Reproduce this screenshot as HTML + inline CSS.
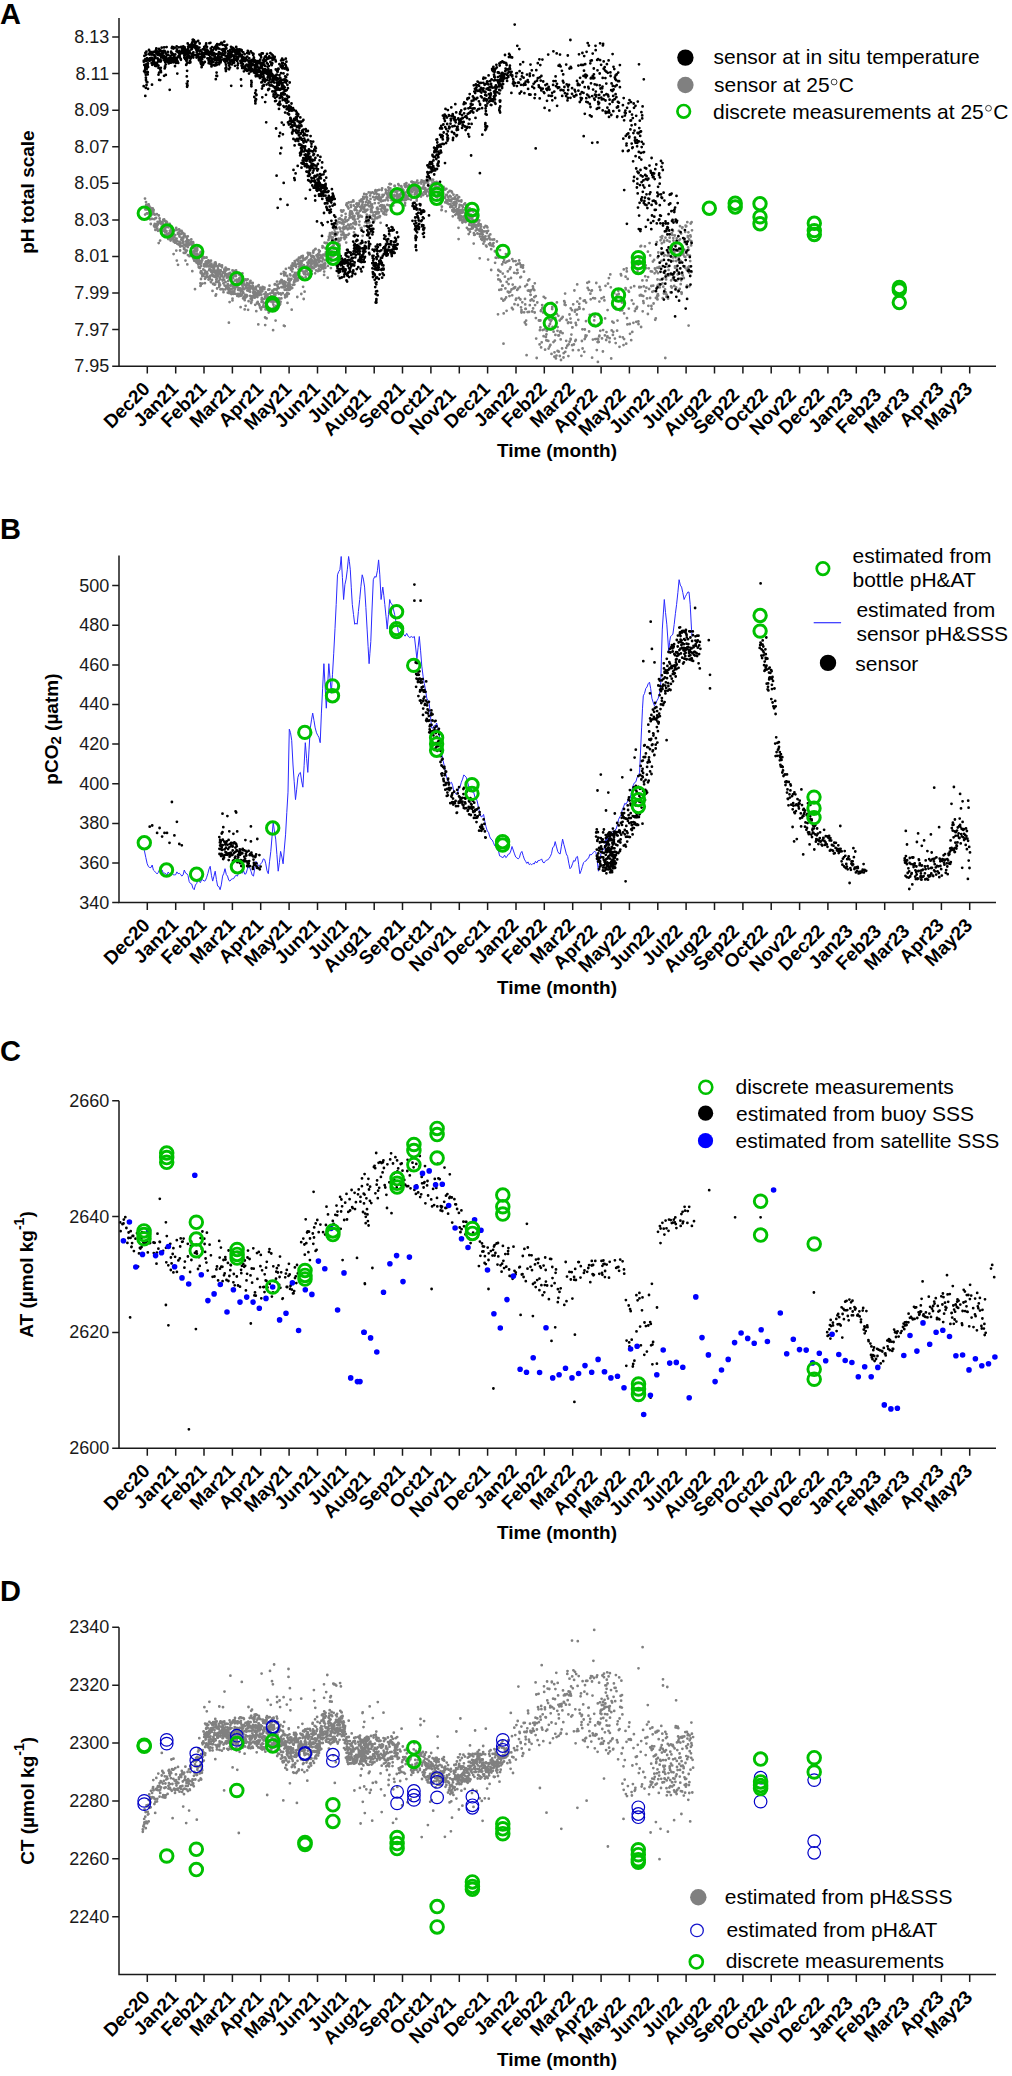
<!DOCTYPE html>
<html><head><meta charset="utf-8"><style>
html,body{margin:0;padding:0;background:#fff;}
svg{display:block;}
text{font-family:"Liberation Sans",sans-serif;fill:#000;}
.pl{font-size:29px;font-weight:bold;}
.tl{font-size:18px;text-anchor:end;fill:#1a1a1a;}
.xl{font-size:19px;font-weight:bold;text-anchor:end;}
.at{font-size:19px;font-weight:bold;}
.lg{font-size:21px;}
</style></head><body>
<svg width="1012" height="2076" viewBox="0 0 1012 2076">
<rect width="1012" height="2076" fill="#fff"/>
<path d="M145.0,198.6h0M145.1,214.6h0M145.4,209.4h0M145.8,208.1h0M146.0,202.1h0M146.2,204.9h0M146.8,213.4h0M146.6,208.9h0M147.3,209.3h0M147.3,209.4h0M147.8,213.5h0M147.4,204.8h0M147.8,206.4h0M148.2,218.2h0M148.6,205.2h0M148.7,204.4h0M149.3,211.4h0M149.0,206.5h0M148.9,205.6h0M149.5,213.3h0M149.5,206.7h0M150.0,219.3h0M150.2,212.3h0M150.6,207.8h0M150.8,224.0h0M150.9,215.5h0M151.0,208.4h0M151.4,218.8h0M151.8,211.0h0M152.3,218.8h0M152.2,210.8h0M152.2,209.3h0M152.7,214.1h0M152.7,208.5h0M153.1,213.9h0M153.2,211.9h0M153.6,210.0h0M153.4,211.1h0M154.0,225.8h0M154.2,213.9h0M154.3,219.2h0M154.7,227.1h0M154.6,224.5h0M154.8,223.9h0M154.7,214.7h0M155.0,214.6h0M155.4,229.9h0M155.5,218.1h0M156.1,218.0h0M156.2,225.3h0M156.2,226.8h0M156.3,224.4h0M157.1,225.8h0M156.9,214.2h0M157.6,221.9h0M157.3,228.4h0M157.7,224.8h0M158.0,230.8h0M158.6,222.3h0M158.7,243.1h0M159.0,223.1h0M158.8,215.5h0M159.6,230.2h0M159.6,218.5h0M159.4,222.1h0M160.1,240.6h0M159.9,221.0h0M160.6,222.3h0M160.3,223.0h0M160.3,229.3h0M161.2,222.9h0M160.7,223.6h0M161.6,232.8h0M161.7,223.2h0M161.7,231.9h0M161.8,222.2h0M161.8,226.4h0M162.3,222.0h0M162.7,223.2h0M162.5,223.9h0M162.8,230.9h0M163.2,224.1h0M163.3,219.7h0M163.6,230.1h0M163.9,229.3h0M163.7,220.4h0M164.1,219.4h0M164.6,234.9h0M164.3,227.1h0M165.0,229.8h0M165.1,220.9h0M165.2,232.0h0M165.3,228.4h0M165.3,226.0h0M165.2,225.2h0M166.0,222.5h0M166.2,226.8h0M166.6,234.7h0M166.5,231.2h0M166.4,221.6h0M167.1,235.1h0M167.0,222.4h0M167.1,235.1h0M167.4,233.6h0M167.8,234.7h0M167.9,225.6h0M168.2,239.1h0M168.3,227.3h0M168.9,233.4h0M168.7,234.5h0M169.5,239.1h0M169.5,238.3h0M169.1,236.5h0M169.7,224.0h0M169.8,230.8h0M170.6,240.6h0M170.3,225.5h0M170.1,225.9h0M170.8,229.3h0M170.9,234.0h0M171.2,227.9h0M171.5,230.4h0M171.3,232.2h0M171.9,227.0h0M171.6,235.0h0M171.8,238.9h0M172.3,233.5h0M172.4,237.3h0M173.0,231.2h0M172.9,236.2h0M173.0,230.4h0M173.4,233.5h0M173.4,239.9h0M173.6,254.1h0M173.6,241.5h0M173.9,237.2h0M174.4,237.2h0M174.1,230.3h0M174.5,242.1h0M175.0,242.7h0M174.8,230.3h0M174.7,241.8h0M175.2,239.9h0M175.2,235.1h0M175.6,240.3h0M176.0,241.7h0M175.7,242.3h0M176.3,250.6h0M176.6,229.9h0M176.2,227.9h0M176.8,260.6h0M176.6,238.6h0M176.6,241.1h0M177.3,243.8h0M177.2,240.9h0M177.9,233.8h0M178.0,264.8h0M178.0,232.8h0M178.4,232.6h0M178.2,243.9h0M178.7,244.6h0M178.9,234.5h0M179.0,229.4h0M179.5,234.7h0M179.4,230.0h0M179.5,236.6h0M179.7,242.0h0M179.8,231.0h0M179.6,233.9h0M180.1,243.6h0M180.1,250.5h0M180.2,246.5h0M180.6,231.0h0M180.9,245.8h0M181.1,245.7h0M181.2,233.9h0M181.3,239.6h0M181.7,238.0h0M181.6,231.0h0M181.9,239.1h0M182.4,246.0h0M182.2,232.3h0M182.5,242.8h0M182.8,237.7h0M182.5,240.7h0M183.4,242.1h0M183.3,238.4h0M183.1,241.3h0M183.7,252.8h0M183.8,236.5h0M183.7,233.7h0M184.0,249.0h0M184.1,235.3h0M184.3,247.6h0M184.4,244.6h0M184.4,233.9h0M184.9,235.9h0M185.4,236.4h0M185.2,252.9h0M185.2,249.7h0M185.5,260.6h0M185.7,252.2h0M185.8,252.2h0M186.1,241.5h0M186.1,245.9h0M186.9,238.0h0M186.5,243.7h0M187.1,240.2h0M186.9,250.6h0M187.3,264.4h0M187.8,247.1h0M187.9,255.1h0M187.8,236.3h0M188.2,245.7h0M188.2,242.8h0M187.9,242.0h0M188.6,243.8h0M188.8,244.6h0M188.8,240.3h0M189.2,244.5h0M189.3,244.0h0M189.3,244.8h0M189.4,256.2h0M189.5,244.5h0M190.4,243.7h0M190.3,255.7h0M190.0,243.9h0M190.8,242.0h0M190.8,242.1h0M190.9,253.5h0M191.2,244.2h0M191.3,239.4h0M191.4,256.1h0M191.6,254.7h0M191.8,251.7h0M191.8,242.7h0M192.1,253.8h0M192.3,245.1h0M192.3,271.2h0M192.6,253.8h0M192.6,254.3h0M193.1,242.2h0M193.2,258.4h0M193.3,257.4h0M193.3,243.3h0M193.5,252.8h0M194.2,248.6h0M194.1,251.1h0M194.2,260.7h0M194.7,258.3h0M194.4,255.5h0M194.6,253.1h0M195.0,289.2h0M195.2,257.5h0M194.8,247.9h0M195.7,261.4h0M195.4,255.1h0M195.5,250.5h0M195.8,260.3h0M196.1,257.6h0M195.8,258.4h0M196.5,262.5h0M196.4,248.2h0M196.5,255.5h0M197.0,253.6h0M197.3,249.9h0M196.8,250.9h0M197.6,259.9h0M197.3,247.8h0M197.3,254.0h0M198.2,264.5h0M197.9,257.2h0M197.8,261.8h0M198.7,267.1h0M198.7,258.7h0M198.3,255.6h0M199.0,263.5h0M198.8,260.6h0M198.9,267.6h0M199.3,267.5h0M199.3,254.7h0M199.5,267.6h0M200.2,260.8h0M200.0,264.0h0M200.0,268.0h0M200.4,252.6h0M200.4,262.1h0M200.3,263.2h0M200.8,251.8h0M201.1,265.9h0M201.2,263.3h0M200.7,285.7h0M201.0,279.0h0M200.5,285.9h0M200.4,283.3h0M200.8,271.8h0M201.4,271.5h0M200.9,271.5h0M200.6,272.7h0M201.5,262.0h0M201.7,272.8h0M201.6,255.3h0M201.8,274.0h0M202.2,258.5h0M202.2,260.3h0M202.3,283.6h0M202.4,255.0h0M202.3,276.2h0M203.2,274.4h0M202.8,274.9h0M202.8,256.9h0M203.5,274.7h0M203.3,269.3h0M203.5,275.8h0M204.1,266.2h0M204.1,257.3h0M204.0,264.5h0M204.6,273.4h0M204.3,257.9h0M204.3,265.7h0M204.7,270.6h0M204.9,283.2h0M204.7,266.4h0M205.6,262.2h0M205.2,264.1h0M205.5,277.1h0M205.0,278.8h0M205.8,277.5h0M206.6,275.5h0M205.9,262.9h0M205.9,272.4h0M206.1,264.4h0M206.5,257.7h0M206.5,257.4h0M206.2,261.4h0M206.8,266.4h0M206.9,271.9h0M206.9,264.1h0M207.4,273.7h0M207.5,266.2h0M207.3,265.3h0M207.9,266.2h0M207.9,276.7h0M207.8,262.1h0M208.5,279.5h0M208.4,260.3h0M208.2,261.6h0M208.3,262.8h0M208.7,279.5h0M208.9,262.5h0M209.0,265.6h0M209.2,270.2h0M209.6,268.5h0M209.6,268.6h0M209.6,265.4h0M209.9,277.4h0M210.1,276.0h0M209.8,279.0h0M210.5,266.0h0M210.4,261.2h0M210.3,264.8h0M210.8,281.8h0M211.0,282.2h0M211.0,260.7h0M211.3,270.3h0M211.4,263.7h0M211.2,271.8h0M211.7,275.3h0M211.8,272.1h0M212.0,280.0h0M211.9,274.7h0M212.3,267.4h0M212.4,274.7h0M212.5,274.2h0M212.5,290.9h0M212.7,265.3h0M213.1,284.1h0M212.7,266.0h0M213.5,270.7h0M213.3,276.3h0M213.5,271.7h0M213.6,270.4h0M213.9,276.2h0M213.8,269.0h0M213.8,270.2h0M213.7,283.7h0M214.2,267.8h0M214.1,271.7h0M214.3,284.5h0M214.5,264.1h0M215.0,266.1h0M214.9,276.9h0M214.7,263.3h0M214.9,262.7h0M215.5,262.4h0M215.4,273.8h0M215.6,295.7h0M215.1,284.6h0M215.9,264.0h0M215.8,263.8h0M216.0,270.7h0M216.0,276.2h0M216.1,282.0h0M216.3,279.6h0M216.6,266.0h0M216.1,294.5h0M216.7,273.7h0M216.8,274.0h0M216.7,271.7h0M217.4,275.1h0M217.0,278.5h0M217.5,273.3h0M217.1,288.5h0M217.8,266.6h0M217.9,271.7h0M217.6,281.9h0M218.1,269.8h0M218.3,276.0h0M218.0,268.7h0M218.5,272.6h0M218.6,274.6h0M218.8,280.8h0M219.3,285.8h0M219.2,284.9h0M219.1,265.5h0M219.4,264.5h0M219.6,270.6h0M219.8,272.0h0M219.9,277.7h0M219.6,272.3h0M219.4,283.2h0M220.1,284.9h0M219.3,286.7h0M220.0,274.0h0M220.4,270.6h0M220.4,289.3h0M220.0,279.3h0M220.8,270.5h0M220.9,265.9h0M220.8,271.3h0M221.1,275.9h0M221.3,274.8h0M221.3,275.1h0M221.8,276.1h0M221.7,274.5h0M221.8,274.7h0M222.0,267.3h0M222.0,265.4h0M222.1,289.2h0M222.6,280.6h0M222.8,272.5h0M222.8,280.1h0M222.6,279.7h0M223.4,289.7h0M223.0,272.7h0M223.4,283.3h0M223.5,277.3h0M223.5,292.2h0M223.6,283.3h0M224.3,271.2h0M224.2,280.0h0M224.3,269.3h0M224.7,270.0h0M224.6,285.5h0M224.7,275.6h0M225.0,273.8h0M225.0,271.9h0M225.1,269.6h0M225.4,289.3h0M225.6,282.1h0M225.6,267.7h0M225.8,270.5h0M226.5,274.5h0M226.3,286.2h0M226.2,287.4h0M226.3,274.4h0M226.7,287.9h0M226.8,277.7h0M226.9,286.7h0M227.0,275.4h0M227.1,269.5h0M227.2,287.0h0M227.6,269.1h0M227.8,284.2h0M227.9,275.8h0M227.8,292.7h0M228.3,289.4h0M228.1,274.7h0M228.2,280.9h0M228.1,285.3h0M228.6,273.6h0M228.5,276.7h0M228.9,322.7h0M228.9,269.3h0M228.8,287.8h0M228.8,290.5h0M229.0,293.1h0M229.6,278.8h0M229.8,291.0h0M229.6,302.1h0M230.1,274.3h0M229.9,292.0h0M230.2,272.8h0M230.4,278.2h0M230.6,285.7h0M230.3,288.9h0M230.8,293.6h0M231.3,293.4h0M230.9,284.9h0M230.8,278.0h0M230.9,278.7h0M231.5,293.1h0M231.4,294.0h0M231.4,279.7h0M232.1,291.5h0M231.9,292.4h0M232.2,288.7h0M232.5,270.5h0M232.5,298.6h0M232.5,300.4h0M233.1,281.9h0M233.0,286.2h0M233.1,285.0h0M233.2,278.2h0M233.5,276.1h0M233.5,288.0h0M233.5,293.9h0M233.4,286.2h0M233.9,271.2h0M233.9,273.6h0M234.3,287.0h0M233.9,292.6h0M234.4,291.1h0M234.4,286.7h0M234.4,293.2h0M234.8,289.1h0M234.9,288.5h0M235.0,286.8h0M235.3,280.4h0M235.5,293.8h0M235.5,274.8h0M235.6,270.6h0M236.2,287.1h0M236.1,270.5h0M235.9,276.2h0M235.8,284.2h0M236.6,280.0h0M236.4,280.0h0M236.8,279.6h0M236.9,284.9h0M237.0,282.6h0M237.2,286.3h0M237.6,281.1h0M237.8,282.5h0M237.3,295.9h0M237.5,272.9h0M238.0,282.2h0M238.0,294.0h0M238.1,289.8h0M237.9,285.3h0M238.5,288.0h0M238.8,296.3h0M238.3,282.3h0M238.3,283.3h0M239.0,274.5h0M239.0,279.1h0M238.9,281.8h0M239.0,281.1h0M239.7,280.9h0M239.4,278.2h0M239.6,290.2h0M239.5,281.4h0M240.1,288.4h0M239.8,294.0h0M239.9,274.9h0M239.9,284.1h0M240.6,307.2h0M240.5,277.9h0M240.6,280.1h0M240.9,295.8h0M240.9,277.5h0M241.1,291.6h0M241.5,289.4h0M241.2,280.8h0M241.3,290.8h0M241.9,294.5h0M242.2,284.0h0M242.1,290.6h0M241.8,275.2h0M242.4,273.5h0M242.7,286.9h0M242.4,285.3h0M242.5,277.4h0M242.7,279.3h0M242.9,280.5h0M242.8,291.8h0M243.1,298.4h0M243.3,289.1h0M243.6,282.8h0M243.4,293.0h0M243.6,279.4h0M243.8,281.1h0M243.8,279.8h0M243.7,296.7h0M244.6,279.7h0M244.5,289.0h0M244.2,284.4h0M245.1,284.9h0M244.7,300.2h0M244.7,309.4h0M245.0,298.1h0M245.6,279.5h0M245.6,305.8h0M245.7,286.1h0M245.4,294.8h0M245.9,287.3h0M245.9,280.1h0M245.7,297.1h0M246.6,285.8h0M246.3,297.0h0M246.5,280.0h0M246.8,287.7h0M246.8,284.5h0M246.7,295.2h0M246.9,283.1h0M247.3,290.5h0M247.5,290.0h0M247.7,283.8h0M247.1,296.0h0M248.1,309.8h0M248.0,288.6h0M247.7,279.3h0M247.7,289.7h0M248.6,301.2h0M248.2,290.1h0M248.3,288.3h0M248.5,289.8h0M249.0,284.7h0M249.0,291.1h0M248.9,287.9h0M249.3,290.8h0M249.7,286.3h0M249.4,286.6h0M249.7,289.8h0M250.1,295.8h0M250.0,288.1h0M249.8,282.4h0M250.2,291.8h0M250.5,280.8h0M250.3,285.8h0M251.1,303.1h0M250.7,298.7h0M251.0,296.2h0M251.4,302.3h0M251.4,282.9h0M251.4,301.5h0M252.1,298.3h0M251.8,287.1h0M252.0,300.2h0M252.2,287.8h0M252.6,283.6h0M252.2,288.6h0M252.7,282.8h0M252.9,286.1h0M252.9,287.9h0M253.3,296.8h0M253.2,292.8h0M253.6,288.5h0M253.5,292.5h0M253.5,291.2h0M253.6,290.1h0M253.5,295.5h0M254.1,295.6h0M254.5,296.0h0M254.2,295.0h0M254.5,293.3h0M254.7,295.3h0M254.8,294.8h0M254.7,297.7h0M255.4,292.1h0M255.2,304.8h0M255.4,287.9h0M255.9,286.9h0M256.0,289.2h0M255.6,287.3h0M256.3,311.2h0M256.3,294.8h0M256.1,289.6h0M257.0,296.2h0M256.7,294.1h0M256.9,296.5h0M257.0,302.8h0M257.4,297.0h0M257.2,303.4h0M257.8,286.2h0M257.7,301.9h0M257.8,293.8h0M257.9,294.2h0M258.3,324.4h0M258.1,291.1h0M258.2,292.3h0M258.9,293.8h0M258.7,294.6h0M258.7,285.1h0M258.8,294.3h0M259.5,305.4h0M259.0,304.1h0M259.4,292.3h0M259.6,292.8h0M260.0,287.6h0M259.5,295.1h0M260.1,307.7h0M260.3,289.3h0M260.3,293.2h0M260.6,292.0h0M260.7,289.8h0M260.9,288.9h0M261.4,294.3h0M261.1,309.5h0M261.4,294.6h0M261.6,299.6h0M261.6,301.9h0M261.8,298.0h0M262.3,307.1h0M262.4,301.3h0M262.3,290.5h0M262.3,291.3h0M262.8,288.8h0M263.0,299.1h0M262.6,287.0h0M263.3,306.8h0M263.4,305.3h0M263.4,287.1h0M263.8,303.0h0M263.8,287.7h0M263.5,288.5h0M264.4,294.2h0M264.4,289.0h0M264.0,298.9h0M264.7,306.8h0M264.5,294.2h0M264.5,287.6h0M265.2,325.1h0M265.1,296.8h0M265.1,317.5h0M265.7,292.5h0M265.8,296.1h0M265.6,309.4h0M265.9,303.0h0M266.4,298.5h0M266.1,303.3h0M266.5,303.8h0M266.6,318.4h0M266.9,295.7h0M267.2,294.9h0M266.9,303.9h0M267.1,295.0h0M267.9,294.3h0M267.6,301.8h0M267.6,309.6h0M268.2,289.7h0M268.1,296.8h0M268.1,300.9h0M268.7,311.1h0M268.7,312.6h0M269.1,297.8h0M269.1,308.8h0M269.4,289.5h0M269.5,297.5h0M269.5,285.7h0M270.1,297.4h0M270.3,301.4h0M270.0,293.6h0M270.7,310.8h0M270.7,298.8h0M270.8,298.5h0M271.1,296.2h0M271.0,301.1h0M271.1,310.5h0M271.8,292.7h0M271.5,309.8h0M272.2,299.8h0M272.3,296.7h0M272.7,302.4h0M272.4,290.7h0M273.1,330.2h0M273.2,292.6h0M272.9,291.1h0M273.4,304.7h0M273.5,300.3h0M273.6,308.1h0M274.1,294.6h0M274.2,297.3h0M274.1,307.1h0M274.7,284.5h0M274.3,289.5h0M275.0,284.2h0M274.9,301.6h0M275.4,294.9h0M275.6,320.6h0M275.7,293.5h0M275.8,299.9h0M275.9,298.4h0M276.1,305.8h0M276.5,301.7h0M276.6,290.0h0M276.5,289.2h0M277.0,285.3h0M277.1,302.4h0M277.0,281.6h0M277.5,284.7h0M277.6,302.3h0M277.6,307.0h0M278.0,287.0h0M277.9,292.7h0M278.0,303.8h0M278.3,298.9h0M278.6,293.5h0M278.5,298.9h0M278.7,293.8h0M279.3,299.2h0M278.8,288.2h0M279.0,298.4h0M279.6,283.4h0M279.6,305.0h0M280.2,304.0h0M280.0,281.6h0M280.0,301.8h0M280.3,293.4h0M280.6,301.8h0M281.1,294.6h0M281.1,273.8h0M281.2,282.2h0M281.4,298.4h0M281.4,280.0h0M281.4,287.2h0M282.2,287.3h0M281.8,280.1h0M282.5,282.0h0M282.6,283.6h0M283.0,283.0h0M282.8,293.2h0M283.6,286.1h0M283.6,284.0h0M283.5,286.5h0M283.9,273.6h0M283.7,271.8h0M283.9,325.7h0M283.8,287.4h0M284.6,285.5h0M284.2,275.4h0M284.2,281.3h0M285.0,295.1h0M284.7,326.1h0M284.7,289.8h0M285.1,297.4h0M285.2,287.1h0M285.5,273.0h0M285.4,275.2h0M285.4,283.9h0M285.9,268.9h0M285.7,282.3h0M285.8,285.9h0M286.6,289.8h0M286.3,294.4h0M286.6,289.4h0M286.5,296.0h0M286.7,294.6h0M286.9,296.4h0M287.0,289.4h0M287.2,294.6h0M287.7,289.4h0M287.2,276.0h0M287.5,302.9h0M287.3,292.8h0M288.1,287.7h0M288.2,285.5h0M288.2,280.2h0M288.2,287.2h0M288.4,283.1h0M288.3,284.4h0M288.5,278.7h0M288.2,288.8h0M288.8,293.8h0M289.1,267.8h0M288.7,289.0h0M288.9,289.9h0M289.4,279.7h0M289.4,283.6h0M289.5,281.9h0M289.5,284.3h0M289.7,289.7h0M290.0,274.3h0M290.1,284.6h0M289.8,279.1h0M290.2,286.4h0M290.1,287.3h0M290.5,275.4h0M291.0,269.7h0M290.7,280.1h0M290.8,287.3h0M291.5,265.7h0M291.4,278.9h0M291.3,267.6h0M291.3,288.4h0M291.7,267.7h0M291.7,309.7h0M291.7,266.4h0M291.7,266.8h0M292.2,287.9h0M292.3,265.3h0M292.2,271.4h0M292.9,284.8h0M292.6,263.4h0M292.8,268.7h0M293.5,276.5h0M293.4,276.0h0M293.5,264.9h0M293.9,274.8h0M293.9,282.2h0M293.8,265.7h0M294.0,263.5h0M294.4,284.6h0M294.3,281.2h0M294.6,279.7h0M295.0,273.0h0M295.0,262.7h0M294.7,261.1h0M295.2,276.2h0M295.1,278.1h0M295.3,281.4h0M296.0,267.1h0M295.7,264.4h0M295.9,277.9h0M296.2,274.8h0M296.2,266.5h0M296.5,275.8h0M296.6,273.2h0M296.8,259.8h0M296.6,280.2h0M297.3,279.4h0M297.3,297.0h0M297.2,280.6h0M297.9,280.3h0M297.7,261.0h0M297.5,272.6h0M297.8,279.4h0M298.2,263.9h0M298.2,274.1h0M298.2,278.2h0M298.6,269.4h0M299.0,257.6h0M298.7,258.5h0M299.3,266.8h0M299.4,262.9h0M299.2,273.5h0M299.4,263.7h0M299.5,264.8h0M299.7,267.9h0M299.7,270.2h0M300.0,263.2h0M300.1,257.8h0M300.4,267.6h0M300.4,260.8h0M300.7,277.7h0M300.9,264.2h0M300.9,270.0h0M301.1,277.0h0M301.3,294.0h0M301.2,266.0h0M301.2,261.3h0M301.6,263.4h0M301.5,256.3h0M301.8,277.1h0M302.4,266.4h0M302.3,270.9h0M302.4,261.0h0M302.4,256.6h0M302.8,256.0h0M302.8,258.1h0M303.0,277.8h0M303.1,266.7h0M303.2,267.8h0M303.1,286.8h0M303.6,273.0h0M303.7,299.0h0M303.7,272.2h0M303.9,265.2h0M304.2,266.3h0M304.2,259.6h0M304.2,274.2h0M304.6,259.1h0M304.6,291.7h0M304.9,272.2h0M305.2,258.6h0M305.5,274.4h0M305.4,259.3h0M305.6,270.8h0M305.7,267.8h0M305.7,277.2h0M306.5,267.2h0M306.5,270.3h0M306.5,266.6h0M306.7,269.3h0M306.6,258.0h0M306.7,271.4h0M306.6,271.1h0M307.4,262.6h0M307.1,257.3h0M307.4,274.3h0M307.8,253.0h0M307.8,265.8h0M307.6,266.3h0M307.9,264.1h0M308.1,269.6h0M308.3,253.8h0M308.2,268.0h0M308.5,273.6h0M308.8,260.3h0M308.5,261.7h0M308.4,255.0h0M309.2,267.1h0M309.3,276.5h0M309.1,275.3h0M309.8,261.5h0M309.7,273.6h0M309.4,269.3h0M309.6,253.2h0M310.2,266.3h0M310.1,253.4h0M310.0,253.8h0M309.9,263.2h0M310.8,259.0h0M310.4,262.1h0M310.7,266.1h0M310.9,264.6h0M311.3,265.3h0M311.2,256.0h0M310.9,262.8h0M311.7,268.3h0M311.8,271.0h0M311.5,260.9h0M311.7,274.1h0M312.0,267.5h0M312.1,256.8h0M312.2,260.4h0M312.4,263.6h0M312.5,267.5h0M312.6,257.2h0M312.4,256.0h0M313.3,252.7h0M312.9,256.7h0M313.1,252.6h0M313.4,251.1h0M313.8,256.7h0M313.8,250.5h0M313.9,268.3h0M313.9,261.8h0M313.9,262.7h0M314.8,260.9h0M314.4,258.3h0M314.5,265.5h0M315.1,249.3h0M315.0,259.7h0M315.1,273.3h0M315.6,249.0h0M315.8,263.6h0M315.8,266.6h0M316.0,263.1h0M316.3,265.7h0M316.1,270.5h0M316.5,255.5h0M316.4,261.6h0M316.6,263.6h0M317.1,259.9h0M317.2,263.5h0M317.4,264.6h0M317.6,257.4h0M317.5,264.6h0M317.7,256.5h0M317.9,255.3h0M318.0,254.2h0M317.9,271.2h0M318.7,268.9h0M318.6,254.9h0M318.7,266.1h0M318.8,250.2h0M319.1,250.7h0M319.2,262.0h0M319.2,252.1h0M319.3,259.9h0M319.8,270.5h0M319.6,258.2h0M319.7,254.9h0M319.8,251.2h0M319.9,260.9h0M320.2,270.4h0M320.3,266.5h0M320.1,265.7h0M320.5,257.3h0M320.6,269.8h0M320.7,264.8h0M320.8,255.5h0M321.3,265.7h0M321.2,267.2h0M320.9,266.7h0M321.8,265.1h0M321.7,257.6h0M321.6,268.4h0M322.3,258.0h0M322.2,257.4h0M322.2,261.4h0M322.5,246.1h0M322.5,247.5h0M322.7,258.9h0M322.7,266.1h0M323.0,258.5h0M323.0,246.9h0M322.8,254.9h0M323.3,247.2h0M323.6,268.5h0M323.4,255.3h0M324.1,274.9h0M324.0,254.7h0M323.7,263.9h0M324.6,242.7h0M324.2,271.6h0M324.4,266.7h0M324.8,267.9h0M324.9,260.3h0M325.1,255.6h0M325.6,248.4h0M325.3,267.9h0M325.4,267.5h0M324.8,265.1h0M325.2,263.5h0M325.3,263.8h0M325.8,252.3h0M325.7,243.1h0M325.8,253.8h0M326.3,260.3h0M326.6,253.4h0M326.3,255.5h0M327.1,253.2h0M327.2,248.0h0M326.9,243.0h0M327.3,248.8h0M327.4,251.3h0M327.1,254.6h0M327.9,265.9h0M327.7,277.7h0M327.9,244.3h0M328.5,240.1h0M328.1,258.9h0M328.5,248.9h0M328.6,253.0h0M328.6,259.3h0M329.0,238.3h0M328.9,236.6h0M329.4,249.6h0M329.1,251.9h0M329.1,254.8h0M329.9,236.0h0M329.8,234.4h0M330.0,233.1h0M330.1,255.5h0M330.1,254.2h0M330.1,248.7h0M330.9,268.1h0M330.8,251.2h0M330.6,236.4h0M331.4,257.0h0M331.1,258.2h0M331.4,261.1h0M331.9,239.7h0M331.9,238.4h0M331.8,247.0h0M332.1,232.6h0M332.1,233.6h0M332.4,237.7h0M331.7,251.5h0M332.9,246.0h0M332.7,237.4h0M332.8,240.0h0M333.0,255.1h0M333.4,256.3h0M333.1,248.3h0M333.7,245.2h0M333.8,253.3h0M333.9,225.8h0M334.4,228.9h0M334.4,248.9h0M334.3,234.5h0M334.9,254.9h0M334.5,232.9h0M334.6,229.7h0M335.3,240.4h0M335.0,232.3h0M335.1,235.7h0M335.9,226.7h0M336.0,234.2h0M335.6,254.2h0M336.2,232.8h0M336.4,239.2h0M336.1,222.5h0M336.8,228.5h0M336.9,234.5h0M336.9,251.8h0M337.1,224.2h0M337.5,222.0h0M337.1,249.3h0M337.7,244.7h0M337.8,242.8h0M337.8,232.6h0M338.1,247.8h0M338.4,240.6h0M338.3,275.9h0M338.8,219.0h0M338.9,241.1h0M338.6,238.6h0M339.4,244.5h0M339.5,227.6h0M339.8,222.5h0M339.9,218.5h0M339.7,245.5h0M340.4,240.1h0M340.1,228.9h0M340.3,228.5h0M341.0,219.3h0M340.7,231.4h0M340.7,238.8h0M341.4,234.7h0M341.1,210.5h0M341.1,238.0h0M341.6,215.6h0M341.7,223.3h0M341.6,211.6h0M342.5,222.5h0M342.3,220.1h0M342.5,231.6h0M342.6,220.2h0M343.0,234.5h0M342.6,211.6h0M343.4,232.9h0M343.5,210.5h0M343.0,227.9h0M343.7,221.6h0M343.5,229.3h0M343.6,224.3h0M344.0,237.4h0M343.8,226.8h0M343.9,234.6h0M344.4,228.7h0M344.6,239.0h0M344.6,235.1h0M344.8,221.9h0M345.2,219.0h0M344.8,228.6h0M345.6,213.8h0M345.3,226.8h0M345.7,217.1h0M346.1,237.2h0M346.2,242.6h0M345.9,235.2h0M346.5,220.9h0M346.4,226.3h0M346.3,205.0h0M346.8,203.5h0M347.2,203.7h0M346.8,221.2h0M347.4,228.8h0M347.2,228.5h0M347.4,206.5h0M347.7,229.3h0M348.1,234.8h0M347.7,206.6h0M348.5,208.5h0M348.3,219.8h0M348.2,224.6h0M349.2,225.6h0M349.0,233.8h0M348.8,202.4h0M349.5,217.9h0M349.7,215.3h0M349.6,227.5h0M349.9,213.3h0M350.1,212.2h0M350.0,228.4h0M350.4,217.0h0M350.7,205.1h0M350.4,211.2h0M350.9,207.0h0M351.0,214.1h0M350.8,224.3h0M351.6,228.3h0M351.6,212.1h0M351.3,202.1h0M352.0,217.6h0M351.8,211.6h0M351.7,217.1h0M352.6,226.6h0M352.6,226.9h0M352.5,213.5h0M353.2,200.3h0M353.1,219.1h0M353.0,216.8h0M353.5,201.4h0M353.2,223.4h0M353.4,215.8h0M353.7,205.5h0M354.0,232.3h0M354.1,217.8h0M354.7,209.5h0M354.5,216.1h0M354.6,210.0h0M354.7,228.7h0M354.8,221.2h0M354.7,263.4h0M355.5,224.4h0M355.2,219.7h0M355.3,224.0h0M355.6,208.5h0M355.5,207.5h0M355.9,222.2h0M356.2,224.2h0M356.5,213.4h0M356.4,204.0h0M357.0,206.8h0M356.9,210.6h0M356.9,203.4h0M357.4,205.0h0M357.1,204.2h0M358.0,218.6h0M357.8,206.0h0M357.6,204.5h0M358.2,216.0h0M358.4,215.6h0M358.4,213.2h0M358.8,203.5h0M358.7,204.4h0M358.7,244.5h0M359.3,225.0h0M359.4,221.6h0M359.2,216.9h0M359.7,200.8h0M359.8,211.1h0M360.2,207.0h0M360.4,210.6h0M360.3,215.7h0M360.8,228.2h0M361.0,210.0h0M360.8,201.3h0M361.2,199.7h0M361.3,206.4h0M361.2,208.8h0M361.5,228.0h0M361.8,205.4h0M361.9,216.7h0M362.2,201.7h0M362.5,204.5h0M362.5,202.5h0M362.6,199.2h0M362.9,202.0h0M362.6,235.8h0M363.2,211.8h0M363.2,206.9h0M363.2,197.0h0M363.9,198.5h0M364.0,208.0h0M363.6,208.8h0M364.5,206.6h0M364.2,194.0h0M364.1,198.5h0M364.5,226.1h0M364.8,209.8h0M364.9,212.0h0M365.4,210.0h0M365.3,204.8h0M365.2,222.2h0M365.7,205.2h0M365.8,196.8h0M366.0,202.0h0M366.1,219.2h0M366.2,219.2h0M366.2,211.1h0M366.8,214.7h0M366.5,194.4h0M366.8,197.3h0M367.0,199.6h0M367.2,223.2h0M367.1,197.4h0M367.5,209.7h0M367.4,221.3h0M367.6,205.1h0M368.3,217.1h0M368.3,217.1h0M368.3,203.2h0M368.8,201.3h0M368.7,192.4h0M368.6,228.5h0M368.9,218.4h0M369.0,218.6h0M369.4,206.4h0M368.9,220.1h0M368.4,220.0h0M369.5,222.4h0M369.7,215.6h0M369.8,202.2h0M370.1,195.5h0M370.3,215.8h0M370.1,202.5h0M370.5,199.0h0M370.4,192.6h0M370.9,204.5h0M370.8,209.5h0M371.3,209.9h0M371.1,193.0h0M371.0,212.0h0M371.6,208.5h0M371.8,206.6h0M371.6,210.5h0M371.9,206.4h0M372.2,218.8h0M372.1,204.5h0M372.6,192.4h0M372.5,207.4h0M372.9,222.3h0M373.1,212.6h0M373.2,215.5h0M373.1,197.1h0M373.5,219.8h0M373.5,215.3h0M373.4,196.9h0M374.3,193.7h0M374.2,216.0h0M374.2,220.7h0M374.8,203.2h0M374.8,215.5h0M374.6,199.7h0M375.3,191.0h0M375.3,212.1h0M375.4,218.3h0M375.9,197.9h0M375.7,217.4h0M375.6,190.2h0M376.0,217.9h0M376.2,197.0h0M376.0,193.1h0M376.9,208.5h0M376.4,213.7h0M376.4,191.1h0M377.3,218.2h0M377.0,194.0h0M377.4,207.6h0M377.7,197.3h0M377.6,198.8h0M377.4,211.3h0M378.2,190.1h0M378.3,209.1h0M378.4,217.0h0M378.4,197.4h0M378.8,194.6h0M378.6,203.1h0M378.5,213.4h0M378.9,212.3h0M379.0,189.9h0M379.0,199.6h0M379.1,195.0h0M379.5,200.1h0M379.8,199.6h0M379.6,217.2h0M380.4,199.4h0M380.0,216.2h0M380.0,197.5h0M380.0,206.1h0M380.0,200.1h0M380.1,197.6h0M380.6,222.8h0M380.8,205.3h0M380.9,199.1h0M381.1,209.3h0M381.1,201.4h0M381.2,197.6h0M381.7,190.0h0M381.6,211.1h0M381.9,205.2h0M382.1,188.3h0M382.3,207.3h0M382.5,195.0h0M382.7,207.9h0M382.8,196.5h0M382.9,196.4h0M383.3,200.7h0M383.5,205.6h0M383.3,213.5h0M383.9,194.8h0M383.7,208.5h0M383.9,212.7h0M384.2,205.7h0M384.0,213.0h0M384.3,207.2h0M385.0,207.1h0M384.6,208.5h0M384.6,214.3h0M384.6,211.2h0M385.0,208.9h0M385.4,209.5h0M385.1,200.3h0M385.9,243.9h0M385.8,192.9h0M385.6,189.6h0M386.4,211.5h0M386.2,190.7h0M386.2,214.6h0M386.8,197.9h0M386.7,198.2h0M387.0,198.5h0M387.3,204.8h0M387.2,194.3h0M387.4,210.0h0M387.7,196.9h0M387.7,196.1h0M388.0,200.3h0M388.3,193.2h0M388.4,187.5h0M388.1,194.1h0M388.9,188.1h0M388.5,190.6h0M388.8,196.3h0M389.0,197.3h0M389.2,193.0h0M389.2,188.9h0M389.5,184.1h0M389.8,206.2h0M389.9,184.0h0M389.8,235.7h0M389.6,205.4h0M390.4,188.3h0M390.3,195.7h0M390.1,193.1h0M390.9,184.1h0M390.7,198.1h0M390.8,192.4h0M391.2,191.1h0M391.3,209.3h0M391.4,196.9h0M391.7,192.5h0M391.8,194.7h0M391.5,200.2h0M392.3,200.2h0M392.2,205.7h0M392.3,197.9h0M392.9,200.4h0M392.8,195.9h0M393.2,205.4h0M393.1,191.5h0M393.5,197.5h0M393.6,200.2h0M393.7,199.1h0M394.4,195.0h0M394.1,201.0h0M394.5,185.9h0M395.0,196.2h0M394.7,199.5h0M394.9,191.4h0M395.2,200.2h0M394.9,185.9h0M395.0,200.7h0M395.6,191.7h0M395.5,189.4h0M396.1,195.8h0M395.8,191.8h0M396.4,201.1h0M396.3,191.5h0M396.5,196.4h0M397.2,193.5h0M397.2,199.0h0M396.9,190.9h0M397.6,196.0h0M397.7,189.2h0M398.2,190.4h0M397.8,198.3h0M398.7,196.2h0M398.3,184.2h0M398.8,185.3h0M399.1,190.3h0M399.4,194.8h0M399.6,200.4h0M400.0,196.5h0M399.9,199.0h0M400.4,199.1h0M400.3,194.2h0M401.1,193.5h0M401.2,186.2h0M401.1,193.2h0M401.5,186.9h0M401.3,200.5h0M402.1,193.6h0M401.8,199.0h0M402.4,189.0h0M402.3,199.8h0M402.3,200.0h0M402.9,190.2h0M403.0,195.2h0M402.9,195.1h0M403.7,195.1h0M403.4,190.2h0M404.2,192.8h0M404.1,200.1h0M404.7,185.0h0M404.6,185.5h0M404.7,184.1h0M405.2,198.1h0M405.0,192.7h0M405.5,196.9h0M405.0,205.4h0M405.1,203.0h0M404.8,195.7h0M405.5,185.7h0M405.4,193.8h0M405.4,187.0h0M406.0,185.5h0M405.9,195.4h0M406.0,199.8h0M406.7,186.4h0M406.4,183.2h0M406.9,197.4h0M406.9,191.7h0M407.4,190.1h0M407.4,186.4h0M408.0,189.2h0M407.9,196.4h0M408.3,196.3h0M408.3,198.9h0M409.2,194.2h0M409.0,192.9h0M409.0,184.8h0M409.5,188.0h0M409.4,190.1h0M410.1,191.7h0M409.9,193.8h0M410.6,195.1h0M410.2,187.9h0M410.8,199.7h0M410.9,190.4h0M411.4,181.8h0M411.3,194.6h0M412.1,187.0h0M411.9,181.6h0M412.4,188.7h0M412.6,197.7h0M412.4,191.9h0M413.0,183.7h0M413.0,186.9h0M413.7,182.4h0M413.2,188.7h0M413.6,186.4h0M413.9,185.6h0M413.9,190.1h0M414.7,194.5h0M414.7,188.1h0M414.8,184.0h0M414.8,189.3h0M415.3,192.9h0M415.6,192.2h0M415.7,182.7h0M415.7,193.9h0M416.1,189.5h0M415.7,186.0h0M416.3,190.7h0M416.7,188.9h0M416.7,200.7h0M417.2,195.1h0M416.8,186.8h0M417.0,193.2h0M417.9,195.9h0M416.7,198.9h0M417.6,190.9h0M417.3,180.6h0M418.2,209.8h0M418.1,196.7h0M417.7,195.5h0M418.6,188.3h0M418.3,183.2h0M419.1,187.0h0M419.0,190.6h0M419.7,187.6h0M419.6,190.0h0M419.5,188.7h0M419.5,195.1h0M420.1,191.1h0M420.1,192.4h0M420.1,188.6h0M420.9,182.2h0M420.7,193.9h0M421.2,183.6h0M421.0,196.6h0M421.6,180.4h0M421.5,194.0h0M422.2,194.8h0M422.1,181.3h0M422.0,188.3h0M422.6,181.9h0M422.6,187.7h0M422.8,188.3h0M423.2,195.1h0M423.4,181.2h0M423.3,188.1h0M423.7,192.4h0M423.7,185.2h0M424.2,188.0h0M424.4,183.4h0M424.2,192.1h0M424.5,189.0h0M424.8,181.5h0M424.6,192.5h0M425.3,188.2h0M425.1,191.6h0M425.8,193.6h0M425.6,193.7h0M426.0,180.3h0M426.3,191.5h0M426.6,182.3h0M426.8,190.1h0M426.9,179.5h0M427.3,196.0h0M427.4,182.0h0M427.7,180.0h0M428.2,183.6h0M428.3,180.9h0M428.8,188.8h0M428.8,192.1h0M429.4,193.8h0M429.0,185.8h0M429.6,195.2h0M429.5,191.1h0M429.9,193.4h0M430.4,192.7h0M430.1,189.9h0M430.0,186.9h0M430.8,180.2h0M430.8,188.5h0M431.1,193.7h0M431.1,186.4h0M431.9,194.3h0M431.6,184.6h0M431.8,192.6h0M431.8,195.2h0M432.7,179.6h0M432.6,182.5h0M433.1,189.1h0M433.1,179.8h0M433.3,182.6h0M433.4,191.5h0M433.8,195.0h0M434.2,192.5h0M434.6,182.5h0M434.3,188.5h0M435.1,188.1h0M434.8,189.3h0M435.4,186.1h0M435.4,186.9h0M436.0,196.8h0M436.2,187.2h0M436.1,187.8h0M436.6,182.0h0M436.3,184.3h0M436.9,182.9h0M437.2,197.0h0M437.5,188.2h0M437.4,182.8h0M437.3,197.6h0M437.9,187.0h0M438.0,183.2h0M438.1,194.0h0M438.4,193.4h0M438.5,189.0h0M438.8,186.6h0M439.2,192.8h0M439.4,188.0h0M439.3,192.6h0M440.1,199.3h0M440.2,194.3h0M440.3,198.9h0M440.3,204.1h0M441.0,189.3h0M440.8,196.9h0M441.6,193.2h0M441.5,196.5h0M441.6,201.1h0M441.6,209.9h0M441.7,210.0h0M441.5,210.2h0M441.9,206.7h0M441.2,200.4h0M442.2,189.4h0M441.8,196.7h0M442.7,193.5h0M442.4,194.9h0M443.1,190.6h0M443.0,191.9h0M443.3,193.1h0M443.5,187.0h0M443.8,187.7h0M444.2,188.8h0M444.5,188.7h0M444.4,196.9h0M444.9,196.9h0M445.0,197.8h0M445.2,202.4h0M445.3,189.6h0M446.0,194.8h0M445.8,211.3h0M446.4,188.8h0M446.4,200.2h0M447.0,203.0h0M446.8,194.8h0M447.2,200.9h0M447.2,202.0h0M448.0,196.8h0M448.1,192.3h0M448.6,199.6h0M448.4,197.3h0M448.7,196.7h0M448.6,204.0h0M449.6,191.0h0M449.4,200.5h0M450.1,200.0h0M449.9,196.0h0M450.3,207.0h0M450.5,204.4h0M450.3,200.8h0M450.8,191.1h0M450.7,196.6h0M450.9,199.9h0M451.1,201.4h0M451.5,191.4h0M451.2,200.7h0M451.8,199.3h0M451.8,206.2h0M452.0,192.4h0M452.3,206.9h0M452.5,210.9h0M452.3,210.1h0M452.8,216.3h0M453.0,203.6h0M452.7,198.7h0M453.6,208.5h0M453.5,194.7h0M453.7,211.9h0M454.0,204.9h0M453.9,202.4h0M454.5,209.9h0M454.2,198.8h0M454.6,204.0h0M455.0,202.5h0M455.0,198.9h0M454.8,197.5h0M455.2,201.8h0M455.2,203.4h0M455.3,214.8h0M455.3,210.0h0M456.0,205.6h0M455.8,206.7h0M456.4,213.7h0M456.5,203.6h0M456.3,211.4h0M456.5,195.3h0M456.6,210.2h0M456.5,202.3h0M457.1,200.1h0M457.0,209.4h0M457.1,195.4h0M457.6,198.5h0M457.7,213.5h0M457.6,213.7h0M457.6,209.4h0M458.5,211.1h0M458.1,214.7h0M458.5,218.0h0M458.6,239.1h0M458.7,216.2h0M458.5,227.8h0M459.1,197.2h0M459.2,207.3h0M459.0,201.0h0M459.7,218.2h0M459.9,220.2h0M459.6,204.9h0M460.0,213.2h0M460.1,211.8h0M460.1,210.1h0M460.6,211.6h0M460.5,215.7h0M460.7,219.1h0M461.4,200.5h0M461.1,218.7h0M461.3,201.5h0M461.6,212.5h0M461.7,205.5h0M462.0,209.9h0M462.4,222.6h0M462.0,216.6h0M462.5,212.6h0M462.2,220.8h0M462.7,206.4h0M462.9,221.3h0M462.9,207.3h0M463.4,210.5h0M463.1,220.2h0M463.1,211.1h0M463.6,216.8h0M463.8,221.4h0M463.6,217.8h0M464.4,216.1h0M464.3,204.2h0M464.4,219.5h0M464.8,219.4h0M465.0,216.1h0M464.5,216.3h0M465.2,215.0h0M465.1,213.1h0M465.1,203.5h0M465.5,208.2h0M465.9,209.1h0M465.6,222.0h0M466.1,205.5h0M466.2,215.7h0M466.3,218.6h0M466.8,221.1h0M466.8,216.4h0M466.9,227.8h0M467.2,216.6h0M467.4,206.4h0M467.0,213.6h0M467.3,217.7h0M467.7,207.6h0M467.7,210.7h0M467.7,217.8h0M468.3,229.5h0M468.4,209.5h0M468.2,217.6h0M468.9,211.7h0M468.9,215.3h0M468.7,234.1h0M468.9,215.1h0M468.9,214.6h0M469.2,215.2h0M468.8,219.7h0M469.3,224.9h0M469.7,208.3h0M469.8,223.5h0M469.5,211.2h0M469.6,223.9h0M470.0,215.4h0M470.0,229.3h0M470.0,231.8h0M470.1,218.2h0M470.5,210.9h0M470.5,222.8h0M470.4,222.2h0M471.2,210.6h0M471.3,222.4h0M471.1,214.7h0M471.8,226.0h0M471.7,228.6h0M471.5,218.8h0M472.0,218.4h0M472.3,225.7h0M471.9,228.5h0M472.5,216.9h0M472.8,228.3h0M472.4,224.7h0M472.9,219.8h0M473.3,211.6h0M473.2,226.8h0M473.7,243.6h0M473.7,225.8h0M473.7,222.3h0M473.9,233.2h0M474.2,234.9h0M474.1,223.6h0M474.5,224.3h0M474.6,221.9h0M474.6,215.6h0M474.8,221.1h0M474.8,234.7h0M475.4,220.7h0M475.7,230.6h0M475.5,226.8h0M476.3,225.2h0M476.0,215.9h0M476.2,221.6h0M476.8,229.2h0M476.5,227.8h0M477.0,215.6h0M477.2,221.0h0M477.4,233.5h0M477.5,217.4h0M477.7,216.2h0M478.2,224.4h0M478.0,229.6h0M478.0,220.4h0M478.7,224.7h0M478.4,225.8h0M479.2,220.5h0M478.8,223.3h0M479.7,234.2h0M479.7,258.3h0M479.6,230.9h0M480.0,236.6h0M480.3,225.6h0M480.7,224.5h0M480.4,228.3h0M481.2,233.5h0M481.2,226.6h0M481.6,236.6h0M481.2,239.1h0M481.3,229.7h0M481.8,230.2h0M482.1,232.1h0M482.2,240.1h0M482.5,231.3h0M482.8,234.3h0M483.1,236.9h0M483.4,243.7h0M483.5,238.7h0M483.9,231.5h0M484.2,227.5h0M484.4,241.4h0M484.4,238.3h0M485.0,236.6h0M485.1,239.2h0M485.5,236.5h0M485.6,225.9h0M486.0,245.7h0M486.1,231.3h0M486.6,226.2h0M486.6,246.6h0M486.9,232.9h0M487.4,227.4h0M487.2,239.3h0M488.1,230.8h0M488.1,259.6h0M488.7,236.4h0M488.7,236.0h0M489.0,244.1h0M489.3,237.7h0M490.1,243.2h0M490.1,245.2h0M490.2,239.4h0M490.3,234.4h0M491.2,249.2h0M491.2,270.0h0M491.8,245.6h0M492.3,239.6h0M492.7,244.4h0M493.5,246.3h0M493.5,243.1h0M494.1,239.5h0M494.9,251.2h0M494.9,251.4h0M495.1,262.8h0M495.7,257.7h0M496.2,257.8h0M496.9,241.5h0M497.3,249.0h0M497.2,255.0h0M497.9,253.9h0M498.0,275.3h0M498.3,269.9h0M498.0,314.3h0M498.6,257.6h0M498.6,270.6h0M499.3,289.9h0M499.7,279.8h0M498.3,279.4h0M500.0,250.1h0M500.4,271.7h0M500.7,281.4h0M501.3,289.5h0M501.5,298.7h0M502.3,285.7h0M502.1,264.4h0M502.8,273.6h0M502.8,285.7h0M503.3,300.7h0M503.3,262.1h0M503.5,343.7h0M503.7,313.4h0M504.1,259.9h0M504.8,299.4h0M504.9,276.7h0M505.4,288.4h0M505.9,254.1h0M505.5,262.7h0M506.1,297.5h0M506.6,310.8h0M506.7,281.9h0M507.1,256.1h0M507.4,261.4h0M507.8,271.4h0M507.8,291.7h0M508.4,279.2h0M508.6,284.1h0M508.8,292.6h0M509.2,260.7h0M509.3,253.4h0M509.5,296.1h0M509.8,269.2h0M510.3,291.8h0M510.6,267.4h0M511.5,289.5h0M511.0,278.0h0M511.9,308.0h0M512.2,295.3h0M512.3,259.1h0M512.9,309.3h0M512.7,284.6h0M513.4,261.2h0M513.8,288.4h0M513.8,287.9h0M514.5,304.2h0M514.2,272.8h0M514.9,287.8h0M515.2,287.1h0M515.6,261.1h0M515.8,299.8h0M516.3,264.8h0M516.2,298.7h0M516.7,273.3h0M517.2,289.9h0M517.3,269.9h0M517.7,272.8h0M517.9,305.0h0M518.0,263.8h0M518.1,288.7h0M518.9,297.9h0M519.1,260.5h0M519.8,263.4h0M519.9,287.0h0M520.4,299.5h0M520.3,277.4h0M520.9,265.1h0M521.0,276.9h0M521.0,266.9h0M521.0,266.9h0M521.0,307.3h0M521.4,311.9h0M521.5,312.6h0M521.5,310.1h0M521.5,312.6h0M521.6,312.0h0M522.3,302.3h0M522.9,267.7h0M523.1,265.5h0M524.0,271.7h0M524.1,312.3h0M524.8,322.5h0M525.0,298.9h0M525.2,286.3h0M525.2,304.4h0M525.8,308.9h0M525.4,308.9h0M526.0,324.5h0M526.1,320.6h0M527.0,284.7h0M526.6,355.2h0M527.6,312.1h0M527.9,290.6h0M528.2,280.5h0M528.8,290.5h0M529.3,279.4h0M529.1,311.9h0M529.8,305.2h0M530.4,294.8h0M530.3,291.6h0M530.5,300.5h0M530.7,294.8h0M531.3,290.1h0M531.8,299.4h0M532.2,311.5h0M532.9,286.4h0M533.1,308.4h0M533.3,288.6h0M533.6,300.8h0M534.3,290.2h0M534.3,297.2h0M534.8,283.3h0M534.7,312.5h0M535.1,305.1h0M535.8,296.1h0M535.9,318.1h0M536.2,338.6h0M536.7,358.0h0M537.3,302.5h0M538.9,320.5h0M539.5,320.5h0M539.9,330.2h0M539.6,344.4h0M540.4,320.5h0M540.4,327.4h0M540.8,311.1h0M541.1,347.4h0M541.2,310.1h0M541.7,342.3h0M542.4,307.9h0M542.2,305.1h0M542.7,330.1h0M543.1,312.5h0M543.7,296.8h0M543.6,336.2h0M544.3,309.4h0M544.5,329.3h0M545.1,349.7h0M545.3,298.1h0M546.0,314.0h0M545.9,337.0h0M546.4,334.4h0M546.3,340.3h0M546.8,330.9h0M547.2,330.0h0M547.6,340.7h0M548.3,340.9h0M549.0,326.0h0M548.6,348.6h0M549.3,319.6h0M549.1,316.2h0M549.6,346.6h0M550.0,323.9h0M550.4,329.2h0M550.4,344.9h0M550.8,321.3h0M551.5,320.1h0M551.2,329.3h0M551.5,353.9h0M551.8,302.9h0M552.2,309.0h0M552.3,307.0h0M553.0,318.2h0M552.6,326.9h0M553.5,342.1h0M553.6,331.7h0M554.5,352.3h0M554.4,356.7h0M554.9,340.6h0M555.4,317.9h0M555.4,334.9h0M555.9,358.4h0M556.5,355.6h0M556.8,313.8h0M556.9,302.4h0M557.5,330.8h0M557.6,327.1h0M557.6,351.0h0M558.4,315.8h0M558.4,335.5h0M558.8,351.7h0M559.0,335.4h0M559.8,356.0h0M559.7,320.5h0M560.1,332.4h0M560.6,331.3h0M560.7,339.4h0M561.0,360.0h0M561.0,318.9h0M561.9,318.2h0M562.1,348.4h0M562.6,333.2h0M562.7,316.9h0M563.5,357.5h0M563.7,353.2h0M564.2,301.1h0M564.7,304.7h0M564.8,302.7h0M565.3,351.8h0M565.1,293.6h0M565.6,305.1h0M566.2,340.8h0M566.2,347.8h0M566.6,320.0h0M567.3,345.7h0M568.0,323.1h0M568.4,322.5h0M568.4,356.1h0M568.7,344.3h0M569.5,314.5h0M569.6,341.7h0M570.5,318.6h0M570.7,308.3h0M570.7,339.5h0M570.6,338.8h0M571.0,322.7h0M571.4,334.6h0M572.0,310.2h0M572.3,327.5h0M572.1,345.2h0M572.5,327.4h0M572.9,350.2h0M573.2,304.3h0M573.9,344.5h0M574.4,290.5h0M574.9,311.7h0M575.4,309.9h0M575.3,341.1h0M575.8,339.9h0M575.7,323.0h0M576.2,325.1h0M576.8,314.5h0M577.3,301.6h0M577.2,284.4h0M577.5,309.6h0M578.3,319.8h0M578.6,350.2h0M579.3,303.8h0M579.2,307.2h0M579.6,308.7h0M580.1,298.4h0M581.4,355.8h0M581.9,341.0h0M582.4,329.3h0M582.6,348.5h0M583.5,309.2h0M583.7,300.9h0M584.3,351.8h0M584.9,300.3h0M584.8,329.5h0M585.5,336.6h0M584.7,339.1h0M585.6,337.1h0M585.6,335.5h0M585.5,337.2h0M586.1,302.6h0M586.0,321.2h0M586.6,335.6h0M587.3,282.8h0M587.7,288.0h0M588.8,289.9h0M589.0,281.9h0M589.1,331.5h0M589.8,314.8h0M590.4,293.7h0M590.7,299.3h0M591.4,290.8h0M591.9,290.5h0M592.1,357.7h0M592.9,339.6h0M593.2,298.1h0M593.8,325.0h0M594.2,320.4h0M594.5,316.5h0M595.3,339.1h0M595.0,298.4h0M595.8,326.2h0M596.3,283.0h0M596.8,350.1h0M597.4,339.0h0M597.9,361.9h0M598.4,314.2h0M598.6,324.1h0M597.6,342.1h0M599.4,335.7h0M598.1,339.2h0M599.2,336.4h0M598.4,342.1h0M598.7,341.9h0M599.4,301.6h0M599.6,287.0h0M600.3,330.8h0M600.4,290.0h0M600.6,318.6h0M601.3,322.9h0M601.5,298.3h0M602.0,338.4h0M602.9,351.5h0M603.1,330.1h0M603.8,297.2h0M604.4,300.4h0M604.9,335.4h0M605.1,318.4h0M605.5,285.8h0M606.2,340.0h0M606.5,332.1h0M607.3,337.2h0M607.5,336.4h0M607.6,310.1h0M608.0,283.6h0M608.9,278.1h0M609.5,342.0h0M609.7,338.2h0M610.3,274.4h0M610.8,287.3h0M611.2,358.5h0M611.7,330.4h0M612.3,321.6h0M612.9,334.9h0M613.3,331.8h0M613.6,322.7h0M614.2,293.1h0M614.9,338.6h0M615.2,307.2h0M615.7,343.1h0M616.1,299.5h0M616.8,294.8h0M617.1,330.7h0M617.5,320.6h0M618.3,290.8h0M618.7,294.0h0M619.5,346.8h0M619.9,336.8h0M620.1,310.4h0M620.8,274.1h0M621.2,275.4h0M622.0,302.5h0M622.2,310.3h0M622.8,337.3h0M623.5,345.1h0M623.8,269.4h0M624.1,313.4h0M624.1,339.1h0M624.8,302.9h0M625.5,288.1h0M625.6,276.7h0M625.8,289.4h0M626.2,343.7h0M627.0,318.2h0M626.6,268.5h0M626.8,271.4h0M627.4,324.4h0M627.7,278.9h0M628.5,291.0h0M628.8,308.6h0M629.0,291.8h0M629.8,324.0h0M630.0,333.8h0M630.9,287.6h0M631.2,340.2h0M631.8,300.3h0M632.3,331.9h0M632.9,261.4h0M633.4,322.8h0M633.5,303.8h0M634.2,286.2h0M634.2,262.9h0M634.9,311.0h0M635.2,265.0h0M635.8,308.6h0M636.3,321.8h0M636.7,308.5h0M637.1,307.0h0M637.5,271.3h0M638.4,321.5h0M638.3,264.5h0M638.5,324.2h0M639.3,287.4h0M639.3,286.9h0M639.6,258.6h0M639.8,295.5h0M640.5,246.4h0M640.8,295.0h0M640.9,287.1h0M641.1,245.9h0M641.1,327.0h0M642.0,295.7h0M642.4,280.4h0M642.7,311.3h0M643.3,296.1h0M643.3,301.2h0M643.6,303.1h0M643.8,286.4h0M644.0,255.0h0M644.9,246.4h0M645.3,291.2h0M645.2,276.3h0M645.6,265.4h0M646.4,287.7h0M646.1,268.2h0M646.7,280.4h0M647.0,298.4h0M647.9,251.7h0M647.9,314.0h0M648.4,305.8h0M648.1,277.1h0M648.8,268.3h0M649.1,289.0h0M649.6,243.1h0M650.2,255.5h0M650.1,298.0h0M650.8,271.3h0M651.3,286.0h0M651.4,306.0h0M651.6,308.9h0M652.3,291.8h0M652.1,271.6h0M652.9,261.5h0M653.2,285.7h0M653.6,303.5h0M653.9,291.1h0M654.1,260.0h0M654.9,268.4h0M654.6,273.3h0M655.2,319.8h0M655.2,269.2h0M655.9,297.9h0M655.8,318.3h0M656.5,271.4h0M656.8,242.1h0M657.5,279.5h0M657.4,267.6h0M657.1,299.0h0M657.5,299.4h0M657.6,285.6h0M657.0,296.9h0M657.3,295.6h0M657.9,294.1h0M658.0,273.2h0M657.7,257.5h0M658.3,252.5h0M658.2,295.6h0M658.8,284.5h0M658.7,267.9h0M659.4,284.2h0M659.4,266.8h0M659.9,284.5h0M659.8,287.3h0M660.2,279.8h0M660.5,240.3h0M660.7,237.1h0M661.3,252.6h0M661.4,261.0h0M661.9,238.2h0M661.8,243.3h0M662.4,278.6h0M662.3,236.2h0M662.7,298.2h0M662.5,283.4h0M663.3,286.7h0M663.2,278.3h0M664.0,242.0h0M663.9,293.5h0M664.1,255.8h0M664.2,240.6h0M665.0,289.3h0M664.7,255.2h0M665.3,358.0h0M665.4,293.4h0M665.9,274.8h0M665.8,292.3h0M665.5,237.7h0M666.1,279.4h0M666.4,296.9h0M666.9,276.2h0M666.7,294.7h0M667.4,255.6h0M667.2,240.5h0M667.5,266.7h0M667.7,249.8h0M668.1,298.7h0M668.4,275.7h0M668.6,269.9h0M668.8,274.1h0M668.7,253.1h0M669.4,247.6h0M669.3,255.5h0M669.6,241.7h0M669.7,237.7h0M670.4,260.3h0M670.4,292.3h0M670.6,274.8h0M670.5,274.5h0M671.1,286.5h0M671.2,251.1h0M671.1,280.4h0M671.8,287.5h0M671.8,233.1h0M672.5,245.5h0M672.3,234.9h0M672.9,257.5h0M672.9,231.0h0M673.4,240.6h0M673.3,238.1h0M673.3,260.9h0M673.8,251.2h0M673.6,276.8h0M673.6,273.5h0M674.2,285.9h0M674.3,252.7h0M674.2,277.1h0M672.9,278.5h0M673.8,277.1h0M675.0,266.5h0M674.8,235.5h0M675.0,267.7h0M675.4,244.8h0M675.5,250.7h0M675.6,257.4h0M676.2,261.0h0M676.1,287.5h0M676.1,267.2h0M676.7,238.3h0M677.0,280.7h0M677.2,250.5h0M677.1,268.8h0M677.3,279.8h0M677.9,290.8h0M677.7,274.5h0M678.1,291.6h0M678.1,243.1h0M678.9,230.9h0M678.6,257.7h0M678.5,260.1h0M679.3,262.4h0M679.1,240.3h0M679.7,288.9h0M679.6,251.5h0M680.4,278.7h0M680.0,226.2h0M680.0,239.3h0M680.7,284.2h0M680.9,261.2h0M680.5,249.0h0M681.2,280.3h0M681.1,233.6h0M681.3,292.3h0M681.6,293.1h0M681.7,292.6h0M681.6,293.8h0M682.2,228.1h0M682.4,274.7h0M682.5,227.5h0M682.8,275.3h0M682.9,252.4h0M683.4,253.8h0M683.4,254.8h0M683.8,278.2h0M683.8,278.0h0M684.4,256.5h0M684.4,250.0h0M684.2,240.4h0M684.9,266.4h0M684.5,242.2h0M685.3,256.9h0M685.2,267.8h0M685.2,231.9h0M685.6,225.6h0M685.8,243.4h0M685.9,226.5h0M686.1,251.3h0M686.3,226.2h0M686.7,286.5h0M687.0,285.7h0M686.8,269.9h0M687.3,222.2h0M687.0,269.7h0M687.2,270.1h0M687.9,237.2h0M687.8,236.1h0M687.5,254.8h0M688.2,267.5h0M688.1,247.4h0M688.4,232.3h0M688.6,325.6h0M688.8,249.8h0M689.0,266.4h0M689.0,272.6h0M689.2,239.5h0M689.4,286.3h0M689.9,266.6h0M689.9,255.6h0M690.4,235.5h0M690.2,261.1h0M690.7,223.5h0M690.7,236.6h0M691.1,245.4h0M691.3,241.2h0M691.1,241.6h0M691.6,222.2h0M692.0,230.3h0M691.6,271.9h0" stroke="#808080" stroke-width="2.8" stroke-linecap="round" fill="none"/>
<path d="M143.7,86.2h0M143.8,60.6h0M143.8,61.7h0M144.4,55.9h0M144.3,64.9h0M144.1,71.3h0M145.0,70.0h0M145.1,59.5h0M145.0,72.4h0M145.3,95.9h0M145.4,53.0h0M145.3,68.0h0M146.1,68.0h0M145.7,60.8h0M145.8,74.8h0M146.9,66.8h0M145.8,87.8h0M146.0,80.0h0M145.8,69.0h0M145.9,66.1h0M145.2,66.6h0M145.1,71.9h0M145.9,77.7h0M145.8,68.9h0M146.1,54.7h0M146.4,51.7h0M146.1,68.1h0M146.9,58.2h0M146.8,64.8h0M147.1,58.8h0M147.2,60.6h0M147.8,72.2h0M147.7,74.4h0M146.5,63.9h0M148.0,88.8h0M146.6,81.8h0M148.0,63.5h0M147.3,82.2h0M147.1,72.5h0M147.6,73.8h0M146.7,69.0h0M146.5,85.0h0M147.5,72.2h0M147.5,66.7h0M147.4,66.4h0M147.7,65.3h0M148.2,60.4h0M148.1,67.1h0M148.8,60.3h0M148.4,59.0h0M148.8,59.9h0M149.0,50.0h0M148.8,54.0h0M149.3,60.7h0M149.7,54.6h0M150.2,58.2h0M149.8,51.7h0M150.0,60.6h0M150.5,58.6h0M150.4,54.0h0M150.8,51.9h0M151.2,58.0h0M151.1,58.2h0M151.0,59.2h0M151.5,54.5h0M151.6,63.1h0M152.0,84.7h0M151.8,63.4h0M152.2,64.8h0M152.5,58.2h0M152.6,60.0h0M152.5,53.4h0M152.9,60.9h0M153.2,64.0h0M153.3,51.9h0M153.7,60.0h0M153.7,55.3h0M154.0,61.9h0M153.8,60.5h0M154.6,55.2h0M154.4,62.5h0M155.1,65.8h0M155.1,58.0h0M155.2,58.2h0M155.5,52.2h0M155.4,56.8h0M155.5,51.0h0M156.3,48.4h0M156.1,52.8h0M156.1,49.9h0M156.3,62.9h0M156.2,66.0h0M155.6,64.6h0M156.0,64.3h0M156.7,51.0h0M156.5,52.4h0M156.8,51.9h0M157.0,63.5h0M157.2,65.0h0M157.4,54.6h0M157.7,58.4h0M158.0,54.9h0M158.0,59.6h0M157.9,54.9h0M158.5,59.3h0M158.4,54.6h0M158.5,65.6h0M158.2,61.4h0M158.5,74.7h0M158.6,60.4h0M158.5,67.9h0M159.2,79.9h0M158.6,61.1h0M158.8,61.4h0M159.1,72.6h0M159.0,48.9h0M158.9,53.2h0M159.7,60.4h0M159.3,50.9h0M160.2,80.1h0M160.1,59.8h0M159.9,55.4h0M160.7,61.5h0M160.5,50.3h0M160.4,55.3h0M161.3,57.4h0M161.2,60.3h0M160.8,53.7h0M161.0,72.2h0M160.8,71.0h0M160.4,70.0h0M160.6,68.2h0M159.9,68.3h0M160.8,67.8h0M161.7,47.7h0M161.4,51.1h0M161.9,56.5h0M161.9,52.5h0M162.1,54.3h0M162.3,54.6h0M162.6,55.1h0M163.1,52.2h0M162.9,53.2h0M163.6,50.8h0M163.4,57.5h0M163.4,58.3h0M164.1,47.4h0M164.1,56.1h0M164.3,60.3h0M164.4,59.3h0M164.4,59.8h0M164.4,50.9h0M164.8,60.8h0M164.9,51.3h0M164.1,75.8h0M165.8,74.9h0M164.7,68.4h0M165.0,66.4h0M165.3,59.0h0M165.7,64.4h0M165.2,67.0h0M165.2,62.1h0M165.4,60.7h0M165.7,53.5h0M166.1,57.2h0M166.0,61.2h0M166.6,47.1h0M166.7,59.8h0M166.4,61.5h0M167.1,58.8h0M166.9,55.0h0M167.1,61.3h0M167.1,59.7h0M168.0,59.1h0M167.8,52.0h0M168.3,62.3h0M168.1,55.0h0M168.4,59.0h0M168.6,61.5h0M168.7,58.5h0M168.7,63.4h0M169.1,61.5h0M169.5,61.5h0M169.1,62.6h0M169.7,89.8h0M169.6,61.1h0M170.1,57.8h0M170.5,55.9h0M171.0,61.2h0M170.8,58.6h0M172.0,61.5h0M170.7,60.9h0M171.0,62.7h0M171.1,51.7h0M171.2,57.9h0M171.1,52.7h0M171.7,58.4h0M171.8,48.0h0M171.8,53.1h0M172.5,61.7h0M172.1,54.8h0M172.2,46.9h0M172.9,54.0h0M172.7,59.8h0M172.9,57.9h0M173.3,62.3h0M173.4,47.4h0M173.4,48.5h0M173.7,59.8h0M173.8,58.4h0M174.3,56.2h0M174.5,54.8h0M174.4,54.7h0M174.6,47.8h0M174.7,61.9h0M175.3,59.1h0M175.3,54.4h0M176.1,58.0h0M175.8,63.0h0M176.2,61.0h0M175.5,62.2h0M177.2,62.3h0M175.0,66.2h0M176.2,61.7h0M176.5,51.3h0M176.4,62.3h0M176.9,60.7h0M177.2,58.3h0M176.6,59.4h0M176.7,46.5h0M176.9,49.4h0M177.4,51.6h0M177.3,73.6h0M177.4,57.7h0M177.6,61.4h0M177.6,51.8h0M178.2,62.9h0M178.5,56.2h0M179.0,53.6h0M178.8,52.0h0M178.9,47.3h0M179.5,51.2h0M179.3,51.1h0M179.8,57.1h0M179.7,54.9h0M179.7,54.6h0M180.1,53.8h0M180.5,58.7h0M180.7,59.2h0M180.8,59.1h0M180.9,59.8h0M181.2,46.9h0M181.1,52.0h0M182.0,52.7h0M181.7,48.4h0M181.6,53.2h0M182.2,49.9h0M182.2,51.9h0M182.8,49.5h0M182.8,53.0h0M183.2,49.0h0M183.3,46.4h0M183.6,49.5h0M183.6,48.4h0M184.4,53.7h0M184.3,55.6h0M184.7,50.9h0M184.7,47.3h0M184.9,58.0h0M185.1,52.1h0M185.2,58.9h0M184.3,57.7h0M185.4,50.3h0M185.8,54.6h0M186.0,50.5h0M185.9,49.7h0M186.2,60.6h0M186.6,51.5h0M186.8,56.9h0M186.6,50.8h0M187.0,57.7h0M187.3,52.7h0M187.0,57.7h0M187.4,57.7h0M187.7,81.3h0M187.2,85.9h0M187.1,59.7h0M186.8,63.7h0M187.1,86.8h0M186.2,64.9h0M187.5,85.7h0M186.5,60.8h0M186.8,76.4h0M187.1,70.8h0M186.8,83.6h0M187.2,58.5h0M187.2,84.0h0M187.5,62.6h0M187.7,43.5h0M187.6,54.1h0M188.1,54.9h0M188.1,46.8h0M188.2,48.8h0M188.5,50.7h0M188.8,45.4h0M189.0,50.9h0M189.2,45.3h0M189.1,57.5h0M189.7,56.4h0M189.5,51.4h0M190.3,46.8h0M189.9,53.3h0M189.6,62.8h0M190.4,62.1h0M190.9,57.3h0M190.3,62.4h0M190.0,61.1h0M190.0,53.0h0M190.2,58.6h0M190.7,46.2h0M190.6,47.0h0M190.7,46.9h0M191.7,54.1h0M190.7,58.5h0M190.0,58.1h0M191.3,46.5h0M190.9,44.6h0M191.3,46.1h0M191.5,48.4h0M191.4,49.4h0M191.9,49.0h0M192.2,44.8h0M192.2,42.5h0M192.7,39.8h0M192.8,47.3h0M193.3,44.7h0M193.0,46.3h0M193.2,39.8h0M193.3,41.4h0M193.1,40.0h0M193.1,52.9h0M193.3,57.5h0M193.2,54.0h0M193.4,52.4h0M192.1,56.2h0M193.9,40.2h0M193.7,55.1h0M194.1,41.5h0M194.0,41.0h0M194.6,46.6h0M194.6,47.0h0M195.3,43.7h0M195.4,48.3h0M195.6,55.1h0M195.8,46.9h0M196.0,42.0h0M196.3,47.2h0M196.4,50.1h0M196.1,46.2h0M196.7,52.3h0M196.5,57.6h0M196.8,56.2h0M197.3,46.6h0M197.5,55.3h0M198.0,49.2h0M197.9,48.6h0M197.5,54.1h0M198.3,50.4h0M198.3,56.5h0M198.2,41.0h0M199.0,60.3h0M198.9,59.1h0M198.8,59.8h0M199.4,47.6h0M199.3,54.0h0M199.5,51.3h0M199.7,43.5h0M200.3,57.5h0M200.3,60.3h0M200.0,51.0h0M200.7,62.6h0M200.6,62.7h0M200.5,50.4h0M201.2,62.3h0M201.0,58.2h0M200.9,59.9h0M201.1,60.2h0M201.1,54.3h0M201.1,64.0h0M201.9,55.0h0M201.9,52.4h0M201.9,58.9h0M201.8,62.1h0M201.9,65.8h0M202.9,64.8h0M201.9,65.8h0M201.6,67.2h0M202.0,63.0h0M201.8,57.0h0M202.0,58.3h0M202.3,53.8h0M202.5,57.3h0M202.2,59.3h0M202.8,57.0h0M202.8,49.4h0M203.0,54.1h0M203.2,62.8h0M203.6,55.8h0M203.5,63.4h0M204.1,55.4h0M204.0,53.5h0M203.8,53.2h0M204.2,47.0h0M204.4,48.6h0M204.5,57.0h0M205.1,46.4h0M204.8,62.0h0M205.1,50.2h0M205.6,49.5h0M205.6,52.1h0M205.3,52.4h0M206.0,45.0h0M206.0,53.8h0M206.1,51.1h0M206.2,43.3h0M206.4,50.9h0M206.2,43.6h0M207.0,46.8h0M206.7,54.1h0M206.8,46.8h0M206.7,49.3h0M207.4,53.0h0M207.4,58.3h0M207.5,52.2h0M207.7,51.7h0M208.0,50.6h0M208.0,54.3h0M208.6,60.4h0M208.5,59.0h0M208.6,59.1h0M208.6,53.5h0M209.1,54.9h0M208.7,63.2h0M209.0,62.1h0M209.3,51.9h0M209.4,43.2h0M209.3,60.2h0M209.4,58.2h0M209.9,53.9h0M209.9,61.4h0M209.8,53.7h0M210.3,56.7h0M210.6,64.1h0M210.4,42.8h0M210.5,57.3h0M211.1,58.3h0M211.1,60.9h0M210.7,48.4h0M211.5,66.4h0M211.3,51.0h0M211.6,63.0h0M211.5,51.4h0M212.0,60.0h0M212.0,47.1h0M211.6,65.0h0M212.3,54.8h0M212.4,62.3h0M212.3,54.0h0M212.1,53.7h0M212.9,55.3h0M212.8,50.3h0M212.7,50.6h0M213.1,62.0h0M213.0,58.7h0M213.3,55.0h0M213.7,53.0h0M214.0,65.2h0M213.6,54.5h0M214.4,47.8h0M214.3,53.6h0M214.1,48.3h0M214.8,60.1h0M214.8,56.4h0M214.9,65.5h0M215.2,57.8h0M215.1,46.8h0M215.2,65.1h0M215.9,54.1h0M215.8,63.0h0M215.9,49.5h0M215.5,57.8h0M216.5,45.2h0M216.1,58.8h0M216.4,47.2h0M216.1,49.5h0M215.8,79.2h0M216.2,63.1h0M217.1,76.0h0M216.0,64.5h0M215.8,79.2h0M216.4,75.8h0M216.6,72.6h0M216.8,64.8h0M216.4,65.1h0M217.0,62.3h0M216.6,59.8h0M216.6,47.0h0M217.0,57.3h0M217.4,58.7h0M217.2,44.2h0M217.9,44.5h0M217.9,47.6h0M217.7,59.4h0M217.7,48.2h0M218.2,57.5h0M218.3,55.7h0M218.3,54.0h0M218.7,60.0h0M218.8,57.7h0M218.9,52.2h0M219.5,62.4h0M219.2,48.7h0M219.1,64.3h0M219.9,57.2h0M219.7,44.5h0M220.0,60.1h0M220.2,53.2h0M220.4,53.9h0M220.1,57.9h0M220.6,62.4h0M221.0,43.6h0M220.9,61.1h0M221.1,42.9h0M221.0,53.6h0M221.3,60.0h0M221.7,55.3h0M221.6,49.6h0M221.6,57.2h0M222.4,54.2h0M222.3,53.4h0M222.0,43.0h0M222.9,54.1h0M222.6,44.8h0M223.3,49.1h0M223.1,51.5h0M223.9,54.5h0M224.0,54.9h0M223.6,59.5h0M224.3,41.6h0M224.1,50.6h0M224.3,61.1h0M224.8,51.6h0M224.4,54.4h0M224.4,50.5h0M225.4,52.7h0M224.9,51.0h0M224.9,45.5h0M225.5,49.1h0M225.7,46.8h0M225.5,55.8h0M225.8,69.7h0M225.4,62.6h0M226.2,67.4h0M226.0,64.7h0M225.9,71.1h0M225.5,68.3h0M224.4,58.8h0M226.0,47.8h0M226.2,45.4h0M226.1,59.2h0M226.5,60.7h0M226.8,58.1h0M226.4,48.4h0M226.9,57.0h0M227.1,44.8h0M227.0,60.7h0M227.7,56.1h0M227.8,59.5h0M227.6,55.7h0M228.2,51.2h0M228.3,54.8h0M228.3,53.5h0M228.8,52.2h0M228.6,59.3h0M228.4,62.9h0M229.1,59.6h0M229.0,58.0h0M229.3,58.0h0M229.5,54.4h0M229.7,64.4h0M229.8,57.5h0M229.1,69.3h0M229.9,62.5h0M230.0,67.6h0M230.6,60.9h0M229.0,65.6h0M228.6,69.1h0M230.1,52.5h0M230.3,57.1h0M230.2,49.9h0M230.4,60.6h0M230.4,56.3h0M230.7,54.5h0M231.2,85.8h0M230.9,56.8h0M231.0,46.8h0M231.5,59.9h0M231.5,47.4h0M231.6,52.2h0M232.0,52.1h0M232.1,54.6h0M232.0,64.4h0M232.4,49.8h0M232.8,48.0h0M232.6,51.4h0M233.3,59.6h0M233.2,50.2h0M233.2,56.2h0M233.1,60.7h0M232.6,62.3h0M233.7,48.6h0M233.6,56.1h0M233.5,50.1h0M234.2,57.5h0M234.1,62.7h0M233.9,59.6h0M234.7,60.0h0M234.5,55.5h0M234.4,51.5h0M235.0,65.8h0M234.9,56.3h0M235.0,58.9h0M235.5,49.9h0M235.5,59.9h0M235.5,53.5h0M236.1,51.4h0M236.2,56.3h0M236.2,46.9h0M236.7,49.7h0M236.3,47.1h0M236.5,49.9h0M236.8,58.8h0M237.2,61.1h0M236.9,53.9h0M237.7,59.3h0M237.7,65.3h0M237.6,68.2h0M237.9,52.0h0M237.9,49.4h0M238.1,63.4h0M238.4,51.9h0M238.4,57.6h0M238.7,54.2h0M238.9,56.4h0M238.9,53.2h0M239.1,51.3h0M239.5,55.3h0M239.6,49.4h0M239.4,53.8h0M240.1,54.3h0M240.0,54.1h0M240.0,53.4h0M240.7,56.3h0M240.4,61.0h0M240.4,49.7h0M241.2,61.0h0M241.0,79.5h0M241.0,63.1h0M241.6,50.1h0M241.3,85.8h0M241.7,51.1h0M241.9,55.2h0M242.0,62.3h0M242.2,58.1h0M242.0,59.0h0M242.6,65.5h0M242.6,57.5h0M242.5,57.6h0M241.6,65.7h0M242.6,67.8h0M242.2,68.1h0M243.0,59.2h0M242.9,60.7h0M242.9,63.9h0M243.3,52.4h0M243.3,57.4h0M243.6,58.7h0M243.9,71.3h0M244.1,60.1h0M244.2,67.6h0M244.3,58.4h0M244.3,57.7h0M244.6,54.2h0M244.8,58.4h0M245.0,61.2h0M244.9,67.0h0M245.0,68.9h0M244.7,68.9h0M245.0,66.4h0M245.7,58.9h0M245.6,58.9h0M245.5,68.9h0M245.9,70.0h0M245.9,57.9h0M245.8,65.5h0M246.5,68.9h0M246.2,60.2h0M246.3,69.6h0M246.8,70.5h0M247.0,70.8h0M246.7,64.6h0M247.3,60.0h0M247.2,53.1h0M247.3,56.6h0M247.9,66.3h0M247.6,69.7h0M247.8,50.9h0M248.5,61.1h0M248.3,64.9h0M248.5,53.4h0M249.0,73.6h0M248.3,66.5h0M249.4,70.0h0M247.8,70.6h0M249.0,62.4h0M249.1,67.5h0M249.0,53.2h0M249.3,58.3h0M249.2,53.7h0M249.5,64.5h0M249.9,65.3h0M249.7,66.0h0M249.6,64.7h0M250.4,69.0h0M250.5,60.8h0M250.5,68.8h0M250.7,61.0h0M250.8,63.4h0M250.9,69.4h0M250.8,51.4h0M251.3,80.8h0M251.4,68.3h0M251.4,86.3h0M251.6,82.5h0M250.8,71.5h0M250.8,67.4h0M250.7,68.6h0M251.3,84.7h0M251.5,62.1h0M251.4,64.7h0M251.1,63.3h0M251.1,64.8h0M252.0,64.4h0M251.9,65.4h0M252.0,60.5h0M252.4,60.0h0M252.4,53.1h0M252.5,63.7h0M252.7,70.7h0M252.9,69.7h0M252.8,60.1h0M253.2,54.8h0M253.5,53.9h0M253.2,64.5h0M253.2,55.0h0M253.9,57.4h0M253.8,59.0h0M253.9,72.4h0M254.3,61.7h0M254.2,70.3h0M254.3,59.9h0M254.9,68.7h0M255.0,67.9h0M254.8,67.2h0M254.8,66.4h0M255.4,65.0h0M255.2,67.6h0M255.2,60.4h0M255.4,101.4h0M255.9,90.4h0M254.3,70.3h0M256.5,95.0h0M254.5,72.7h0M255.9,99.1h0M255.4,103.4h0M255.7,75.5h0M255.3,100.7h0M254.3,97.0h0M256.1,99.5h0M255.2,69.8h0M255.8,76.3h0M255.2,92.9h0M256.0,62.3h0M255.9,67.5h0M256.1,94.3h0M256.5,71.5h0M256.6,73.7h0M256.2,70.3h0M256.7,70.1h0M257.1,66.4h0M257.0,71.9h0M257.3,63.6h0M257.5,72.6h0M257.6,61.2h0M257.2,65.4h0M258.0,70.7h0M257.9,75.7h0M257.8,70.0h0M258.2,70.5h0M258.4,69.3h0M258.1,76.2h0M258.8,75.4h0M258.7,67.7h0M258.5,67.8h0M259.3,71.9h0M259.1,63.2h0M259.4,54.6h0M259.9,78.0h0M259.6,71.5h0M259.8,67.8h0M259.6,60.8h0M260.0,70.6h0M260.4,67.7h0M260.2,75.6h0M260.2,59.7h0M260.8,56.0h0M261.0,72.7h0M260.9,74.8h0M260.8,64.2h0M427.1,176.8h0M427.2,180.3h0M427.4,172.2h0M427.4,165.4h0M428.2,165.6h0M428.1,185.4h0M427.9,173.8h0M428.8,176.4h0M428.5,167.3h0M428.6,176.5h0M429.2,172.6h0M429.0,215.4h0M429.5,163.6h0M429.7,178.2h0M430.2,164.2h0M430.1,162.1h0M429.9,178.4h0M430.8,171.7h0M430.5,167.1h0M430.8,168.6h0M431.1,168.7h0M431.4,169.1h0M431.3,167.3h0M431.4,172.1h0M431.9,162.1h0M431.9,169.9h0M432.2,164.0h0M432.5,155.0h0M432.6,155.7h0M433.1,170.6h0M433.3,166.2h0M433.5,160.4h0M433.7,157.2h0M433.4,167.4h0M434.1,147.7h0M434.3,152.2h0M434.5,151.1h0M434.2,174.5h0M435.1,156.7h0M434.8,168.9h0M435.0,149.3h0M435.7,151.4h0M435.2,170.4h0M435.6,169.4h0M436.1,151.5h0M436.2,148.1h0M436.7,154.7h0M436.3,159.0h0M436.5,139.7h0M437.1,139.4h0M436.8,149.1h0M437.0,169.0h0M437.3,142.5h0M437.7,164.0h0M437.3,145.9h0M438.0,147.0h0M438.2,151.7h0M438.6,162.0h0M438.4,157.2h0M438.5,145.4h0M437.5,165.3h0M438.2,163.3h0M438.6,161.4h0M438.5,165.9h0M438.1,156.3h0M439.0,153.8h0M438.7,161.6h0M438.9,152.9h0M439.5,146.4h0M439.4,153.6h0M440.1,128.4h0M440.1,134.9h0M440.0,181.8h0M440.3,144.7h0M440.4,128.0h0M440.7,150.6h0M440.8,146.7h0M441.2,152.4h0M441.3,125.8h0M441.2,137.2h0M441.8,135.2h0M442.0,128.5h0M442.7,136.0h0M442.5,143.8h0M442.3,137.3h0M442.8,139.4h0M442.9,115.6h0M443.7,132.5h0M443.4,124.5h0M444.0,118.3h0M443.8,144.1h0M444.3,118.7h0M444.4,116.7h0M444.7,114.6h0M444.9,121.0h0M445.0,163.1h0M445.2,127.2h0M445.7,115.8h0M445.5,108.9h0M446.3,129.0h0M446.1,143.0h0M446.7,134.1h0M447.0,117.5h0M447.2,124.0h0M447.4,137.6h0M447.9,110.1h0M448.1,138.5h0M447.9,139.2h0M447.9,131.3h0M447.7,135.7h0M447.6,140.5h0M447.5,139.2h0M448.9,115.2h0M449.0,115.7h0M449.2,126.7h0M449.2,128.4h0M449.7,127.3h0M450.5,123.7h0M450.9,120.6h0M450.7,118.8h0M451.3,107.4h0M451.9,131.9h0M451.6,116.0h0M452.4,126.4h0M452.7,114.2h0M452.9,140.0h0M453.1,138.0h0M453.0,115.8h0M454.0,133.1h0M453.5,118.5h0M454.5,120.3h0M454.4,134.1h0M454.6,125.9h0M454.8,117.5h0M455.3,104.2h0M455.5,120.6h0M455.7,119.9h0M455.7,122.3h0M456.4,136.1h0M456.2,112.4h0M457.0,135.1h0M456.7,130.0h0M457.4,128.1h0M457.1,127.1h0M457.6,126.7h0M458.0,129.7h0M456.8,129.2h0M458.4,119.2h0M458.3,118.5h0M458.9,123.8h0M459.4,122.3h0M459.1,120.4h0M459.9,113.8h0M459.7,122.7h0M460.3,112.1h0M460.2,123.4h0M460.9,120.8h0M460.7,120.6h0M461.1,118.9h0M461.2,110.4h0M462.0,115.2h0M462.0,118.5h0M462.1,127.9h0M462.2,122.2h0M462.7,118.2h0M462.6,125.5h0M463.2,122.1h0M463.0,124.9h0M463.7,121.9h0M463.7,104.2h0M464.2,102.5h0M464.1,113.3h0M464.7,109.0h0M464.9,126.5h0M465.0,116.8h0M465.3,108.7h0M465.6,130.1h0M465.6,103.3h0M466.3,116.2h0M466.3,116.3h0M467.0,118.0h0M466.9,128.0h0M467.3,99.3h0M467.2,126.9h0M467.6,98.3h0M467.8,113.8h0M468.3,134.2h0M468.4,108.3h0M468.9,98.0h0M468.7,123.8h0M469.1,136.6h0M468.9,113.2h0M469.7,94.1h0M469.6,127.4h0M469.5,119.3h0M470.2,107.8h0M470.1,112.6h0M470.8,104.0h0M470.4,107.0h0M470.9,111.3h0M471.1,155.5h0M471.7,101.0h0M471.6,123.9h0M471.8,104.7h0M472.1,111.2h0M472.5,108.8h0M472.6,104.6h0M473.2,108.4h0M472.9,96.5h0M473.3,112.5h0M473.5,100.4h0M473.8,98.8h0M473.8,85.3h0M474.2,97.8h0M474.3,91.6h0M474.6,108.4h0M474.9,88.8h0M475.5,117.9h0M475.2,93.0h0M475.9,84.5h0M475.9,89.8h0M476.0,99.2h0M476.4,85.3h0M476.6,90.4h0M476.5,87.4h0M477.3,97.9h0M477.0,110.6h0M477.6,81.6h0M477.9,90.9h0M478.1,85.1h0M478.1,109.3h0M478.9,101.3h0M479.0,85.8h0M479.5,82.8h0M479.3,108.9h0M479.8,90.0h0M479.9,173.2h0M479.8,89.6h0M480.0,103.9h0M480.1,104.8h0M480.3,91.4h0M480.9,96.3h0M480.9,82.9h0M481.4,92.6h0M481.0,87.8h0M481.5,88.5h0M481.8,97.3h0M482.1,108.2h0M482.3,134.7h0M482.8,90.3h0M483.0,89.5h0M483.5,88.4h0M483.3,82.8h0M483.3,78.8h0M483.8,100.5h0M483.6,77.7h0M484.0,98.8h0M484.1,91.5h0M484.6,98.7h0M485.0,91.7h0M484.6,84.8h0M485.2,94.9h0M485.4,78.1h0M485.5,92.2h0M485.7,84.1h0M486.0,106.1h0M486.4,95.6h0M486.5,105.9h0M485.3,130.0h0M485.5,105.3h0M485.9,111.1h0M486.6,100.9h0M485.3,124.7h0M486.0,128.3h0M485.5,126.7h0M485.4,123.2h0M486.7,114.7h0M485.6,108.4h0M487.1,126.5h0M486.1,128.7h0M485.6,114.0h0M486.6,88.9h0M486.7,83.4h0M486.5,99.3h0M486.6,99.8h0M487.0,99.9h0M486.2,100.2h0M487.1,81.7h0M487.2,81.5h0M487.5,103.3h0M487.6,81.7h0M487.6,88.5h0M488.4,89.7h0M488.4,84.4h0M488.6,75.4h0M488.9,94.1h0M489.1,98.2h0M489.3,101.6h0M489.6,87.2h0M489.8,97.5h0M489.7,98.2h0M490.1,90.2h0M490.1,81.2h0M489.9,95.5h0M490.7,100.5h0M490.3,97.8h0M491.4,105.1h0M490.6,95.6h0M490.8,104.9h0M490.9,94.0h0M490.8,93.5h0M491.1,83.9h0M491.4,86.2h0M491.6,79.4h0M491.7,87.4h0M491.7,100.6h0M492.4,99.5h0M492.3,70.0h0M492.1,68.9h0M492.7,87.7h0M492.9,101.0h0M492.9,71.0h0M493.4,66.8h0M493.2,68.5h0M494.0,74.7h0M494.0,91.7h0M494.0,80.4h0M494.3,76.9h0M494.5,72.1h0M494.3,76.0h0M494.8,69.3h0M494.7,70.8h0M494.8,77.3h0M494.9,102.6h0M494.6,87.4h0M494.2,98.5h0M494.7,91.7h0M494.5,97.0h0M495.5,103.8h0M495.0,87.5h0M493.9,96.5h0M495.1,80.0h0M495.5,91.9h0M495.5,90.7h0M495.3,92.2h0M494.6,93.3h0M495.2,87.0h0M495.6,95.6h0M495.0,99.4h0M495.4,91.2h0M495.7,68.6h0M495.9,85.5h0M496.0,88.6h0M495.9,89.2h0M495.3,94.9h0M495.3,92.8h0M495.3,91.9h0M496.1,88.5h0M496.4,64.8h0M496.8,67.4h0M496.6,86.6h0M496.6,87.7h0M497.2,86.8h0M497.2,80.4h0M497.4,92.3h0M497.8,72.5h0M497.9,77.1h0M498.5,72.5h0M498.2,82.3h0M498.6,83.6h0M498.7,80.3h0M499.4,63.5h0M499.2,73.0h0M499.2,85.1h0M499.7,65.5h0M499.8,76.3h0M500.3,100.7h0M499.4,93.6h0M500.5,79.4h0M500.2,106.4h0M499.3,110.0h0M500.1,112.5h0M499.5,83.0h0M499.8,111.3h0M499.6,108.1h0M500.0,101.7h0M499.2,89.8h0M499.8,100.7h0M499.4,110.4h0M499.3,86.4h0M500.2,90.3h0M500.4,76.6h0M500.4,79.2h0M500.7,84.5h0M500.7,62.3h0M500.7,80.5h0M501.3,79.1h0M501.3,62.4h0M501.5,74.5h0M501.7,78.5h0M502.4,61.5h0M502.1,79.1h0M502.2,72.8h0M502.1,77.7h0M502.2,81.3h0M501.6,80.3h0M502.8,73.3h0M502.7,77.6h0M502.4,77.5h0M503.1,84.1h0M502.9,79.8h0M502.1,88.1h0M502.0,86.6h0M503.0,81.1h0M501.9,77.0h0M502.1,87.7h0M503.2,77.1h0M503.3,78.5h0M503.5,76.3h0M503.9,62.5h0M503.5,75.7h0M504.1,76.6h0M504.0,75.6h0M504.8,74.1h0M504.7,78.3h0M505.3,71.2h0M505.0,55.0h0M505.6,68.7h0M505.6,62.9h0M506.2,63.5h0M506.1,69.1h0M506.6,69.6h0M506.6,65.0h0M507.1,75.0h0M507.1,80.9h0M507.0,78.1h0M507.6,73.4h0M507.9,69.4h0M508.1,76.1h0M508.3,76.9h0M508.9,57.1h0M508.7,71.8h0M509.2,71.8h0M509.1,53.9h0M509.8,55.2h0M509.7,67.8h0M510.1,69.1h0M509.9,65.7h0M510.5,57.0h0M510.6,74.7h0M511.4,92.9h0M511.0,72.3h0M511.7,75.6h0M511.6,74.8h0M511.6,71.8h0M512.3,75.4h0M260.9,65.7h0M261.2,57.3h0M260.9,65.8h0M261.3,62.9h0M261.4,82.4h0M261.7,53.5h0M261.8,76.8h0M261.5,72.2h0M261.9,82.3h0M261.8,66.7h0M262.2,72.4h0M262.0,88.6h0M262.2,73.9h0M262.3,97.3h0M262.1,72.2h0M262.5,68.6h0M262.7,65.0h0M262.8,53.5h0M262.8,64.3h0M262.9,79.5h0M263.7,85.8h0M263.7,84.8h0M262.6,86.1h0M263.3,69.8h0M263.1,73.8h0M263.1,60.3h0M262.9,80.4h0M263.5,76.1h0M263.6,73.6h0M263.8,72.5h0M263.6,62.5h0M263.6,77.1h0M264.2,64.7h0M264.2,64.7h0M264.1,58.7h0M264.1,72.7h0M264.7,69.3h0M264.8,60.8h0M264.7,73.0h0M264.6,78.7h0M264.9,56.9h0M265.1,66.0h0M264.9,81.7h0M265.3,69.5h0M265.2,102.1h0M264.9,70.4h0M265.6,80.4h0M265.7,56.2h0M265.6,70.4h0M265.9,60.3h0M266.2,69.9h0M266.0,94.8h0M265.9,71.8h0M266.2,122.3h0M266.1,69.9h0M266.9,70.1h0M266.5,73.6h0M266.9,80.0h0M266.4,69.9h0M266.6,84.6h0M267.1,53.8h0M266.9,63.0h0M267.2,58.0h0M267.4,73.9h0M267.2,72.7h0M267.8,64.2h0M267.6,58.8h0M267.7,66.8h0M267.7,77.4h0M267.9,74.8h0M268.2,76.2h0M268.3,76.7h0M268.3,69.2h0M268.2,90.0h0M268.2,89.4h0M268.6,70.7h0M268.9,66.1h0M268.8,72.9h0M268.7,58.4h0M268.6,82.8h0M269.2,56.5h0M269.3,77.1h0M269.1,88.9h0M269.0,58.2h0M269.4,85.0h0M269.8,74.4h0M269.4,80.6h0M269.8,73.1h0M269.8,79.7h0M270.1,72.2h0M270.1,75.7h0M270.1,85.5h0M270.1,77.8h0M270.1,73.2h0M270.4,73.5h0M270.4,61.9h0M270.4,72.0h0M270.5,70.6h0M270.4,53.2h0M271.0,70.5h0M271.3,82.4h0M271.0,62.8h0M271.4,73.5h0M271.2,64.4h0M271.4,75.8h0M271.2,57.9h0M271.1,72.0h0M271.7,54.3h0M271.5,85.3h0M271.7,65.2h0M272.0,74.1h0M271.9,57.9h0M272.4,91.4h0M272.3,74.4h0M272.3,80.1h0M272.3,63.4h0M272.8,55.4h0M272.8,86.1h0M272.7,78.8h0M272.5,81.1h0M272.6,60.0h0M273.2,78.1h0M273.0,81.3h0M273.2,57.2h0M273.2,77.6h0M273.1,78.3h0M273.6,86.6h0M273.6,94.3h0M273.5,96.3h0M273.5,75.4h0M273.7,79.8h0M274.3,58.3h0M274.1,79.2h0M274.2,82.5h0M274.4,79.4h0M274.3,91.4h0M274.9,91.8h0M275.0,94.4h0M274.7,56.9h0M274.8,76.3h0M275.0,88.4h0M275.5,78.9h0M275.2,59.7h0M275.3,79.1h0M275.1,97.8h0M275.1,101.2h0M275.8,78.9h0M275.6,60.6h0M275.8,61.4h0M275.7,77.2h0M275.8,69.5h0M276.0,100.8h0M276.0,93.5h0M276.4,74.8h0M276.5,90.1h0M276.1,87.0h0M276.8,96.7h0M276.9,83.0h0M276.7,80.3h0M276.9,74.7h0M276.5,75.1h0M276.7,77.8h0M277.5,84.3h0M277.3,85.4h0M277.1,70.8h0M277.2,71.6h0M277.0,96.4h0M277.7,71.7h0M277.8,95.4h0M277.5,78.2h0M277.8,88.0h0M277.9,70.1h0M278.3,68.6h0M278.0,104.3h0M278.3,79.0h0M278.4,83.2h0M278.5,82.2h0M278.5,84.8h0M278.6,69.1h0M278.9,84.9h0M278.7,89.6h0M278.7,104.3h0M278.7,85.1h0M279.0,108.9h0M279.4,75.3h0M279.5,105.1h0M279.4,64.2h0M279.4,103.0h0M279.9,89.8h0M279.6,80.7h0M279.5,104.7h0M279.7,98.2h0M279.9,101.6h0M280.1,133.0h0M280.3,78.0h0M280.2,88.9h0M280.2,88.6h0M280.4,104.4h0M280.7,66.4h0M280.5,95.5h0M281.0,81.2h0M281.0,73.2h0M280.9,83.3h0M281.2,65.7h0M281.1,66.6h0M281.1,67.1h0M281.3,93.5h0M281.4,95.3h0M281.1,60.4h0M281.9,85.1h0M281.9,97.2h0M281.6,79.7h0M281.9,89.1h0M282.0,86.3h0M282.3,68.3h0M282.1,58.6h0M282.0,84.4h0M282.1,63.1h0M282.4,86.9h0M282.5,97.8h0M281.1,97.2h0M282.7,100.1h0M282.6,83.1h0M282.9,63.1h0M282.9,94.2h0M282.9,66.0h0M282.9,85.4h0M283.5,106.1h0M283.5,92.5h0M283.5,73.4h0M283.4,60.0h0M283.5,79.8h0M283.9,88.8h0M283.7,182.9h0M283.9,94.6h0M283.6,94.1h0M283.8,86.4h0M284.4,80.7h0M284.2,107.1h0M284.3,79.5h0M284.4,68.5h0M284.5,90.2h0M284.8,94.1h0M284.9,99.8h0M285.0,64.1h0M284.7,87.5h0M284.7,82.1h0M285.2,76.5h0M285.1,99.0h0M285.1,112.6h0M285.0,100.0h0M285.4,90.9h0M285.8,65.5h0M285.8,80.2h0M285.8,58.7h0M286.0,82.5h0M285.5,101.0h0M286.3,67.2h0M286.3,106.4h0M286.4,99.5h0M286.4,61.7h0M286.1,77.2h0M286.7,109.2h0M286.8,69.4h0M286.6,100.0h0M286.7,90.1h0M286.9,95.6h0M286.6,102.9h0M287.1,98.8h0M285.6,100.1h0M287.1,80.8h0M287.4,84.8h0M287.4,74.6h0M287.3,68.4h0M287.2,96.1h0M287.7,113.5h0M287.8,70.0h0M287.9,107.3h0M287.9,88.2h0M288.4,109.6h0M288.4,101.7h0M288.0,122.5h0M288.9,96.9h0M288.9,107.7h0M288.9,124.6h0M289.3,110.9h0M289.0,114.5h0M289.1,105.7h0M289.7,110.3h0M289.8,120.9h0M290.5,119.7h0M290.3,118.0h0M289.4,124.4h0M290.7,118.4h0M290.5,123.8h0M290.7,106.8h0M291.5,103.5h0M291.0,109.2h0M292.2,126.8h0M290.9,127.2h0M292.0,122.2h0M291.9,110.7h0M292.0,120.8h0M292.2,133.6h0M292.4,125.3h0M292.1,132.7h0M292.9,131.2h0M293.0,108.2h0M292.7,121.0h0M293.0,129.6h0M293.4,139.0h0M293.1,131.2h0M293.7,110.2h0M293.5,169.9h0M293.8,110.0h0M294.1,118.8h0M294.3,122.6h0M294.2,125.5h0M294.8,120.0h0M294.6,123.6h0M294.6,145.4h0M295.4,139.9h0M295.2,130.6h0M295.3,125.3h0M295.6,140.9h0M295.6,173.4h0M295.9,117.3h0M295.8,110.8h0M296.5,114.3h0M296.1,130.0h0M296.3,132.6h0M296.7,112.3h0M296.8,119.5h0M296.9,117.3h0M296.6,126.4h0M297.1,127.0h0M297.1,138.8h0M297.2,133.2h0M297.6,121.2h0M297.9,113.9h0M297.7,165.9h0M297.8,116.1h0M298.3,132.5h0M298.3,141.1h0M298.3,114.4h0M298.0,130.9h0M298.9,135.4h0M298.6,125.8h0M298.8,130.7h0M298.7,126.0h0M299.1,138.7h0M299.4,122.6h0M299.0,144.6h0M299.4,127.9h0M299.8,125.6h0M299.5,121.8h0M299.5,144.2h0M299.8,121.7h0M300.1,152.9h0M300.3,122.7h0M300.1,153.6h0M300.3,117.4h0M301.0,122.1h0M300.7,137.9h0M300.7,133.9h0M300.9,133.1h0M300.6,137.6h0M301.1,151.7h0M300.2,155.4h0M301.5,163.1h0M301.1,154.4h0M300.4,144.6h0M301.0,144.8h0M300.6,145.2h0M301.8,149.5h0M301.5,167.7h0M301.2,132.9h0M301.4,149.2h0M301.0,148.2h0M301.2,125.3h0M301.9,138.8h0M301.5,152.1h0M301.6,139.7h0M301.6,150.4h0M301.5,126.1h0M302.0,145.6h0M302.5,163.7h0M302.4,147.0h0M302.1,130.7h0M302.7,131.6h0M302.6,121.1h0M302.8,160.5h0M302.7,160.5h0M303.3,158.1h0M303.5,129.6h0M303.4,141.4h0M303.3,135.5h0M303.4,119.9h0M304.0,151.4h0M303.6,146.5h0M303.6,142.5h0M303.6,162.2h0M304.3,133.7h0M304.2,138.6h0M304.4,163.8h0M304.4,160.0h0M304.9,134.4h0M304.9,149.5h0M304.6,154.8h0M304.5,148.3h0M304.7,166.1h0M305.2,146.5h0M305.2,140.3h0M305.3,158.8h0M305.2,134.9h0M305.7,129.2h0M305.7,198.6h0M305.7,154.5h0M305.9,157.9h0M305.9,157.2h0M306.2,160.8h0M306.4,171.6h0M306.3,141.8h0M306.1,131.2h0M306.3,157.0h0M306.6,164.1h0M306.9,167.3h0M306.7,150.9h0M306.7,160.8h0M307.3,159.0h0M307.1,171.7h0M307.1,166.2h0M307.1,135.3h0M307.9,131.0h0M307.8,155.8h0M307.5,165.7h0M308.0,175.9h0M308.1,140.0h0M308.2,180.2h0M308.4,152.9h0M308.2,154.5h0M308.0,166.2h0M308.8,151.0h0M308.9,149.4h0M308.9,173.2h0M308.7,167.1h0M308.7,156.7h0M309.4,171.0h0M309.1,180.7h0M309.2,153.5h0M309.3,180.7h0M309.2,175.8h0M309.9,174.5h0M309.6,159.2h0M309.6,161.1h0M309.6,168.5h0M309.7,167.3h0M310.5,160.0h0M310.1,161.7h0M310.5,157.0h0M310.3,169.8h0M310.0,189.8h0M310.7,141.5h0M310.7,182.3h0M310.6,136.1h0M310.7,150.8h0M310.8,165.9h0M311.4,159.6h0M311.5,143.8h0M311.4,167.7h0M311.4,146.5h0M311.4,177.8h0M311.8,178.3h0M311.6,163.7h0M311.7,178.4h0M311.9,181.2h0M311.6,151.1h0M312.2,167.7h0M312.1,181.0h0M312.3,185.5h0M312.0,167.0h0M312.5,159.9h0M312.7,151.5h0M312.7,172.7h0M312.6,160.8h0M312.5,165.0h0M312.8,164.9h0M313.2,164.1h0M313.4,155.2h0M313.5,170.6h0M313.0,165.4h0M313.2,141.6h0M313.5,154.9h0M313.9,168.6h0M314.0,154.2h0M313.7,154.0h0M313.6,187.7h0M314.0,178.0h0M314.5,181.8h0M314.3,149.5h0M314.5,176.1h0M314.6,180.3h0M314.9,181.1h0M314.6,160.0h0M315.0,175.9h0M314.7,165.4h0M315.3,185.4h0M315.1,195.8h0M315.2,147.0h0M315.4,157.9h0M315.2,200.5h0M315.9,148.3h0M315.9,176.5h0M315.5,184.3h0M315.6,187.8h0M315.5,151.1h0M316.4,186.0h0M316.3,168.4h0M316.5,165.9h0M316.4,183.3h0M316.2,182.8h0M316.9,168.7h0M316.8,186.8h0M316.6,175.8h0M316.6,184.7h0M316.5,190.1h0M317.3,170.5h0M317.5,179.5h0M317.2,182.8h0M317.4,175.0h0M317.0,221.4h0M318.0,169.1h0M317.9,164.0h0M317.8,183.5h0M317.9,188.7h0M317.8,155.4h0M317.3,188.9h0M318.3,184.2h0M318.0,190.2h0M317.1,190.8h0M318.8,185.7h0M318.1,179.6h0M318.4,187.4h0M318.2,183.4h0M318.4,183.0h0M318.8,181.8h0M318.6,180.6h0M318.7,189.4h0M318.8,178.3h0M319.1,195.8h0M319.0,194.4h0M319.4,189.5h0M319.0,185.8h0M319.7,183.0h0M319.6,160.3h0M319.6,176.6h0M319.5,184.3h0M320.1,184.1h0M320.0,174.1h0M320.2,188.6h0M320.4,156.9h0M320.8,194.2h0M320.9,189.0h0M320.9,178.4h0M321.3,195.9h0M321.0,186.5h0M321.0,191.5h0M321.4,175.0h0M321.5,223.1h0M321.9,185.1h0M321.9,167.6h0M321.5,186.6h0M322.3,198.9h0M322.3,193.3h0M322.0,235.9h0M322.2,162.4h0M322.7,225.1h0M322.6,191.9h0M322.5,192.2h0M322.9,193.3h0M323.2,194.1h0M323.1,188.1h0M323.2,195.6h0M323.2,191.4h0M323.5,174.3h0M323.8,195.8h0M323.8,187.7h0M323.6,185.4h0M324.3,180.5h0M324.0,213.0h0M324.3,172.0h0M324.9,189.1h0M324.9,203.5h0M324.8,190.8h0M325.4,171.2h0M325.1,192.1h0M325.5,195.6h0M325.3,170.8h0M325.8,187.4h0M325.6,183.9h0M325.6,185.1h0M326.2,177.7h0M326.0,188.9h0M326.4,192.0h0M326.7,188.5h0M326.6,198.2h0M326.9,208.3h0M326.4,207.0h0M326.3,203.2h0M327.3,209.9h0M327.4,203.4h0M327.1,200.3h0M327.9,192.0h0M327.7,222.1h0M327.8,258.8h0M328.1,198.0h0M328.2,209.8h0M328.4,200.8h0M328.5,191.2h0M328.6,199.1h0M328.8,195.9h0M329.4,197.1h0M329.4,199.5h0M329.5,212.8h0M329.5,210.4h0M329.8,210.6h0M329.7,206.6h0M330.5,198.5h0M330.0,198.1h0M330.2,200.3h0M330.9,212.1h0M330.8,209.6h0M330.6,201.5h0M331.3,202.5h0M331.0,199.5h0M331.4,220.8h0M331.9,189.2h0M331.9,224.1h0M331.9,199.9h0M332.5,205.7h0M332.4,241.0h0M332.1,197.0h0M332.7,193.6h0M333.0,227.5h0M333.1,199.1h0M333.4,196.0h0M333.0,195.0h0M333.6,196.5h0M334.0,223.7h0M333.8,225.9h0M334.2,215.5h0M334.4,204.0h0M334.7,198.9h0M334.8,204.6h0M335.3,216.9h0M335.2,223.4h0M335.4,234.2h0M335.9,220.6h0M335.9,239.2h0M335.7,227.4h0M276.1,128.5h0M276.6,175.7h0M277.7,207.8h0M279.2,136.2h0M280.3,153.4h0M280.5,199.2h0M281.3,148.0h0M281.8,122.6h0M282.9,134.3h0M283.7,124.8h0M287.5,204.9h0M289.7,82.5h0M294.3,178.2h0M294.7,180.0h0M656.0,291.2h0M656.1,244.5h0M656.6,288.5h0M657.5,287.4h0M658.4,256.2h0M659.7,262.7h0M660.4,284.4h0M661.6,248.5h0M665.3,283.7h0M668.5,260.1h0M670.9,256.5h0M675.1,316.4h0M675.5,256.1h0M678.3,278.8h0M678.6,290.9h0M679.1,300.7h0M682.1,272.7h0M682.9,249.3h0M683.8,266.4h0M685.7,308.6h0M686.8,287.2h0M687.1,298.9h0M688.9,270.0h0M690.5,284.6h0M512.2,76.4h0M512.9,83.6h0M513.2,79.2h0M514.0,85.6h0M516.2,76.6h0M516.9,86.1h0M517.0,73.2h0M518.1,82.7h0M518.9,82.7h0M519.7,93.5h0M520.5,79.3h0M521.0,84.8h0M521.2,91.7h0M521.9,76.4h0M523.5,85.0h0M523.6,77.7h0M524.2,84.0h0M524.8,83.5h0M525.5,84.7h0M525.7,81.7h0M527.0,74.6h0M527.7,80.1h0M528.1,88.9h0M529.8,76.0h0M530.5,64.6h0M532.3,86.7h0M533.3,75.4h0M533.6,83.8h0M534.1,88.2h0M535.1,82.0h0M537.0,80.7h0M537.8,78.2h0M538.7,85.3h0M539.8,77.4h0M540.4,88.0h0M540.7,80.6h0M541.3,90.4h0M542.7,88.7h0M543.2,81.5h0M543.7,92.1h0M544.3,93.1h0M545.4,85.1h0M546.4,88.9h0M547.0,84.2h0M547.5,88.5h0M548.7,95.7h0M549.5,89.5h0M551.1,95.9h0M552.0,95.8h0M552.2,92.8h0M553.1,84.9h0M553.5,81.1h0M554.3,91.6h0M555.6,81.1h0M557.0,83.8h0M557.8,88.1h0M558.5,87.3h0M559.2,87.4h0M560.6,90.2h0M561.4,89.8h0M562.2,95.9h0M562.9,80.9h0M563.5,82.6h0M563.5,90.5h0M564.4,87.0h0M564.9,93.2h0M566.1,96.0h0M566.7,84.4h0M567.3,93.9h0M567.9,97.9h0M568.2,90.0h0M569.0,84.8h0M570.5,97.8h0M572.0,93.8h0M572.1,88.2h0M574.3,96.7h0M574.7,89.9h0M575.3,91.6h0M576.2,95.0h0M577.0,80.9h0M577.8,85.1h0M578.4,90.7h0M579.6,85.0h0M580.3,94.2h0M580.7,97.8h0M581.0,100.1h0M581.9,98.5h0M582.9,81.8h0M583.5,92.9h0M583.5,75.9h0M584.0,70.7h0M584.7,87.2h0M585.3,75.1h0M585.5,74.6h0M586.3,98.2h0M586.9,75.7h0M587.8,102.3h0M588.3,95.6h0M588.7,88.4h0M589.4,97.2h0M589.8,104.0h0M590.3,63.3h0M590.6,60.8h0M591.0,83.3h0M591.8,60.4h0M592.2,96.1h0M592.8,75.9h0M593.2,78.4h0M593.9,74.3h0M594.3,78.0h0M594.7,84.3h0M595.0,94.7h0M595.8,91.6h0M596.4,95.1h0M596.8,108.9h0M597.5,70.3h0M597.8,108.1h0M598.2,102.0h0M598.8,98.1h0M599.2,94.9h0M599.2,107.8h0M599.7,73.5h0M600.1,60.1h0M600.5,88.5h0M601.1,64.8h0M601.8,99.4h0M602.2,88.3h0M602.7,110.4h0M602.7,77.9h0M603.5,99.2h0M603.7,61.4h0M604.1,95.3h0M605.0,70.4h0M605.5,111.6h0M605.5,100.5h0M606.3,83.6h0M606.4,94.2h0M606.9,64.2h0M607.4,107.7h0M607.8,72.8h0M608.0,94.9h0M608.9,110.5h0M609.4,112.6h0M609.6,99.7h0M610.4,72.4h0M610.6,76.0h0M611.2,90.2h0M611.6,83.4h0M612.4,91.0h0M612.8,85.9h0M612.6,54.1h0M613.3,111.2h0M613.6,89.5h0M614.4,99.3h0M614.8,77.5h0M615.1,86.4h0M615.6,75.4h0M616.4,97.2h0M616.9,107.5h0M616.6,74.5h0M617.3,116.4h0M617.9,102.0h0M618.0,106.3h0M618.0,81.2h0M618.9,102.7h0M619.2,110.7h0M619.9,87.2h0M512.1,57.5h0M513.5,81.7h0M514.7,24.6h0M515.1,83.1h0M516.2,73.3h0M517.3,45.8h0M519.3,49.1h0M519.6,71.2h0M520.3,64.4h0M522.2,73.2h0M523.1,62.1h0M524.4,93.2h0M528.3,82.1h0M529.2,94.5h0M529.9,73.7h0M530.5,94.7h0M531.8,70.3h0M534.6,98.1h0M535.1,94.5h0M535.7,148.4h0M536.3,70.2h0M537.8,63.2h0M538.9,86.9h0M539.4,59.3h0M539.7,98.4h0M540.3,65.1h0M541.4,76.0h0M542.4,59.6h0M544.6,107.9h0M547.0,100.8h0M547.1,90.0h0M548.2,54.6h0M548.7,87.0h0M549.4,110.4h0M552.3,100.3h0M553.4,51.3h0M555.2,98.0h0M555.6,76.4h0M556.0,86.2h0M556.7,53.4h0M557.1,105.8h0M557.5,87.2h0M558.6,65.7h0M559.6,64.9h0M560.0,54.6h0M560.6,66.4h0M561.9,70.8h0M563.2,74.4h0M566.2,64.6h0M567.5,100.4h0M567.8,55.5h0M568.1,86.5h0M569.5,68.5h0M570.4,40.0h0M570.7,67.0h0M571.2,68.0h0M573.7,96.1h0M576.4,95.2h0M577.9,83.7h0M578.4,65.6h0M579.0,54.3h0M579.8,102.0h0M580.1,77.8h0M581.1,64.9h0M581.8,92.2h0M582.4,53.0h0M582.5,82.6h0M583.2,64.9h0M583.7,136.2h0M584.2,56.1h0M584.8,113.8h0M585.2,64.2h0M585.8,77.4h0M586.3,101.8h0M586.6,51.8h0M587.1,94.6h0M587.7,43.1h0M588.3,87.0h0M588.9,45.6h0M589.9,115.3h0M590.5,107.0h0M590.8,78.4h0M591.0,77.9h0M591.6,116.5h0M592.2,142.8h0M592.7,53.6h0M593.1,89.6h0M593.8,68.5h0M594.2,98.6h0M594.7,99.8h0M595.5,45.8h0M595.7,50.2h0M596.1,96.4h0M596.7,85.0h0M597.2,59.9h0M597.5,142.4h0M598.1,59.2h0M598.5,104.2h0M599.1,102.9h0M599.7,85.3h0M600.1,43.3h0M601.3,97.7h0M601.7,92.0h0M602.5,86.7h0M602.9,45.4h0M603.1,44.0h0M603.7,68.7h0M604.7,67.2h0M605.4,78.1h0M605.8,113.0h0M606.2,71.5h0M606.6,112.2h0M607.8,112.4h0M608.4,96.4h0M608.6,60.4h0M609.0,116.9h0M609.7,104.1h0M611.3,115.0h0M612.5,101.9h0M612.7,100.3h0M613.2,95.9h0M613.5,66.8h0M614.3,69.1h0M614.9,99.1h0M615.3,78.9h0M615.6,94.2h0M616.0,80.1h0M616.7,85.2h0M617.1,117.1h0M618.0,107.1h0M618.2,72.6h0M619.1,81.2h0M619.9,65.1h0M622.3,116.8h0M622.9,105.2h0M622.8,151.0h0M623.3,138.7h0M623.7,98.1h0M624.2,190.1h0M624.1,120.3h0M624.9,115.6h0M624.8,112.6h0M625.4,110.6h0M625.7,113.2h0M625.8,135.9h0M626.5,145.4h0M626.9,223.8h0M626.6,143.6h0M627.0,134.4h0M627.1,107.8h0M627.9,151.1h0M628.5,103.3h0M628.3,133.5h0M628.7,150.4h0M629.4,136.6h0M629.2,137.6h0M629.8,111.7h0M629.5,100.1h0M630.4,129.4h0M630.5,120.7h0M631.0,102.1h0M631.0,120.5h0M631.6,125.3h0M631.7,143.6h0M632.3,148.0h0M632.0,114.6h0M632.8,118.1h0M632.7,147.5h0M633.4,133.1h0M634.0,107.8h0M633.7,103.5h0M634.5,130.6h0M635.0,140.8h0M634.9,140.5h0M635.2,124.5h0M635.5,105.8h0M635.5,142.7h0M636.2,115.8h0M636.8,140.1h0M637.2,142.9h0M637.1,146.3h0M637.8,101.6h0M637.6,133.0h0M638.4,133.4h0M638.8,151.9h0M638.8,141.4h0M639.3,128.1h0M639.0,64.3h0M639.8,120.7h0M639.8,132.1h0M640.2,135.9h0M641.0,131.5h0M640.9,152.9h0M641.3,200.0h0M641.4,112.2h0M641.7,141.8h0M641.7,147.1h0M642.2,118.4h0M642.2,115.4h0M642.6,106.4h0M643.4,144.0h0M643.4,152.3h0M643.8,79.3h0M644.0,152.1h0M633.1,161.3h0M633.6,181.0h0M634.1,177.0h0M635.0,137.7h0M635.6,156.2h0M636.2,168.5h0M636.9,187.5h0M637.3,178.8h0M637.5,171.7h0M638.4,173.0h0M638.7,172.7h0M639.3,157.5h0M639.9,185.1h0M640.5,170.0h0M640.7,175.3h0M641.3,159.6h0M641.6,182.2h0M642.6,176.5h0M643.1,185.3h0M644.4,187.6h0M644.9,167.8h0M645.2,175.0h0M645.8,179.2h0M646.2,168.5h0M646.6,176.2h0M647.5,179.8h0M648.4,178.7h0M649.3,185.7h0M649.5,165.6h0M650.6,170.9h0M651.0,172.7h0M651.6,158.0h0M652.2,174.9h0M652.9,177.2h0M653.1,173.2h0M653.6,176.9h0M654.1,173.5h0M654.7,179.1h0M655.3,169.2h0M656.3,164.5h0M658.1,186.8h0M659.0,175.1h0M659.2,173.5h0M659.7,183.7h0M660.0,177.4h0M661.0,160.9h0M661.5,166.8h0M662.5,163.1h0M662.8,170.0h0M637.4,183.7h0M637.7,193.4h0M638.0,207.6h0M638.8,229.1h0M639.1,215.6h0M639.6,202.8h0M640.4,231.1h0M640.6,229.4h0M641.3,199.1h0M641.6,200.6h0M642.0,197.3h0M642.8,191.8h0M643.4,180.4h0M643.8,202.9h0M644.4,200.9h0M644.9,204.4h0M645.0,197.7h0M645.8,226.8h0M646.5,194.3h0M646.5,205.2h0M647.4,208.1h0M648.0,219.9h0M648.4,198.6h0M648.8,203.2h0M649.1,199.0h0M649.6,194.1h0M650.4,192.3h0M650.9,222.9h0M651.3,229.2h0M651.6,204.9h0M652.0,215.5h0M652.8,200.9h0M653.3,221.1h0M653.8,200.7h0M654.3,216.7h0M654.8,209.9h0M655.4,201.4h0M655.8,209.8h0M655.6,202.4h0M656.2,203.5h0M656.8,223.4h0M657.3,192.6h0M657.6,196.2h0M658.5,194.4h0M658.8,220.1h0M659.3,219.4h0M659.8,205.2h0M660.4,223.3h0M660.9,215.8h0M661.0,194.4h0M661.5,197.4h0M662.1,198.0h0M663.0,225.5h0M663.1,223.4h0M663.6,192.7h0M664.4,200.6h0M664.9,231.4h0M665.5,221.3h0M665.8,223.5h0M666.4,231.1h0M666.7,229.2h0M667.4,227.2h0M667.9,227.8h0M668.0,223.5h0M669.0,204.5h0M668.6,214.2h0M669.2,230.5h0M669.7,194.8h0M670.3,203.5h0M670.1,194.3h0M670.9,194.4h0M671.4,211.2h0M671.6,193.6h0M672.0,221.0h0M672.6,220.0h0M673.5,222.6h0M673.9,210.6h0M674.3,212.0h0M674.5,209.7h0M675.1,207.6h0M675.8,221.1h0M675.7,219.7h0M676.5,195.9h0M676.7,222.4h0M677.1,220.8h0M677.7,203.1h0M660.1,215.5h0M660.5,271.8h0M661.1,268.8h0M661.6,254.0h0M662.1,279.3h0M662.9,266.1h0M663.1,252.9h0M663.9,259.9h0M663.9,272.5h0M664.2,272.7h0M664.7,271.3h0M664.9,266.8h0M665.2,270.9h0M665.6,276.6h0M666.3,263.9h0M667.0,250.3h0M667.4,234.4h0M668.0,274.5h0M668.1,252.3h0M668.6,247.4h0M669.3,265.9h0M669.7,234.3h0M670.5,248.8h0M670.9,273.6h0M671.1,261.5h0M671.5,247.0h0M672.2,229.8h0M672.5,274.5h0M673.2,274.3h0M673.6,249.4h0M673.7,277.7h0M674.4,272.3h0M674.6,280.1h0M675.5,246.3h0M675.6,280.6h0M676.3,249.8h0M676.7,241.0h0M677.0,270.4h0M677.2,250.3h0M677.5,265.8h0M678.4,236.2h0M678.9,272.7h0M679.0,259.4h0M679.2,248.6h0M679.2,273.7h0M679.8,262.7h0M680.2,255.2h0M680.3,268.4h0M680.6,232.2h0M681.2,248.6h0M681.7,278.8h0M682.2,262.6h0M682.7,248.1h0M683.2,238.1h0M683.6,266.1h0M684.5,238.8h0M684.9,230.1h0M685.3,241.8h0M685.7,260.1h0M686.2,252.5h0M686.8,244.2h0M687.5,250.3h0M687.6,241.6h0M688.0,270.9h0M688.6,271.0h0M689.0,270.6h0M689.8,257.0h0M690.2,276.0h0M691.0,266.3h0M691.2,271.3h0M691.6,243.0h0M663.9,299.6h0M664.2,291.3h0M667.9,296.9h0M671.5,292.4h0M675.5,289.4h0M676.3,296.8h0M336.8,270.9h0M336.8,265.1h0M336.9,265.7h0M337.6,259.1h0M337.5,267.9h0M337.4,250.6h0M337.7,266.3h0M337.9,262.8h0M338.6,269.0h0M338.1,257.6h0M338.6,263.9h0M338.9,271.1h0M338.7,272.7h0M339.5,271.6h0M339.1,256.0h0M339.2,257.9h0M339.8,278.2h0M340.0,269.4h0M339.7,258.9h0M340.1,271.7h0M340.2,262.9h0M340.6,256.1h0M340.7,261.6h0M340.8,265.3h0M341.4,263.5h0M341.4,269.0h0M341.9,265.1h0M342.0,258.6h0M341.7,277.5h0M342.2,261.3h0M342.5,261.0h0M342.9,262.3h0M343.1,271.3h0M342.8,268.8h0M343.4,263.4h0M343.2,259.9h0M343.3,267.1h0M344.0,276.6h0M344.0,270.0h0M344.3,268.9h0M344.4,274.3h0M344.6,262.2h0M345.1,271.7h0M344.9,261.5h0M344.7,263.6h0M345.1,259.3h0M345.6,269.4h0M345.4,260.7h0M345.6,273.8h0M345.2,273.1h0M345.7,253.4h0M345.6,270.1h0M345.6,254.9h0M346.4,255.6h0M346.5,261.0h0M346.9,262.9h0M346.6,256.3h0M347.0,249.9h0M347.1,261.9h0M347.5,252.6h0M346.7,273.9h0M347.1,281.6h0M347.3,275.6h0M346.5,280.4h0M347.6,275.7h0M347.8,265.7h0M347.7,250.0h0M347.7,262.4h0M348.3,273.0h0M348.5,256.9h0M348.1,260.1h0M348.9,268.1h0M348.7,272.1h0M348.6,251.8h0M349.2,263.9h0M349.5,259.9h0M349.1,277.1h0M349.8,263.4h0M350.1,268.2h0M349.9,269.8h0M350.2,271.6h0M350.2,252.7h0M350.7,261.5h0M350.7,252.7h0M351.0,266.4h0M351.5,265.0h0M351.6,265.0h0M351.2,255.2h0M351.6,258.5h0M351.9,264.5h0M352.7,272.3h0M351.8,276.3h0M352.0,275.8h0M352.5,261.1h0M352.2,258.5h0M352.8,257.8h0M352.8,258.1h0M352.7,273.4h0M353.3,270.5h0M353.1,253.9h0M353.6,251.4h0M353.2,241.6h0M353.3,271.3h0M354.6,262.3h0M353.1,265.2h0M353.2,264.6h0M354.1,245.4h0M353.8,235.9h0M354.1,248.6h0M354.2,265.5h0M354.6,236.3h0M354.5,254.0h0M354.7,244.0h0M354.7,247.5h0M354.9,250.9h0M355.3,274.0h0M355.3,257.4h0M355.4,234.8h0M356.2,251.3h0M356.1,255.1h0M355.8,251.7h0M356.3,241.0h0M356.7,245.5h0M356.3,248.8h0M357.0,239.8h0M357.2,251.5h0M356.8,269.1h0M357.3,247.4h0M357.2,245.4h0M357.5,240.3h0M357.8,235.8h0M357.9,253.7h0M357.8,246.1h0M358.2,249.5h0M358.3,267.2h0M358.4,260.9h0M359.0,254.0h0M358.7,259.9h0M359.0,260.6h0M359.5,250.7h0M359.4,247.0h0M359.6,253.9h0M360.0,258.2h0M359.7,251.5h0M360.1,261.5h0M360.4,248.3h0M360.4,256.5h0M360.7,269.0h0M360.8,243.4h0M360.9,259.4h0M361.4,259.2h0M361.6,230.5h0M361.5,271.4h0M361.1,260.9h0M361.4,262.2h0M362.0,240.9h0M362.1,255.3h0M362.0,256.9h0M362.5,242.5h0M362.3,248.4h0M362.6,255.8h0M362.9,248.3h0M363.1,267.1h0M362.8,251.3h0M363.4,231.8h0M363.4,261.8h0M363.5,253.5h0M363.7,259.7h0M363.8,251.3h0M363.9,249.9h0M364.5,247.4h0M364.6,249.6h0M364.6,257.7h0M364.9,245.8h0M365.0,256.8h0M364.7,261.8h0M365.6,242.4h0M365.4,251.6h0M365.8,246.6h0M366.0,247.3h0M365.8,248.3h0M366.4,221.1h0M366.7,226.1h0M366.7,217.2h0M367.2,235.0h0M367.3,230.4h0M367.7,226.7h0M368.4,232.5h0M367.8,235.1h0M368.2,235.4h0M368.7,227.3h0M368.5,220.3h0M369.0,233.3h0M370.2,244.2h0M369.5,254.3h0M369.8,237.9h0M369.1,246.3h0M369.1,252.9h0M368.9,246.1h0M368.7,241.6h0M368.7,248.4h0M369.1,243.8h0M369.3,233.7h0M369.7,225.9h0M369.8,217.1h0M370.1,217.6h0M370.2,229.2h0M371.0,229.1h0M371.5,225.6h0M371.1,231.3h0M371.9,229.3h0M371.9,230.9h0M372.4,228.8h0M372.4,234.4h0M372.7,229.1h0M373.0,232.0h0M373.3,222.4h0M373.3,228.9h0M372.3,263.2h0M372.4,268.3h0M372.5,255.9h0M373.0,273.8h0M372.8,272.1h0M372.6,249.6h0M372.7,257.9h0M373.2,260.7h0M373.5,255.8h0M373.0,277.0h0M373.7,258.8h0M373.9,264.0h0M373.6,265.6h0M374.3,251.2h0M374.0,263.1h0M374.4,264.3h0M374.4,251.1h0M374.7,279.8h0M374.6,268.9h0M374.9,275.4h0M374.0,274.1h0M374.5,274.2h0M373.8,273.4h0M375.0,266.4h0M375.2,269.4h0M375.0,249.6h0M375.8,267.7h0M375.7,246.6h0M375.8,263.2h0M376.5,264.7h0M376.4,264.1h0M376.2,257.3h0M375.7,294.0h0M376.3,284.3h0M376.5,282.5h0M375.7,302.5h0M377.6,295.2h0M376.3,300.9h0M375.8,283.0h0M376.4,302.5h0M377.1,291.2h0M376.2,278.1h0M376.1,291.3h0M375.2,287.1h0M376.4,299.2h0M376.7,259.0h0M377.0,249.1h0M377.0,277.4h0M377.3,269.8h0M377.3,269.9h0M377.3,251.1h0M377.3,254.0h0M377.5,244.6h0M377.7,256.2h0M377.9,246.9h0M377.9,266.5h0M378.4,268.2h0M378.1,256.3h0M378.4,266.2h0M378.8,278.9h0M378.6,269.7h0M378.8,267.7h0M379.1,264.0h0M379.5,264.3h0M379.2,261.0h0M379.7,274.5h0M379.6,262.5h0M379.7,251.2h0M380.1,244.4h0M380.2,245.0h0M380.1,260.5h0M380.9,258.0h0M380.9,262.4h0M380.8,260.9h0M381.3,250.3h0M381.1,269.7h0M381.5,270.0h0M381.8,262.7h0M381.9,263.2h0M381.8,262.6h0M382.1,277.7h0M382.1,257.7h0M382.3,265.2h0M382.6,273.5h0M382.8,255.7h0M382.6,268.7h0M383.3,248.2h0M383.4,265.5h0M383.4,274.6h0M383.8,275.1h0M383.6,269.6h0M383.6,268.7h0M384.2,235.3h0M384.2,247.1h0M384.2,238.7h0M385.0,252.0h0M384.8,250.9h0M383.9,253.9h0M384.8,250.9h0M384.8,254.1h0M385.4,249.4h0M385.2,247.6h0M385.5,236.3h0M385.6,245.8h0M386.3,239.7h0M386.3,244.3h0M386.7,225.5h0M386.9,253.2h0M387.0,239.9h0M387.1,241.7h0M387.5,255.2h0M387.3,250.0h0M387.4,251.1h0M386.5,255.7h0M387.8,254.1h0M387.9,249.9h0M388.2,239.2h0M388.4,244.2h0M388.6,228.3h0M389.0,247.2h0M389.1,231.1h0M389.1,233.9h0M389.5,250.3h0M389.8,244.1h0M390.2,243.9h0M390.3,230.7h0M390.6,252.4h0M390.8,241.3h0M391.1,244.4h0M391.4,241.5h0M391.6,227.1h0M391.7,230.1h0M391.8,256.0h0M392.0,252.1h0M391.6,249.9h0M391.6,254.5h0M391.7,253.6h0M392.5,227.7h0M392.4,230.5h0M392.9,229.7h0M392.6,229.9h0M393.5,246.7h0M393.2,246.7h0M393.1,252.9h0M394.6,252.9h0M393.5,248.7h0M393.5,251.7h0M393.9,244.8h0M393.7,230.0h0M394.2,241.9h0M394.4,248.9h0M394.8,241.8h0M394.6,246.8h0M395.0,237.8h0M395.5,241.7h0M395.6,245.1h0M395.7,248.5h0M396.0,240.7h0M396.0,238.8h0M397.0,232.5h0M396.7,248.8h0M395.5,247.2h0M396.3,248.2h0M397.4,244.7h0M397.6,244.2h0M397.5,244.5h0M398.2,237.0h0M412.6,206.0h0M412.5,220.8h0M413.0,203.6h0M413.0,203.5h0M413.8,203.0h0M413.6,206.2h0M414.4,223.8h0M414.2,208.7h0M414.6,202.8h0M415.0,229.4h0M415.4,220.8h0M415.2,217.5h0M416.0,208.1h0M415.6,206.9h0M416.3,250.2h0M415.7,237.6h0M415.5,229.8h0M415.8,238.8h0M416.2,226.8h0M415.5,238.0h0M415.8,240.1h0M415.7,246.9h0M415.9,245.3h0M415.2,228.7h0M416.4,204.8h0M416.3,223.1h0M415.3,225.8h0M417.1,232.3h0M416.2,230.9h0M416.5,237.2h0M416.1,230.8h0M415.7,235.9h0M416.7,214.1h0M416.6,209.5h0M417.3,228.3h0M417.1,208.7h0M417.6,216.2h0M417.8,217.6h0M417.9,225.5h0M418.8,229.1h0M418.3,212.9h0M418.3,218.2h0M418.8,220.6h0M418.7,220.3h0M419.2,227.3h0M419.2,224.0h0M419.7,204.2h0M419.9,209.4h0M420.4,204.4h0M420.3,205.3h0M421.0,213.9h0M420.8,213.0h0M421.1,210.6h0M421.1,221.2h0M421.8,220.3h0M421.7,210.9h0M422.1,225.5h0M422.2,225.1h0M422.7,212.0h0M422.9,217.5h0M422.3,226.4h0M423.4,210.4h0M423.4,225.5h0M424.3,227.9h0M423.4,229.7h0M423.9,236.9h0M423.9,232.9h0M423.9,229.4h0M423.7,218.3h0M424.1,211.1h0M424.2,211.6h0M422.9,233.8h0M423.3,229.2h0M423.2,229.6h0" stroke="#000" stroke-width="2.8" stroke-linecap="round" fill="none"/>
<circle cx="144.3" cy="213.2" r="6.2" fill="none" stroke="#00c000" stroke-width="3.0"/><circle cx="167.1" cy="231.0" r="6.2" fill="none" stroke="#00c000" stroke-width="3.0"/><circle cx="196.7" cy="251.5" r="6.2" fill="none" stroke="#00c000" stroke-width="3.0"/><circle cx="236.7" cy="278.6" r="6.2" fill="none" stroke="#00c000" stroke-width="3.0"/><circle cx="272.5" cy="303.3" r="6.2" fill="none" stroke="#00c000" stroke-width="3.0"/><circle cx="272.5" cy="305.0" r="6.2" fill="none" stroke="#00c000" stroke-width="3.0"/><circle cx="304.9" cy="273.7" r="6.2" fill="none" stroke="#00c000" stroke-width="3.0"/><circle cx="333.1" cy="248.8" r="6.2" fill="none" stroke="#00c000" stroke-width="3.0"/><circle cx="333.1" cy="254.0" r="6.2" fill="none" stroke="#00c000" stroke-width="3.0"/><circle cx="333.1" cy="258.3" r="6.2" fill="none" stroke="#00c000" stroke-width="3.0"/><circle cx="397.1" cy="194.8" r="6.2" fill="none" stroke="#00c000" stroke-width="3.0"/><circle cx="397.1" cy="207.9" r="6.2" fill="none" stroke="#00c000" stroke-width="3.0"/><circle cx="414.3" cy="191.3" r="6.2" fill="none" stroke="#00c000" stroke-width="3.0"/><circle cx="436.7" cy="189.7" r="6.2" fill="none" stroke="#00c000" stroke-width="3.0"/><circle cx="436.7" cy="194.4" r="6.2" fill="none" stroke="#00c000" stroke-width="3.0"/><circle cx="436.7" cy="198.3" r="6.2" fill="none" stroke="#00c000" stroke-width="3.0"/><circle cx="472.0" cy="209.5" r="6.2" fill="none" stroke="#00c000" stroke-width="3.0"/><circle cx="472.0" cy="215.6" r="6.2" fill="none" stroke="#00c000" stroke-width="3.0"/><circle cx="502.9" cy="251.4" r="6.2" fill="none" stroke="#00c000" stroke-width="3.0"/><circle cx="550.3" cy="309.5" r="6.2" fill="none" stroke="#00c000" stroke-width="3.0"/><circle cx="550.3" cy="323.1" r="6.2" fill="none" stroke="#00c000" stroke-width="3.0"/><circle cx="595.3" cy="319.9" r="6.2" fill="none" stroke="#00c000" stroke-width="3.0"/><circle cx="618.5" cy="295.0" r="6.2" fill="none" stroke="#00c000" stroke-width="3.0"/><circle cx="618.5" cy="303.3" r="6.2" fill="none" stroke="#00c000" stroke-width="3.0"/><circle cx="638.4" cy="257.6" r="6.2" fill="none" stroke="#00c000" stroke-width="3.0"/><circle cx="638.4" cy="262.6" r="6.2" fill="none" stroke="#00c000" stroke-width="3.0"/><circle cx="638.4" cy="267.5" r="6.2" fill="none" stroke="#00c000" stroke-width="3.0"/><circle cx="676.7" cy="249.0" r="6.2" fill="none" stroke="#00c000" stroke-width="3.0"/><circle cx="709.3" cy="208.2" r="6.2" fill="none" stroke="#00c000" stroke-width="3.0"/><circle cx="735.2" cy="203.3" r="6.2" fill="none" stroke="#00c000" stroke-width="3.0"/><circle cx="735.2" cy="207.0" r="6.2" fill="none" stroke="#00c000" stroke-width="3.0"/><circle cx="760.0" cy="203.8" r="6.2" fill="none" stroke="#00c000" stroke-width="3.0"/><circle cx="760.0" cy="216.9" r="6.2" fill="none" stroke="#00c000" stroke-width="3.0"/><circle cx="760.0" cy="223.8" r="6.2" fill="none" stroke="#00c000" stroke-width="3.0"/><circle cx="814.3" cy="223.3" r="6.2" fill="none" stroke="#00c000" stroke-width="3.0"/><circle cx="814.3" cy="230.6" r="6.2" fill="none" stroke="#00c000" stroke-width="3.0"/><circle cx="814.3" cy="234.5" r="6.2" fill="none" stroke="#00c000" stroke-width="3.0"/><circle cx="899.3" cy="287.5" r="6.2" fill="none" stroke="#00c000" stroke-width="3.0"/><circle cx="899.3" cy="289.9" r="6.2" fill="none" stroke="#00c000" stroke-width="3.0"/><circle cx="899.3" cy="302.5" r="6.2" fill="none" stroke="#00c000" stroke-width="3.0"/>
<path d="M144.3,850.2 145.8,857.5 147.2,863.8 148.5,866.7 149.7,867.5 150.9,867.6 152.2,865.0 153.4,870.1 154.6,871.2 155.9,872.7 157.1,873.9 158.3,872.4 159.6,869.5 160.8,870.6 162.1,870.0 163.3,873.2 164.5,873.1 165.8,873.7 167.0,875.4 168.2,872.0 169.5,873.7 170.7,873.8 171.9,873.2 173.2,874.8 174.4,874.9 175.6,874.8 176.9,871.9 178.1,873.7 179.3,873.3 180.6,874.4 181.8,876.1 183.1,874.9 184.3,870.0 185.5,873.0 186.8,873.7 188.0,875.5 189.2,881.6 190.5,883.6 191.7,884.0 192.9,888.2 194.2,889.7 195.4,885.0 196.6,883.6 197.9,880.1 199.1,881.1 200.3,882.7 201.6,879.8 202.8,879.8 204.1,881.1 205.3,880.7 206.5,877.8 207.8,873.7 209.0,869.0 210.2,866.3 211.5,875.7 212.7,881.1 213.9,876.3 215.2,871.2 216.4,879.4 217.6,886.0 218.9,886.6 220.1,889.7 221.3,884.9 222.6,876.1 223.8,873.3 225.0,868.7 226.3,874.5 227.5,876.1 228.8,880.3 230.0,881.1 231.2,879.4 232.5,878.8 233.7,878.6 234.9,876.3 236.2,875.4 237.4,876.1 238.6,873.0 239.9,872.8 241.1,872.4 242.3,873.2 243.6,870.9 244.8,874.2 246.0,873.7 247.3,869.3 248.5,866.3 249.8,867.9 251.0,871.2 252.2,875.1 253.5,876.1 254.7,868.7 255.9,861.3 257.2,863.0 258.4,866.3 259.6,864.9 260.9,863.8 262.1,862.2 263.3,858.9 264.6,859.4 265.8,863.8 267.0,870.8 268.3,873.7 269.5,861.8 270.8,851.4 272.0,837.0 273.2,821.8 274.5,832.0 275.7,839.1 276.9,854.4 278.2,871.2 279.4,862.6 280.6,851.4 281.9,857.0 283.1,863.8 284.3,849.1 285.6,834.2 286.8,812.4 288.0,792.2 289.3,729.2 290.5,732.7 291.7,740.3 293.0,765.0 294.2,781.8 295.5,799.6 296.7,789.2 297.9,777.3 299.2,773.5 300.4,772.4 301.6,780.9 302.9,787.2 304.1,765.7 305.3,742.7 306.6,758.3 307.8,772.4 309.0,749.9 310.3,727.9 311.5,719.9 312.7,713.1 314.0,720.6 315.2,727.9 316.5,732.8 317.7,735.3 318.9,737.3 320.2,742.7 321.4,713.1 322.6,688.8 323.9,663.7 325.1,686.4 326.3,708.2 327.6,686.5 328.8,663.7 330.0,677.8 331.3,693.3 332.5,674.3 333.7,653.8 335.0,628.5 336.2,604.4 337.5,574.8 338.7,571.6 339.9,569.8 341.2,556.5 342.4,577.4 343.6,599.5 344.9,584.6 346.1,579.1 347.3,569.8 348.6,556.5 349.4,561.7 350.3,569.8 351.3,587.8 352.3,604.4 353.5,614.5 354.7,624.2 356.0,623.3 357.2,624.2 358.4,611.5 359.7,599.5 360.9,586.6 362.2,574.8 363.4,579.1 364.6,587.1 365.9,607.6 367.1,629.1 368.1,646.7 369.1,663.7 369.9,653.4 370.8,641.5 372.0,610.0 373.3,579.7 374.7,576.5 376.1,577.2 377.4,570.7 378.6,559.9 379.8,574.8 381.1,599.5 381.9,593.4 382.8,587.1 383.8,595.3 384.8,604.4 386.0,616.3 387.2,629.1 388.5,614.4 389.7,599.5 390.9,603.4 392.2,604.4 393.4,609.2 394.6,614.3 395.6,620.1 396.6,626.6 397.5,627.2 398.3,631.6 399.6,634.2 400.8,631.2 402.1,634.1 403.6,634.3 405.1,636.2 406.7,633.4 408.2,636.3 409.8,637.6 411.3,636.5 412.9,637.5 414.4,636.5 415.6,647.0 416.9,658.8 418.1,647.5 419.3,636.5 420.6,650.8 421.8,666.2 423.1,676.3 424.3,683.5 425.5,690.0 426.8,698.3 428.0,700.5 429.2,703.2 430.5,716.4 431.7,727.9 432.9,728.2 434.2,725.5 435.4,726.3 436.6,723.0 437.9,727.7 439.1,732.9 440.3,742.7 441.6,752.6 442.8,759.8 444.1,765.0 445.3,771.1 446.5,777.3 447.8,780.1 449.0,784.7 450.2,783.1 451.5,782.3 452.7,785.7 453.9,792.2 455.2,792.8 456.4,794.6 457.6,793.1 458.9,787.2 460.1,786.8 461.3,782.3 462.6,779.1 463.8,774.9 465.0,776.1 466.3,777.3 467.5,781.6 468.8,787.2 470.0,786.6 471.2,788.7 472.5,792.2 473.7,792.2 474.9,797.1 476.2,798.1 477.4,802.0 478.6,808.2 479.9,813.1 481.1,816.9 482.3,816.5 483.6,814.4 484.8,821.3 486.0,826.7 487.3,831.0 488.5,832.3 489.8,836.9 491.0,839.1 492.2,840.0 493.5,842.7 494.7,845.8 495.9,846.5 497.2,849.8 498.4,850.5 499.6,855.9 500.9,856.4 502.1,857.4 503.3,857.4 504.6,855.2 505.8,857.6 507.0,856.6 508.3,854.1 509.5,853.9 510.8,851.0 512.0,846.5 513.2,850.0 514.5,853.9 515.7,857.0 516.9,857.9 518.2,858.9 519.4,857.7 520.6,853.2 521.9,851.4 523.1,855.4 524.3,859.1 525.6,861.3 526.8,863.4 528.0,861.9 529.3,864.7 530.5,863.8 531.7,864.8 533.0,863.4 534.2,864.0 535.5,861.3 536.7,863.0 537.9,860.8 539.2,860.5 540.4,860.1 541.6,858.9 542.9,862.2 544.1,862.9 545.3,861.3 546.6,860.0 547.8,859.7 549.0,858.6 550.3,856.4 551.5,853.7 552.7,847.5 554.0,846.5 555.2,841.6 556.5,846.9 557.7,851.4 558.9,853.4 560.2,853.9 561.4,846.2 562.6,839.1 563.9,844.6 565.1,849.0 566.3,853.9 567.6,856.4 568.8,863.2 570.0,868.7 571.3,867.2 572.5,863.8 573.7,860.5 575.0,861.3 576.2,857.4 577.5,856.4 578.7,864.8 579.9,873.7 581.2,870.6 582.4,866.3 583.6,862.6 584.9,861.3 586.1,860.9 587.3,858.9 588.6,858.2 589.8,854.4 591.0,855.0 592.3,853.9 593.5,852.3 594.7,851.1 596.0,852.7 597.2,860.3 598.4,871.2 599.7,861.8 600.9,853.9 602.2,850.9 603.4,849.3 604.6,849.0 605.9,842.8 607.1,840.6 608.3,836.6 609.6,834.4 610.8,833.8 612.0,831.7 605.0,841.6 606.2,838.3 607.5,834.2 608.7,833.0 609.9,835.9 611.2,832.0 612.4,834.2 613.6,832.1 614.9,829.9 616.1,829.2 617.4,824.7 618.6,819.3 619.8,816.9 621.1,815.0 622.3,809.7 623.5,807.0 624.8,803.3 626.0,804.2 627.2,802.0 628.5,799.0 629.7,799.6 630.9,794.8 632.2,789.0 633.4,784.7 634.6,782.6 635.9,781.8 637.1,777.3 638.3,776.3 639.6,772.4 640.6,750.0 641.6,727.9 642.5,708.2 643.3,695.8 644.5,693.5 645.8,688.4 647.0,687.0 648.2,683.7 649.5,682.2 650.7,688.7 651.9,698.3 653.2,702.4 654.4,705.7 655.6,703.5 656.9,700.8 658.1,698.6 659.3,694.6 660.6,688.4 661.4,658.9 662.3,629.1 663.3,614.1 664.3,599.5 665.5,612.4 666.8,624.2 667.7,637.0 668.7,651.3 669.6,642.2 670.5,636.5 671.7,635.6 672.9,634.1 674.2,624.4 675.4,613.7 676.6,604.4 677.9,592.3 679.1,579.7 680.3,585.1 681.6,587.1 682.8,592.7 684.1,599.5 685.3,596.7 686.5,594.5 687.8,592.1 689.0,592.1 690.2,604.4 691.5,629.1 692.0,636.5" fill="none" stroke="#2a2aff" stroke-width="1" stroke-linejoin="bevel"/>
<path d="M219.4,848.8h0M219.3,837.1h0M219.9,842.4h0M219.5,854.0h0M220.1,845.5h0M220.1,840.0h0M220.7,841.4h0M220.5,842.5h0M221.4,853.8h0M221.1,856.1h0M221.7,847.5h0M221.7,846.1h0M222.2,854.3h0M222.1,849.9h0M222.7,845.2h0M222.8,839.7h0M223.3,859.1h0M223.2,859.1h0M223.7,857.2h0M223.6,855.6h0M224.1,841.4h0M224.0,857.7h0M224.6,849.4h0M224.9,842.4h0M225.3,844.5h0M225.3,854.8h0M225.5,852.1h0M225.9,843.5h0M226.0,847.7h0M226.1,852.3h0M226.7,841.5h0M226.6,853.6h0M227.4,816.1h0M227.2,854.8h0M227.5,844.8h0M228.0,849.0h0M228.3,854.2h0M228.5,853.4h0M228.7,860.1h0M228.6,839.9h0M229.3,831.3h0M229.3,847.3h0M229.6,856.7h0M229.9,844.0h0M230.2,854.7h0M230.4,852.8h0M230.8,844.7h0M231.0,852.8h0M231.2,842.8h0M231.3,846.2h0M231.6,855.2h0M232.5,845.7h0M232.4,854.9h0M232.7,850.5h0M232.7,846.5h0M233.0,860.9h0M233.4,833.8h0M233.5,843.0h0M233.7,860.3h0M234.4,842.3h0M234.1,853.1h0M234.5,843.2h0M234.9,857.8h0M235.3,851.9h0M235.4,847.6h0M235.5,856.6h0M235.6,843.3h0M236.3,844.5h0M236.5,851.0h0M236.6,850.1h0M236.8,846.3h0M237.4,862.2h0M237.3,859.4h0M238.0,860.0h0M238.3,857.1h0M238.1,854.8h0M238.9,851.3h0M239.3,851.6h0M239.1,852.9h0M240.0,863.1h0M239.8,849.3h0M240.4,849.8h0M240.2,854.8h0M240.8,860.2h0M240.9,852.7h0M241.3,866.0h0M241.1,860.4h0M241.7,853.4h0M242.4,853.3h0M242.1,862.0h0M242.7,848.8h0M243.1,850.3h0M243.8,850.2h0M243.6,860.5h0M244.3,861.3h0M244.3,856.7h0M244.7,859.6h0M245.4,840.1h0M245.1,858.7h0M245.9,853.8h0M245.6,851.0h0M246.3,855.6h0M246.4,861.4h0M246.8,851.8h0M247.2,866.0h0M247.7,863.4h0M247.8,866.4h0M248.1,861.4h0M248.3,864.1h0M248.7,863.4h0M248.6,850.9h0M249.2,861.1h0M249.6,855.1h0M250.0,866.1h0M250.2,853.9h0M250.8,855.1h0M251.4,852.7h0M252.0,854.9h0M252.2,855.6h0M252.9,866.9h0M252.9,868.9h0M253.2,856.4h0M253.5,859.6h0M253.9,862.9h0M254.2,864.8h0M254.1,864.3h0M254.8,864.5h0M255.3,857.0h0M255.6,856.1h0M256.4,863.4h0M256.1,854.4h0M256.6,866.5h0M257.2,867.9h0M258.3,868.1h0M259.4,855.1h0M259.8,869.3h0M260.6,866.6h0M222.5,813.7h0M235.6,811.3h0M236.2,812.5h0M223.3,827.2h0M221.7,833.5h0M222.5,832.2h0M237.2,831.4h0M250.9,826.4h0M257.3,839.0h0M250.9,841.4h0M221.0,845.0h0M220.5,849.0h0M415.7,662.5h0M416.1,686.8h0M416.5,678.6h0M416.2,674.0h0M417.0,674.9h0M417.0,663.1h0M417.6,660.8h0M417.6,662.4h0M417.9,682.1h0M418.1,671.5h0M417.9,679.7h0M418.4,696.1h0M418.3,674.5h0M419.1,681.6h0M418.8,674.8h0M419.5,671.3h0M419.5,678.6h0M419.9,700.6h0M420.0,691.5h0M420.6,700.5h0M420.2,690.1h0M420.7,682.5h0M420.7,679.2h0M421.2,679.7h0M421.3,703.1h0M421.7,687.4h0M422.0,690.0h0M422.2,682.3h0M422.6,679.1h0M423.0,714.9h0M423.1,686.7h0M423.1,701.0h0M423.2,708.6h0M423.8,691.7h0M423.6,698.6h0M424.5,696.8h0M424.4,690.1h0M424.8,691.6h0M424.8,704.9h0M425.5,691.8h0M425.1,704.0h0M425.9,700.6h0M426.0,712.6h0M426.2,720.5h0M426.2,681.4h0M426.8,719.0h0M426.7,721.0h0M427.5,702.6h0M427.1,705.4h0M427.8,713.3h0M427.6,709.4h0M428.4,720.8h0M428.5,710.6h0M428.9,716.0h0M428.9,701.8h0M429.2,732.3h0M429.2,720.5h0M429.7,729.5h0M429.7,726.3h0M430.3,731.9h0M430.2,724.9h0M430.8,733.1h0M430.6,731.1h0M431.4,710.4h0M431.3,715.1h0M431.4,713.3h0M431.5,724.9h0M431.8,739.5h0M431.7,714.1h0M432.4,720.5h0M432.6,714.3h0M433.2,730.8h0M433.2,731.7h0M433.2,743.3h0M433.4,735.4h0M434.0,743.4h0M433.9,731.5h0M434.6,727.8h0M434.5,729.8h0M434.8,721.3h0M435.2,748.7h0M435.6,720.8h0M435.3,748.7h0M435.8,733.0h0M435.9,743.2h0M436.4,726.4h0M436.4,747.1h0M436.7,736.8h0M437.2,730.7h0M437.2,744.6h0M437.3,750.9h0M438.1,741.7h0M438.0,743.4h0M438.5,746.1h0M438.5,731.3h0M438.9,728.8h0M438.8,741.0h0M439.4,744.3h0M439.2,734.2h0M440.0,743.0h0M439.8,743.2h0M440.6,750.9h0M440.5,762.0h0M440.7,743.0h0M440.8,756.2h0M441.4,773.8h0M441.5,765.5h0M441.9,759.7h0M442.0,775.5h0M442.1,773.3h0M442.5,750.3h0M443.1,767.0h0M442.6,758.9h0M443.5,778.8h0M443.4,779.8h0M444.0,785.1h0M443.8,781.2h0M444.4,768.4h0M444.4,767.0h0M444.8,775.2h0M444.8,773.8h0M445.6,771.3h0M445.3,789.7h0M445.9,783.1h0M445.6,784.8h0M446.1,771.7h0M446.2,783.2h0M446.8,795.9h0M447.2,789.0h0M447.4,792.6h0M448.0,779.5h0M447.9,795.3h0M448.1,778.6h0M448.6,782.6h0M448.8,784.5h0M449.5,790.0h0M449.1,787.9h0M449.5,789.2h0M450.3,803.2h0M451.0,788.2h0M451.4,796.5h0M451.9,795.1h0M452.3,793.5h0M452.3,802.1h0M453.0,798.6h0M452.9,803.7h0M453.2,804.5h0M453.6,802.3h0M454.1,791.7h0M454.7,802.7h0M454.9,803.2h0M455.6,800.9h0M456.0,806.2h0M456.7,812.9h0M457.0,812.6h0M457.2,789.8h0M457.7,793.4h0M458.1,806.1h0M458.7,801.7h0M458.7,802.9h0M459.0,796.3h0M459.1,787.2h0M459.9,802.5h0M459.7,797.2h0M460.3,801.4h0M460.5,799.6h0M461.0,799.0h0M461.7,802.6h0M462.2,798.1h0M462.3,797.8h0M462.6,804.5h0M462.4,801.7h0M463.4,805.5h0M463.4,789.1h0M463.8,807.9h0M463.5,794.1h0M464.0,787.8h0M464.7,798.1h0M464.6,808.3h0M465.0,802.3h0M465.1,798.5h0M465.6,798.5h0M465.4,803.4h0M466.2,797.6h0M466.1,808.1h0M466.7,791.6h0M466.9,791.6h0M467.7,810.9h0M468.2,809.6h0M468.7,807.0h0M469.0,801.1h0M469.1,814.3h0M469.8,807.3h0M469.4,801.5h0M470.1,808.2h0M470.4,798.1h0M470.8,815.0h0M471.0,803.8h0M471.5,806.8h0M471.6,804.6h0M472.0,808.7h0M472.7,800.7h0M473.1,811.1h0M473.3,812.1h0M473.4,807.4h0M473.9,817.9h0M474.2,802.7h0M474.8,811.3h0M475.0,815.1h0M475.3,810.0h0M475.9,817.8h0M476.5,822.1h0M476.6,809.6h0M476.9,809.3h0M477.2,817.5h0M477.5,816.5h0M477.7,816.4h0M478.6,807.9h0M479.1,830.7h0M479.6,812.1h0M479.7,814.6h0M480.2,826.9h0M481.1,828.2h0M481.4,830.8h0M481.8,825.0h0M482.2,827.1h0M483.2,828.9h0M483.7,819.4h0M484.4,823.9h0M484.9,831.4h0M485.3,837.5h0M485.7,837.6h0M596.2,832.5h0M596.1,836.6h0M596.8,849.6h0M596.8,829.4h0M596.9,856.0h0M597.3,840.9h0M597.0,858.7h0M597.3,855.4h0M597.9,832.2h0M597.5,790.5h0M597.6,839.8h0M598.1,861.7h0M598.3,837.7h0M598.3,853.3h0M598.5,857.5h0M599.0,869.0h0M598.7,860.2h0M599.1,847.9h0M599.1,869.0h0M599.1,850.6h0M599.9,842.6h0M599.9,866.6h0M599.8,857.8h0M600.1,861.3h0M600.3,863.7h0M600.0,842.2h0M600.8,838.1h0M600.8,847.4h0M600.8,774.6h0M601.1,846.3h0M601.0,848.8h0M601.3,852.0h0M601.5,865.3h0M601.7,857.1h0M601.8,841.9h0M602.2,848.8h0M602.3,840.2h0M602.0,839.6h0M602.7,852.6h0M602.7,839.5h0M602.9,870.5h0M603.1,832.4h0M603.3,857.5h0M603.1,867.6h0M603.9,829.5h0M603.8,859.8h0M603.7,852.9h0M604.0,865.1h0M604.1,842.2h0M604.3,865.2h0M604.9,842.1h0M604.9,870.5h0M604.5,861.7h0M605.2,846.2h0M605.0,847.1h0M605.4,846.5h0M605.7,863.7h0M605.8,851.7h0M605.8,854.8h0M606.4,845.3h0M606.0,810.5h0M606.5,859.0h0M606.8,852.1h0M606.5,849.2h0M606.6,842.4h0M607.2,844.0h0M607.5,841.4h0M607.2,862.5h0M607.9,858.3h0M608.0,834.4h0M607.9,834.3h0M608.4,869.4h0M608.3,841.1h0M608.3,856.6h0M608.9,838.9h0M608.5,835.9h0M609.0,844.7h0M609.3,867.3h0M609.2,833.5h0M609.9,863.2h0M609.9,836.0h0M609.8,855.4h0M610.3,863.1h0M610.4,854.9h0M610.4,869.2h0M610.7,850.9h0M611.0,834.5h0M610.6,866.5h0M611.3,862.1h0M611.3,853.4h0M611.3,848.8h0M611.8,862.3h0M611.6,848.1h0M611.7,847.1h0M611.8,860.4h0M612.4,835.2h0M612.3,856.1h0M612.5,856.4h0M612.4,842.9h0M612.8,856.0h0M613.0,860.7h0M612.8,844.6h0M613.2,868.2h0M613.4,865.1h0M613.1,855.6h0M613.1,848.2h0M613.8,841.5h0M613.9,858.7h0M614.0,837.2h0M614.3,833.5h0M614.2,862.9h0M614.0,836.0h0M614.7,858.1h0M614.6,861.2h0M614.7,856.1h0M614.9,867.3h0M615.3,864.3h0M615.2,833.4h0M615.2,867.8h0M605.3,863.5h0M605.1,862.1h0M605.4,868.0h0M606.0,850.2h0M605.7,835.1h0M605.9,838.2h0M606.5,869.2h0M606.0,859.5h0M606.4,873.3h0M607.0,852.2h0M606.6,851.6h0M606.8,836.8h0M607.3,858.5h0M607.3,864.9h0M607.2,866.5h0M607.7,841.5h0M607.7,850.2h0M607.7,863.6h0M608.3,847.7h0M608.1,843.3h0M608.2,865.0h0M608.3,792.6h0M608.6,863.3h0M608.7,847.7h0M608.5,833.5h0M609.4,849.7h0M609.3,832.5h0M609.6,852.1h0M609.5,851.8h0M609.9,858.6h0M610.4,838.4h0M610.1,872.3h0M610.1,840.2h0M610.9,871.3h0M610.6,832.6h0M610.6,854.6h0M611.0,865.6h0M611.4,840.0h0M611.2,862.6h0M612.0,871.0h0M611.6,854.6h0M612.0,839.6h0M611.9,852.0h0M612.2,839.9h0M612.1,872.2h0M612.4,864.1h0M612.5,859.7h0M612.5,834.3h0M612.8,852.2h0M613.3,865.5h0M613.0,867.4h0M612.9,828.6h0M613.7,859.0h0M613.8,831.7h0M613.7,854.6h0M614.0,868.1h0M614.0,842.9h0M613.9,839.7h0M614.5,848.3h0M614.8,813.5h0M614.7,851.7h0M615.4,832.1h0M615.1,856.8h0M615.2,831.6h0M615.9,862.9h0M615.8,833.4h0M615.8,844.6h0M616.2,852.1h0M616.0,855.1h0M616.6,832.6h0M616.4,852.7h0M616.8,835.2h0M617.4,845.3h0M617.2,823.0h0M617.2,859.4h0M617.7,835.6h0M617.5,832.1h0M618.3,841.4h0M618.4,853.0h0M618.7,825.4h0M618.9,840.8h0M619.3,841.3h0M619.3,830.4h0M619.8,831.0h0M619.9,832.5h0M620.3,849.6h0M619.9,851.2h0M620.6,839.4h0M620.4,842.5h0M621.2,834.7h0M620.9,823.0h0M621.8,813.1h0M621.7,817.8h0M622.0,824.9h0M622.1,814.9h0M622.7,815.9h0M622.6,821.8h0M623.0,832.4h0M623.0,813.5h0M623.6,817.1h0M623.7,845.6h0M624.0,809.0h0M624.1,813.1h0M624.3,818.2h0M624.8,830.0h0M624.8,834.3h0M625.2,844.8h0M625.6,881.3h0M625.6,818.5h0M625.9,846.6h0M626.0,836.8h0M626.3,825.9h0M626.8,831.4h0M627.2,841.6h0M627.0,836.7h0M627.2,818.9h0M627.5,833.0h0M627.7,805.4h0M628.1,810.0h0M627.9,820.9h0M628.5,799.7h0M628.6,815.2h0M629.0,797.4h0M629.2,818.1h0M628.9,836.8h0M629.6,800.6h0M629.3,823.1h0M629.9,837.1h0M629.9,790.1h0M630.5,803.7h0M630.7,813.2h0M630.7,805.2h0M631.2,829.3h0M630.8,818.1h0M631.3,822.5h0M631.7,825.1h0M631.9,830.1h0M632.1,824.9h0M631.7,829.8h0M632.6,834.4h0M632.7,827.9h0M632.8,816.1h0M632.7,827.9h0M633.6,787.5h0M633.5,822.1h0M633.9,828.1h0M634.0,816.7h0M634.6,824.0h0M634.3,789.2h0M635.2,816.3h0M635.0,817.2h0M635.0,822.8h0M635.4,805.3h0M635.4,802.6h0M635.8,785.9h0M635.8,749.7h0M636.1,812.8h0M636.3,790.7h0M636.4,824.9h0M636.7,815.2h0M636.9,792.4h0M636.9,817.3h0M637.4,816.6h0M637.2,824.5h0M638.1,786.8h0M638.1,824.9h0M638.3,776.1h0M638.6,793.7h0M639.1,801.4h0M638.9,817.0h0M639.6,814.2h0M639.4,796.1h0M640.0,788.8h0M640.1,775.1h0M640.5,802.1h0M640.3,775.1h0M640.7,765.9h0M640.7,798.4h0M641.3,779.5h0M641.6,807.6h0M642.1,771.1h0M641.9,761.0h0M642.5,823.7h0M642.4,776.4h0M642.6,768.8h0M642.9,760.6h0M642.8,777.2h0M643.1,790.9h0M643.6,757.1h0M643.1,773.0h0M643.9,781.7h0M643.9,802.4h0M644.1,784.3h0M644.2,745.7h0M644.2,794.9h0M645.0,799.9h0M644.7,745.2h0M645.2,757.0h0M645.3,789.8h0M645.9,753.4h0M645.6,779.8h0M646.3,790.9h0M646.1,793.6h0M647.1,792.6h0M646.9,774.7h0M647.1,766.9h0M647.3,747.2h0M647.6,762.5h0M648.0,782.3h0M648.3,724.7h0M648.2,747.3h0M648.8,760.2h0M648.7,780.7h0M649.2,731.5h0M649.3,739.5h0M649.0,757.4h0M650.0,749.2h0M649.7,761.9h0M650.1,771.4h0M650.1,718.5h0M650.0,693.3h0M650.6,740.0h0M650.7,721.2h0M651.2,738.9h0M651.4,714.9h0M651.9,745.1h0M651.9,766.7h0M651.5,774.0h0M652.5,744.5h0M652.5,719.4h0M652.6,751.3h0M652.9,709.6h0M653.2,733.3h0M653.0,750.3h0M653.4,735.5h0M653.8,716.9h0M653.5,734.0h0M654.4,755.0h0M654.3,755.2h0M654.1,711.8h0M654.5,719.0h0M654.5,662.4h0M655.1,702.8h0M654.9,708.0h0M655.7,744.7h0M655.7,748.5h0M656.4,707.2h0M655.9,738.2h0M656.4,719.8h0M656.7,717.9h0M656.9,727.1h0M657.1,711.1h0M657.4,742.6h0M657.2,715.5h0M657.9,731.2h0M657.5,721.6h0M658.2,717.0h0M658.3,685.5h0M658.5,723.5h0M658.7,722.2h0M659.2,713.6h0M659.0,679.2h0M659.8,680.6h0M659.6,695.2h0M659.9,716.2h0M660.1,689.7h0M660.1,686.1h0M660.5,709.1h0M660.9,704.4h0M661.4,689.0h0M661.0,691.2h0M661.9,675.3h0M661.9,698.1h0M661.9,700.8h0M661.9,680.4h0M662.6,686.5h0M662.5,689.1h0M663.1,705.0h0M663.3,684.7h0M663.6,703.5h0M663.5,678.8h0M664.0,668.4h0M663.8,663.3h0M664.6,672.7h0M664.6,702.1h0M664.6,671.7h0M665.3,691.0h0M665.3,685.6h0M664.9,677.4h0M665.4,693.4h0M665.8,670.3h0M665.9,682.3h0M666.2,687.9h0M666.6,740.2h0M666.7,671.5h0M666.7,672.9h0M666.8,658.8h0M667.0,678.2h0M667.6,672.9h0M667.4,665.9h0M667.8,690.7h0M668.0,670.1h0M668.1,683.2h0M668.4,686.1h0M668.5,652.0h0M669.2,668.6h0M669.3,662.1h0M669.2,669.3h0M669.4,689.4h0M669.9,663.6h0M669.8,648.9h0M670.3,652.5h0M670.5,676.1h0M670.5,690.0h0M670.9,683.9h0M671.1,647.5h0M670.9,667.4h0M671.6,646.8h0M671.6,665.9h0M671.7,668.2h0M671.8,678.7h0M671.9,645.1h0M672.5,648.4h0M672.3,646.7h0M672.7,651.5h0M673.2,671.3h0M672.8,673.9h0M673.0,681.3h0M673.4,647.4h0M673.5,666.0h0M673.7,646.5h0M674.1,644.2h0M673.9,674.0h0M674.4,665.4h0M674.3,654.1h0M675.0,655.2h0M674.8,673.3h0M674.7,669.5h0M675.4,667.8h0M675.7,676.5h0M675.5,666.1h0M676.0,659.7h0M675.9,662.4h0M676.1,652.2h0M676.7,652.6h0M676.6,659.2h0M676.5,669.0h0M676.8,640.0h0M676.8,664.5h0M677.0,655.9h0M677.4,652.5h0M677.7,646.5h0M678.2,655.3h0M677.9,635.6h0M678.6,642.6h0M678.6,667.8h0M679.2,661.7h0M678.9,642.2h0M679.1,654.3h0M679.4,650.1h0M679.3,627.6h0M679.5,660.4h0M679.9,633.7h0M680.0,632.4h0M680.1,627.3h0M680.5,636.0h0M680.6,639.6h0M680.4,648.7h0M680.7,641.3h0M680.8,641.9h0M680.9,653.4h0M681.6,640.5h0M681.4,645.0h0M682.0,631.1h0M682.0,632.6h0M682.1,648.0h0M682.4,631.8h0M682.2,657.7h0M683.1,663.6h0M682.8,643.5h0M683.3,630.9h0M683.3,631.5h0M683.5,650.2h0M683.9,647.8h0M683.9,662.3h0M683.9,644.2h0M684.5,653.9h0M684.4,658.7h0M684.2,639.2h0M685.1,639.9h0M684.9,648.1h0M684.6,651.1h0M685.6,631.4h0M685.3,656.1h0M685.3,632.3h0M685.7,650.0h0M685.7,652.8h0M685.9,630.0h0M686.1,633.6h0M686.6,659.5h0M686.6,634.9h0M686.8,637.3h0M686.6,643.7h0M686.7,659.2h0M687.4,647.2h0M687.2,648.5h0M688.0,639.2h0M687.6,647.6h0M688.5,647.3h0M688.2,647.1h0M688.4,644.1h0M688.8,650.5h0M689.0,652.9h0M689.3,631.3h0M689.4,659.5h0M689.0,655.9h0M689.9,650.2h0M689.9,650.5h0M690.3,631.5h0M690.4,655.3h0M690.4,637.5h0M690.5,658.8h0M690.7,647.9h0M691.5,652.4h0M691.5,660.3h0M691.6,648.4h0M691.8,658.5h0M692.1,641.0h0M692.4,653.0h0M692.8,631.4h0M692.9,635.2h0M693.1,660.9h0M693.5,645.9h0M693.7,646.1h0M693.6,647.3h0M694.3,651.8h0M694.0,654.8h0M694.8,651.8h0M694.9,655.6h0M695.4,640.6h0M695.1,608.0h0M695.5,636.3h0M695.6,644.4h0M696.0,645.8h0M696.0,652.6h0M696.6,653.2h0M696.8,642.2h0M697.2,635.7h0M697.1,656.0h0M697.8,647.7h0M697.8,640.5h0M698.5,635.7h0M698.6,663.3h0M699.1,654.1h0M699.2,645.4h0M699.9,641.9h0M699.8,668.4h0M700.4,648.8h0M759.7,647.9h0M760.2,645.1h0M760.5,642.7h0M760.9,643.6h0M761.0,644.7h0M761.4,655.6h0M761.5,649.3h0M762.1,658.1h0M762.6,644.6h0M762.7,640.4h0M763.3,646.5h0M763.0,650.8h0M763.5,655.3h0M763.7,652.3h0M764.1,665.2h0M764.5,670.9h0M764.7,661.6h0M765.4,649.3h0M765.1,669.8h0M765.7,667.2h0M765.8,654.2h0M765.7,658.0h0M765.9,659.0h0M766.5,665.7h0M766.3,637.5h0M766.8,669.6h0M766.7,683.7h0M767.1,658.7h0M767.4,658.7h0M768.0,686.8h0M767.6,689.3h0M768.1,683.4h0M768.4,690.4h0M768.8,668.6h0M769.0,672.6h0M769.2,679.4h0M769.3,678.2h0M769.7,667.6h0M769.7,677.4h0M770.3,672.9h0M770.9,678.0h0M771.3,699.1h0M771.2,670.2h0M771.6,671.2h0M771.8,678.7h0M772.0,689.1h0M771.9,684.8h0M772.5,677.0h0M772.6,702.5h0M773.0,680.9h0M773.4,706.4h0M774.1,708.3h0M774.7,707.0h0M774.5,688.5h0M775.2,700.9h0M775.7,706.3h0M775.6,714.0h0M775.2,743.6h0M775.6,756.1h0M776.2,737.3h0M776.6,752.1h0M777.2,755.8h0M777.5,742.9h0M778.0,749.7h0M778.7,748.6h0M778.9,742.2h0M779.0,746.9h0M779.6,755.7h0M779.8,760.3h0M780.2,757.2h0M779.8,752.1h0M780.7,759.6h0M780.4,764.8h0M780.9,754.2h0M780.8,766.6h0M781.3,757.1h0M781.5,759.9h0M782.3,772.5h0M781.8,766.1h0M782.3,757.2h0M782.7,767.0h0M783.0,770.5h0M783.5,776.0h0M783.6,776.1h0M784.0,775.3h0M785.0,774.5h0M785.4,782.0h0M785.5,785.1h0M786.4,782.3h0M786.6,781.3h0M787.0,774.4h0M787.0,792.6h0M787.5,789.4h0M788.0,799.0h0M787.7,798.8h0M788.5,805.3h0M788.8,781.9h0M789.5,794.3h0M789.9,797.6h0M790.4,784.3h0M790.4,790.4h0M790.8,785.6h0M791.2,804.7h0M792.1,796.1h0M792.7,809.3h0M792.6,827.0h0M792.9,794.3h0M793.2,803.2h0M793.4,805.8h0M794.1,841.4h0M794.3,812.3h0M794.4,792.3h0M794.9,813.2h0M795.4,794.3h0M795.9,811.1h0M795.8,805.2h0M796.4,804.5h0M796.8,839.1h0M797.5,799.1h0M797.9,805.0h0M798.5,806.3h0M798.9,808.5h0M798.9,803.2h0M799.6,803.6h0M799.7,800.7h0M800.1,818.4h0M800.8,813.3h0M801.1,826.4h0M801.4,789.4h0M802.0,805.1h0M802.1,817.5h0M802.9,815.6h0M803.2,809.8h0M803.8,808.8h0M803.5,815.9h0M804.5,812.6h0M804.1,813.8h0M805.0,826.7h0M805.1,810.4h0M805.5,822.4h0M806.4,829.8h0M806.7,815.2h0M807.0,828.0h0M807.3,814.0h0M807.6,823.1h0M807.9,803.3h0M808.1,818.8h0M808.1,832.5h0M808.8,834.2h0M809.3,832.4h0M809.6,844.4h0M809.7,819.4h0M810.2,816.3h0M810.3,804.9h0M810.7,819.2h0M811.3,834.6h0M811.7,820.4h0M811.7,819.3h0M812.0,837.1h0M812.4,829.8h0M812.7,828.6h0M812.8,832.3h0M813.1,825.6h0M813.5,833.0h0M813.9,828.4h0M814.7,825.9h0M815.3,825.2h0M815.3,834.4h0M815.9,841.7h0M816.3,840.5h0M816.3,839.1h0M816.8,835.3h0M817.1,828.5h0M817.7,839.8h0M817.9,833.6h0M818.4,844.1h0M819.3,841.0h0M819.8,838.2h0M820.1,832.3h0M820.6,841.7h0M821.5,844.6h0M822.2,845.5h0M822.6,840.2h0M823.3,838.0h0M823.5,838.1h0M824.1,829.8h0M824.5,841.0h0M824.9,844.9h0M825.8,836.2h0M825.6,842.3h0M826.8,844.3h0M827.1,836.4h0M827.5,846.8h0M828.4,837.8h0M828.9,837.8h0M829.1,835.8h0M829.7,840.4h0M829.9,850.7h0M830.4,838.1h0M830.7,850.0h0M831.2,840.5h0M831.9,845.0h0M832.4,850.3h0M833.0,850.8h0M833.5,845.7h0M833.9,853.6h0M834.3,842.7h0M834.7,853.2h0M835.6,847.9h0M835.9,842.8h0M837.0,850.4h0M837.4,848.9h0M837.9,850.8h0M838.3,845.3h0M838.7,853.1h0M839.4,849.2h0M839.8,851.7h0M840.4,849.3h0M840.6,848.8h0M841.6,861.3h0M841.7,851.3h0M842.4,864.7h0M842.9,858.7h0M844.0,857.1h0M844.1,866.5h0M844.7,851.1h0M845.3,855.8h0M845.7,868.0h0M846.3,863.9h0M846.9,866.7h0M847.2,859.2h0M847.7,869.3h0M848.3,858.2h0M848.7,856.4h0M849.4,859.3h0M849.6,883.0h0M850.3,868.1h0M850.9,869.8h0M851.4,863.8h0M851.6,861.5h0M852.4,865.2h0M852.7,861.3h0M853.1,864.5h0M853.9,857.2h0M854.4,869.1h0M854.8,867.7h0M855.3,851.5h0M855.9,872.4h0M856.4,867.4h0M856.8,868.0h0M857.0,871.1h0M857.7,866.8h0M857.9,868.1h0M858.6,873.4h0M859.1,873.3h0M859.5,871.8h0M860.4,872.8h0M861.0,871.7h0M862.3,872.1h0M862.7,869.7h0M863.6,864.1h0M863.9,872.4h0M864.6,869.9h0M866.2,870.8h0M904.7,860.4h0M904.7,858.5h0M905.1,862.7h0M905.5,875.8h0M905.9,856.1h0M906.3,862.1h0M906.9,864.2h0M906.7,877.1h0M907.1,860.2h0M907.7,873.0h0M908.4,868.3h0M908.7,877.7h0M909.2,871.3h0M909.3,889.0h0M909.6,863.0h0M909.8,858.0h0M910.2,876.5h0M910.7,863.9h0M911.4,874.0h0M911.7,873.1h0M912.3,884.4h0M912.3,857.5h0M912.9,864.5h0M912.7,857.6h0M913.3,857.5h0M913.6,867.1h0M914.5,865.1h0M914.7,863.3h0M915.2,876.7h0M915.4,870.3h0M915.8,879.1h0M916.2,872.1h0M916.4,866.5h0M916.7,874.5h0M916.6,871.4h0M917.4,879.0h0M917.6,878.4h0M918.5,871.0h0M918.3,878.6h0M918.8,859.3h0M919.0,860.1h0M919.8,863.5h0M919.6,865.2h0M920.5,876.7h0M920.9,870.7h0M920.9,873.5h0M920.8,876.2h0M921.1,879.5h0M921.5,879.7h0M921.9,865.4h0M921.8,865.7h0M922.4,876.9h0M922.4,870.2h0M922.9,869.7h0M923.3,876.5h0M923.6,876.1h0M924.1,840.4h0M924.9,866.5h0M924.9,873.3h0M925.2,879.4h0M925.7,860.4h0M925.6,869.2h0M926.6,878.9h0M927.4,851.1h0M928.0,879.7h0M927.6,866.1h0M928.5,868.6h0M928.2,875.6h0M928.9,876.7h0M929.2,859.2h0M930.0,875.4h0M930.6,860.7h0M930.2,876.0h0M930.9,834.4h0M931.3,873.5h0M931.1,868.0h0M932.0,867.8h0M931.7,852.5h0M932.5,859.2h0M933.0,875.7h0M933.2,876.1h0M933.9,861.4h0M934.4,858.7h0M934.1,870.4h0M934.7,864.2h0M935.0,871.4h0M935.8,867.4h0M936.2,874.6h0M936.4,857.4h0M937.0,866.0h0M937.6,871.4h0M938.3,866.3h0M938.8,873.0h0M939.3,877.2h0M939.7,858.7h0M940.3,861.3h0M940.4,866.0h0M940.5,860.3h0M941.2,869.2h0M941.8,875.6h0M942.1,860.7h0M942.4,859.2h0M943.2,859.5h0M943.9,862.6h0M943.6,855.3h0M944.4,864.7h0M944.9,860.2h0M945.0,854.1h0M945.2,859.6h0M945.7,872.8h0M946.2,870.1h0M946.8,863.3h0M947.3,859.1h0M947.3,866.5h0M947.7,874.2h0M948.1,860.4h0M948.7,855.1h0M948.5,853.7h0M949.2,863.5h0M949.0,853.3h0M949.4,854.2h0M949.8,851.7h0M950.2,848.4h0M950.3,863.8h0M950.6,840.4h0M950.8,862.1h0M951.1,849.3h0M951.4,850.0h0M951.6,848.0h0M951.8,849.2h0M951.8,828.1h0M952.6,825.0h0M952.9,822.7h0M952.7,830.6h0M953.6,837.3h0M953.5,824.7h0M953.8,850.2h0M954.0,848.7h0M954.6,831.3h0M954.6,852.1h0M954.9,852.0h0M954.9,819.5h0M955.6,835.8h0M955.4,842.7h0M955.7,847.6h0M955.7,832.2h0M956.4,848.6h0M956.5,845.3h0M957.0,830.6h0M956.9,846.0h0M957.5,842.4h0M957.8,835.6h0M957.8,827.5h0M958.6,833.3h0M959.0,837.8h0M959.5,838.0h0M959.2,826.1h0M960.1,825.0h0M959.7,818.6h0M960.7,843.4h0M960.2,826.5h0M961.0,808.4h0M961.6,828.7h0M961.2,834.1h0M961.9,836.4h0M962.0,829.1h0M962.2,867.8h0M962.6,821.9h0M963.3,829.9h0M963.3,837.3h0M963.8,829.2h0M964.1,840.1h0M964.1,833.9h0M964.9,839.0h0M965.2,834.9h0M965.4,838.4h0M966.0,828.4h0M965.7,844.9h0M966.4,836.1h0M966.9,831.0h0M966.9,849.2h0M967.4,838.7h0M967.9,878.9h0M968.1,840.8h0M968.2,800.7h0M968.6,807.7h0M969.2,846.9h0M970.0,852.4h0M149.7,826.7h0M152.2,825.5h0M157.1,832.9h0M159.6,828.0h0M162.1,836.6h0M164.5,832.9h0M167.0,832.9h0M169.5,842.8h0M174.4,835.4h0M176.9,821.8h0M179.3,844.0h0M181.8,845.3h0M171.9,802.0h0M414.4,584.6h0M414.4,600.7h0M420.6,600.7h0M650.7,621.7h0M651.9,648.9h0M643.3,661.2h0M708.8,640.2h0M710.0,674.8h0M710.0,688.4h0M760.6,583.4h0M634.6,757.6h0M630.9,769.9h0M622.3,777.3h0M905.8,830.9h0M907.0,844.5h0M918.1,833.4h0M916.9,842.0h0M921.8,845.8h0M934.2,787.7h0M939.1,827.2h0M953.9,787.0h0M960.1,793.9h0M962.6,801.3h0M951.5,803.8h0M968.7,860.6h0M969.5,868.0h0M803.2,854.4h0M814.3,849.5h0M840.3,826.0h0M853.4,848.2h0" stroke="#000" stroke-width="2.8" stroke-linecap="round" fill="none"/>
<circle cx="144.3" cy="842.8" r="6.2" fill="none" stroke="#00c000" stroke-width="3.0"/><circle cx="166.5" cy="870.0" r="6.2" fill="none" stroke="#00c000" stroke-width="3.0"/><circle cx="196.6" cy="874.2" r="6.2" fill="none" stroke="#00c000" stroke-width="3.0"/><circle cx="237.4" cy="866.8" r="6.2" fill="none" stroke="#00c000" stroke-width="3.0"/><circle cx="272.7" cy="828.0" r="6.2" fill="none" stroke="#00c000" stroke-width="3.0"/><circle cx="304.8" cy="732.4" r="6.2" fill="none" stroke="#00c000" stroke-width="3.0"/><circle cx="332.5" cy="685.9" r="6.2" fill="none" stroke="#00c000" stroke-width="3.0"/><circle cx="332.5" cy="695.8" r="6.2" fill="none" stroke="#00c000" stroke-width="3.0"/><circle cx="396.6" cy="611.8" r="6.2" fill="none" stroke="#00c000" stroke-width="3.0"/><circle cx="396.6" cy="628.6" r="6.2" fill="none" stroke="#00c000" stroke-width="3.0"/><circle cx="396.6" cy="631.6" r="6.2" fill="none" stroke="#00c000" stroke-width="3.0"/><circle cx="413.7" cy="665.4" r="6.2" fill="none" stroke="#00c000" stroke-width="3.0"/><circle cx="436.6" cy="737.8" r="6.2" fill="none" stroke="#00c000" stroke-width="3.0"/><circle cx="436.6" cy="744.0" r="6.2" fill="none" stroke="#00c000" stroke-width="3.0"/><circle cx="436.6" cy="750.2" r="6.2" fill="none" stroke="#00c000" stroke-width="3.0"/><circle cx="472.0" cy="784.7" r="6.2" fill="none" stroke="#00c000" stroke-width="3.0"/><circle cx="472.0" cy="793.4" r="6.2" fill="none" stroke="#00c000" stroke-width="3.0"/><circle cx="502.6" cy="841.8" r="6.2" fill="none" stroke="#00c000" stroke-width="3.0"/><circle cx="502.6" cy="845.0" r="6.2" fill="none" stroke="#00c000" stroke-width="3.0"/><circle cx="638.4" cy="793.4" r="6.2" fill="none" stroke="#00c000" stroke-width="3.0"/><circle cx="638.4" cy="799.6" r="6.2" fill="none" stroke="#00c000" stroke-width="3.0"/><circle cx="638.4" cy="806.5" r="6.2" fill="none" stroke="#00c000" stroke-width="3.0"/><circle cx="760.1" cy="615.5" r="6.2" fill="none" stroke="#00c000" stroke-width="3.0"/><circle cx="760.1" cy="631.1" r="6.2" fill="none" stroke="#00c000" stroke-width="3.0"/><circle cx="814.0" cy="797.1" r="6.2" fill="none" stroke="#00c000" stroke-width="3.0"/><circle cx="814.0" cy="808.2" r="6.2" fill="none" stroke="#00c000" stroke-width="3.0"/><circle cx="814.0" cy="817.6" r="6.2" fill="none" stroke="#00c000" stroke-width="3.0"/>
<path d="M120.2,1222.4h0M120.6,1231.2h0M122.5,1224.2h0M123.5,1223.5h0M123.8,1219.6h0M125.3,1217.2h0M126.4,1228.0h0M127.4,1242.9h0M128.4,1238.0h0M128.6,1232.5h0M130.5,1237.9h0M130.7,1231.2h0M131.4,1247.0h0M131.6,1246.8h0M132.1,1243.1h0M132.6,1235.9h0M133.2,1236.0h0M133.9,1251.1h0M135.5,1238.7h0M137.0,1233.2h0M138.1,1266.6h0M138.9,1235.0h0M139.0,1253.4h0M139.9,1248.0h0M140.4,1248.5h0M141.4,1238.0h0M141.6,1247.1h0M142.1,1232.2h0M143.4,1242.4h0M143.7,1244.6h0M145.8,1243.4h0M147.1,1241.2h0M147.8,1252.4h0M149.3,1243.1h0M150.1,1243.0h0M153.5,1242.5h0M153.8,1253.1h0M154.7,1242.8h0M156.5,1263.7h0M156.9,1252.6h0M157.5,1233.7h0M158.4,1248.7h0M159.6,1241.8h0M159.9,1242.0h0M163.1,1250.8h0M166.0,1247.8h0M166.3,1262.3h0M166.8,1236.1h0M168.3,1265.3h0M170.3,1243.8h0M170.8,1270.0h0M170.9,1257.5h0M171.6,1263.4h0M172.7,1254.0h0M173.4,1272.4h0M173.4,1248.2h0M175.1,1256.8h0M176.8,1240.2h0M176.9,1271.9h0M178.4,1260.4h0M179.8,1258.4h0M180.2,1246.5h0M180.7,1238.4h0M182.1,1241.8h0M182.7,1241.6h0M183.6,1238.6h0M184.4,1267.7h0M184.9,1261.6h0M187.8,1243.8h0M187.9,1256.5h0M190.1,1272.0h0M190.8,1245.8h0M191.2,1241.6h0M191.4,1260.0h0M194.9,1252.9h0M195.9,1329.1h0M196.5,1251.4h0M196.9,1253.7h0M198.0,1269.0h0M198.9,1257.2h0M199.7,1265.9h0M200.6,1238.1h0M201.8,1248.9h0M202.4,1231.5h0M204.3,1238.7h0M204.6,1244.0h0M205.1,1251.9h0M205.6,1258.5h0M206.4,1262.6h0M206.9,1232.7h0M207.7,1270.6h0M209.6,1244.7h0M210.9,1255.3h0M212.6,1276.8h0M214.5,1276.5h0M216.4,1269.4h0M217.0,1266.5h0M218.1,1280.4h0M219.2,1240.9h0M219.7,1257.6h0M220.0,1268.7h0M220.9,1247.6h0M221.3,1266.6h0M222.4,1266.8h0M222.6,1281.2h0M223.5,1260.0h0M224.0,1275.3h0M224.7,1273.4h0M225.3,1257.1h0M225.5,1259.5h0M226.5,1280.0h0M227.9,1262.9h0M228.4,1281.0h0M228.6,1250.5h0M229.4,1276.0h0M230.3,1270.2h0M230.6,1265.0h0M230.9,1265.3h0M232.6,1251.9h0M233.4,1282.3h0M233.8,1274.0h0M234.7,1285.3h0M236.8,1276.5h0M238.0,1285.5h0M238.2,1252.3h0M240.0,1286.7h0M241.1,1269.8h0M241.3,1273.2h0M241.9,1265.8h0M243.1,1258.2h0M243.3,1264.0h0M244.2,1266.8h0M244.8,1260.5h0M245.2,1265.8h0M245.9,1290.4h0M246.5,1280.4h0M247.1,1273.8h0M247.5,1257.5h0M248.0,1250.6h0M249.6,1259.0h0M250.5,1275.4h0M250.8,1323.5h0M251.7,1268.5h0M252.1,1282.7h0M253.3,1248.3h0M253.7,1268.7h0M254.4,1295.4h0M255.0,1292.4h0M255.3,1295.7h0M255.8,1295.7h0M257.0,1253.1h0M257.4,1278.9h0M258.8,1251.9h0M260.1,1287.2h0M260.4,1266.2h0M260.8,1254.9h0M261.3,1298.3h0M262.1,1270.3h0M263.3,1287.1h0M263.9,1287.0h0M264.5,1292.1h0M264.7,1274.3h0M265.7,1280.4h0M266.1,1267.7h0M266.5,1281.0h0M266.8,1261.8h0M267.5,1287.4h0M269.0,1251.9h0M269.5,1249.1h0M269.7,1283.8h0M271.3,1253.5h0M271.9,1296.6h0M273.0,1292.4h0M273.3,1266.3h0M274.7,1281.2h0M275.4,1281.4h0M276.0,1278.7h0M276.3,1271.7h0M276.9,1268.2h0M277.9,1272.5h0M278.5,1265.4h0M279.2,1285.0h0M279.6,1277.0h0M280.0,1256.6h0M280.4,1287.8h0M281.2,1272.3h0M282.5,1298.9h0M282.8,1298.3h0M285.2,1277.3h0M285.9,1273.6h0M286.7,1287.0h0M286.8,1269.9h0M287.3,1287.0h0M288.5,1275.9h0M288.9,1263.8h0M289.7,1274.5h0M290.1,1288.9h0M290.5,1286.0h0M291.0,1285.0h0M291.9,1289.6h0M293.0,1293.4h0M293.6,1293.3h0M294.2,1291.1h0M294.9,1267.4h0M295.0,1278.0h0M295.8,1276.3h0M296.3,1283.1h0M297.0,1265.0h0M297.8,1273.4h0M298.8,1272.5h0M301.2,1242.2h0M303.3,1238.6h0M304.4,1244.5h0M304.8,1254.7h0M305.7,1219.3h0M306.3,1243.2h0M307.1,1232.5h0M307.7,1231.3h0M308.4,1252.2h0M309.0,1231.7h0M309.9,1260.1h0M310.0,1238.5h0M312.8,1233.5h0M313.3,1243.8h0M313.6,1191.8h0M314.0,1237.5h0M314.2,1227.4h0M315.6,1250.9h0M315.7,1223.4h0M316.6,1249.8h0M317.3,1220.0h0M318.7,1232.2h0M320.4,1224.6h0M323.1,1232.2h0M325.1,1234.6h0M325.9,1225.0h0M326.5,1206.7h0M327.6,1230.0h0M328.0,1214.4h0M328.4,1229.4h0M330.5,1228.3h0M332.8,1220.9h0M333.6,1223.9h0M335.3,1214.8h0M336.5,1205.6h0M337.2,1215.3h0M337.5,1211.6h0M338.2,1228.1h0M340.1,1196.9h0M340.7,1228.8h0M341.1,1211.5h0M341.4,1199.5h0M342.1,1206.3h0M344.2,1220.0h0M345.2,1202.7h0M346.5,1193.9h0M347.0,1219.5h0M348.3,1211.9h0M349.6,1199.2h0M350.1,1210.5h0M351.6,1190.0h0M352.2,1207.1h0M352.6,1208.1h0M354.6,1192.8h0M355.0,1209.1h0M355.9,1202.2h0M357.0,1257.9h0M358.0,1194.3h0M358.7,1189.4h0M360.5,1196.9h0M364.6,1194.6h0M365.1,1213.6h0M365.7,1223.2h0M365.8,1216.8h0M367.0,1209.2h0M367.5,1214.4h0M367.9,1221.1h0M368.6,1225.5h0M369.0,1189.5h0M360.4,1201.7h0M361.9,1186.2h0M362.0,1178.4h0M363.0,1212.0h0M363.7,1193.7h0M364.0,1203.4h0M364.6,1174.1h0M366.4,1198.3h0M367.5,1184.6h0M368.4,1178.8h0M369.9,1200.8h0M370.1,1186.7h0M371.3,1203.1h0M373.9,1167.0h0M374.6,1165.8h0M375.2,1168.2h0M375.4,1193.3h0M376.2,1153.0h0M376.7,1184.7h0M377.1,1180.4h0M377.8,1198.2h0M378.1,1190.7h0M378.6,1162.8h0M379.2,1187.8h0M380.1,1162.1h0M380.9,1176.9h0M381.6,1163.0h0M382.6,1172.4h0M382.9,1162.3h0M383.4,1160.5h0M383.9,1168.0h0M384.7,1185.2h0M385.3,1187.5h0M386.4,1194.8h0M387.0,1208.0h0M387.4,1164.3h0M389.3,1182.3h0M390.2,1159.4h0M391.1,1153.3h0M391.5,1213.2h0M392.1,1183.3h0M393.0,1163.5h0M393.8,1173.7h0M394.4,1180.2h0M395.4,1157.2h0M396.7,1187.4h0M397.1,1160.4h0M397.4,1171.3h0M398.2,1168.4h0M400.7,1164.0h0M401.3,1185.3h0M401.7,1163.4h0M402.5,1170.7h0M402.9,1182.5h0M404.3,1179.9h0M405.1,1184.7h0M406.7,1186.2h0M407.3,1171.0h0M407.6,1159.8h0M408.2,1186.1h0M409.8,1175.4h0M410.5,1188.3h0M410.6,1170.1h0M412.0,1157.4h0M412.5,1162.7h0M413.6,1167.3h0M414.4,1189.9h0M415.9,1193.9h0M416.3,1163.9h0M416.6,1185.3h0M418.2,1192.4h0M419.5,1166.3h0M419.8,1156.0h0M420.2,1197.1h0M421.2,1194.3h0M421.7,1176.9h0M422.1,1183.3h0M423.6,1187.5h0M424.0,1183.0h0M424.5,1182.2h0M425.0,1166.1h0M425.4,1203.3h0M427.1,1185.4h0M427.5,1181.0h0M428.1,1195.5h0M431.2,1199.4h0M432.1,1206.4h0M433.1,1188.9h0M434.1,1205.1h0M434.8,1178.9h0M435.7,1183.4h0M436.3,1187.9h0M437.0,1197.9h0M437.3,1206.4h0M437.8,1163.6h0M438.4,1178.4h0M439.7,1179.2h0M440.6,1210.4h0M440.8,1206.2h0M441.4,1207.6h0M442.0,1206.7h0M442.3,1211.0h0M444.2,1201.8h0M444.5,1167.6h0M445.4,1208.0h0M446.0,1195.7h0M446.5,1207.8h0M447.4,1194.1h0M448.1,1213.7h0M449.4,1198.0h0M449.8,1174.3h0M450.0,1196.9h0M451.8,1197.5h0M452.2,1222.6h0M454.4,1199.2h0M455.3,1204.3h0M456.0,1204.4h0M457.1,1209.0h0M458.9,1212.9h0M459.7,1227.5h0M460.4,1232.2h0M460.5,1232.2h0M461.4,1210.4h0M461.6,1229.2h0M463.4,1221.7h0M464.0,1226.3h0M465.4,1234.4h0M465.9,1221.8h0M466.3,1221.9h0M468.8,1238.2h0M469.4,1239.1h0M470.6,1243.1h0M473.1,1232.6h0M477.6,1236.8h0M478.9,1266.1h0M479.9,1241.6h0M480.4,1255.8h0M482.0,1243.4h0M482.3,1251.6h0M482.8,1246.3h0M483.4,1251.5h0M484.0,1246.6h0M484.6,1263.0h0M484.9,1256.2h0M485.8,1264.1h0M487.7,1247.6h0M488.5,1260.0h0M488.7,1253.3h0M490.8,1251.1h0M492.5,1255.6h0M493.1,1249.8h0M494.0,1246.5h0M494.6,1245.1h0M494.6,1255.5h0M495.4,1252.9h0M496.6,1243.5h0M497.5,1264.6h0M498.0,1243.0h0M498.3,1256.4h0M500.5,1265.3h0M501.6,1271.7h0M502.1,1263.7h0M502.9,1245.9h0M503.4,1260.8h0M504.1,1268.1h0M505.3,1254.1h0M506.3,1266.7h0M508.0,1253.9h0M508.1,1251.1h0M508.4,1248.1h0M509.1,1269.5h0M509.6,1275.9h0M510.9,1276.2h0M512.6,1278.8h0M513.5,1246.7h0M514.5,1270.8h0M515.6,1274.3h0M515.8,1272.3h0M519.3,1267.4h0M519.9,1266.9h0M521.8,1274.5h0M522.5,1274.1h0M522.8,1256.0h0M523.6,1277.0h0M524.4,1248.9h0M525.8,1281.2h0M526.9,1223.8h0M527.5,1268.7h0M527.8,1247.5h0M529.3,1255.2h0M530.5,1266.8h0M531.6,1255.3h0M532.0,1270.2h0M532.9,1316.1h0M533.0,1284.0h0M534.9,1282.6h0M535.0,1264.4h0M535.7,1287.1h0M536.0,1259.6h0M537.2,1280.1h0M538.0,1263.1h0M538.5,1259.0h0M539.4,1290.2h0M539.5,1278.6h0M540.0,1266.3h0M540.9,1267.8h0M541.4,1285.2h0M542.6,1295.2h0M543.6,1265.6h0M544.3,1292.3h0M544.8,1285.1h0M545.2,1257.5h0M545.7,1270.0h0M545.9,1281.6h0M547.1,1285.5h0M548.9,1299.2h0M550.1,1258.9h0M551.2,1259.1h0M551.6,1285.8h0M552.3,1267.0h0M552.5,1278.1h0M554.6,1283.2h0M555.6,1272.8h0M556.0,1269.4h0M557.8,1302.2h0M557.9,1289.2h0M558.4,1297.9h0M559.5,1291.9h0M560.7,1288.3h0M564.3,1304.9h0M565.7,1262.0h0M566.5,1301.2h0M567.0,1276.6h0M569.4,1271.9h0M570.8,1279.5h0M571.7,1272.2h0M572.4,1298.6h0M574.1,1277.0h0M574.2,1279.8h0M575.2,1268.9h0M575.9,1280.0h0M578.3,1262.1h0M578.9,1262.1h0M580.5,1277.6h0M580.8,1266.2h0M583.9,1272.9h0M584.5,1270.4h0M587.2,1271.8h0M588.3,1268.0h0M589.1,1265.1h0M590.3,1282.2h0M591.8,1265.5h0M591.8,1260.9h0M592.6,1274.2h0M593.1,1265.0h0M593.4,1275.3h0M593.9,1274.8h0M595.3,1260.9h0M599.3,1273.8h0M601.5,1260.9h0M602.0,1272.8h0M602.4,1265.8h0M604.6,1264.0h0M604.9,1277.1h0M606.7,1264.6h0M609.0,1277.7h0M602.4,1274.8h0M603.4,1260.5h0M603.5,1264.1h0M605.1,1271.0h0M609.7,1261.8h0M614.9,1260.3h0M616.2,1267.9h0M617.4,1267.2h0M618.4,1267.0h0M619.1,1270.8h0M620.2,1259.6h0M622.6,1261.3h0M624.0,1269.4h0M624.2,1273.7h0M625.9,1300.1h0M626.3,1365.8h0M626.6,1340.6h0M628.7,1305.5h0M629.2,1342.4h0M629.5,1346.4h0M630.1,1309.2h0M630.7,1311.2h0M631.7,1339.7h0M632.8,1366.5h0M633.2,1364.0h0M634.4,1360.7h0M636.4,1295.2h0M636.5,1331.4h0M637.6,1300.3h0M638.2,1346.4h0M639.4,1292.9h0M639.5,1298.3h0M640.1,1326.6h0M640.9,1345.3h0M642.0,1310.3h0M642.5,1297.4h0M644.3,1354.8h0M644.5,1322.5h0M645.9,1326.1h0M646.9,1351.6h0M648.3,1325.5h0M649.0,1295.0h0M650.2,1322.1h0M650.8,1323.9h0M651.1,1345.3h0M651.9,1283.8h0M652.4,1364.3h0M652.5,1344.6h0M653.1,1341.9h0M656.9,1363.7h0M657.0,1307.5h0M658.0,1231.8h0M659.9,1226.1h0M660.5,1243.1h0M660.6,1228.5h0M662.4,1222.8h0M663.7,1228.7h0M664.4,1234.6h0M665.6,1220.6h0M666.5,1228.3h0M668.5,1230.8h0M669.0,1219.6h0M670.7,1220.1h0M671.8,1223.1h0M672.8,1222.7h0M673.8,1219.7h0M674.9,1222.5h0M675.3,1217.4h0M675.8,1224.1h0M676.4,1228.1h0M680.4,1220.7h0M680.7,1225.9h0M681.4,1214.1h0M682.6,1211.8h0M682.7,1223.3h0M683.2,1221.6h0M684.6,1206.8h0M685.1,1210.7h0M687.4,1222.9h0M687.8,1211.1h0M689.2,1206.8h0M691.9,1225.9h0M694.0,1221.2h0M827.2,1332.2h0M827.6,1335.9h0M829.0,1335.1h0M829.3,1329.3h0M829.9,1325.1h0M830.4,1338.6h0M830.7,1319.9h0M831.1,1326.0h0M831.8,1333.9h0M832.9,1322.7h0M833.0,1325.4h0M836.3,1318.9h0M836.6,1331.1h0M837.4,1315.3h0M837.6,1324.3h0M838.2,1313.9h0M839.0,1324.1h0M839.2,1317.2h0M839.9,1324.4h0M840.7,1325.5h0M841.6,1307.3h0M842.3,1337.6h0M842.6,1314.0h0M843.4,1308.8h0M843.9,1319.2h0M844.3,1310.1h0M845.2,1301.7h0M846.0,1310.3h0M846.6,1300.8h0M847.3,1310.1h0M847.8,1316.0h0M848.7,1320.3h0M849.4,1299.6h0M850.3,1308.4h0M851.1,1302.3h0M851.8,1315.3h0M852.5,1300.7h0M852.7,1311.5h0M853.1,1315.3h0M854.5,1307.1h0M855.1,1309.5h0M855.6,1308.4h0M857.3,1315.5h0M858.0,1314.7h0M859.4,1311.3h0M859.7,1316.4h0M860.9,1322.2h0M861.0,1319.6h0M862.7,1310.6h0M863.2,1307.9h0M863.7,1329.6h0M864.4,1326.5h0M864.7,1333.3h0M865.0,1327.4h0M865.7,1331.1h0M866.4,1311.1h0M867.2,1325.5h0M867.5,1327.2h0M868.4,1340.1h0M868.6,1341.2h0M870.4,1343.6h0M871.0,1355.0h0M871.4,1346.4h0M871.8,1357.5h0M872.5,1359.2h0M872.8,1355.1h0M873.3,1350.2h0M874.0,1347.5h0M874.2,1356.0h0M874.6,1361.1h0M876.0,1359.0h0M877.1,1348.8h0M877.5,1356.0h0M878.4,1349.6h0M879.9,1350.3h0M880.7,1363.4h0M881.7,1350.9h0M882.3,1351.5h0M883.2,1361.2h0M883.8,1347.9h0M884.9,1353.7h0M885.4,1353.4h0M885.7,1355.4h0M887.3,1340.6h0M887.6,1346.3h0M888.3,1348.9h0M888.9,1339.2h0M889.4,1341.5h0M889.8,1350.2h0M890.0,1339.9h0M891.3,1341.7h0M892.3,1350.9h0M892.7,1348.8h0M893.2,1348.9h0M893.6,1342.0h0M894.1,1329.6h0M895.0,1332.3h0M895.3,1331.9h0M896.0,1337.0h0M896.7,1333.1h0M897.6,1331.3h0M898.7,1336.6h0M900.7,1332.9h0M901.6,1331.1h0M903.0,1327.0h0M903.6,1323.6h0M904.3,1329.2h0M904.9,1322.4h0M905.2,1325.4h0M906.4,1322.1h0M906.6,1325.0h0M908.4,1322.3h0M908.6,1313.7h0M909.9,1317.8h0M911.0,1316.9h0M912.4,1318.7h0M912.9,1319.4h0M913.1,1319.2h0M914.0,1306.8h0M914.6,1318.9h0M915.1,1307.7h0M915.6,1307.3h0M916.2,1307.3h0M917.3,1318.0h0M918.6,1312.3h0M919.2,1314.8h0M919.6,1314.0h0M920.5,1311.4h0M920.8,1305.4h0M921.1,1311.6h0M921.6,1298.8h0M922.6,1281.4h0M923.2,1315.6h0M923.6,1314.3h0M924.7,1316.4h0M925.3,1316.9h0M925.9,1312.4h0M927.5,1317.4h0M928.8,1296.7h0M929.4,1313.6h0M930.1,1306.8h0M931.0,1316.9h0M931.9,1308.6h0M933.0,1311.0h0M933.2,1306.0h0M934.2,1301.6h0M934.6,1303.6h0M935.8,1298.2h0M937.0,1319.2h0M937.0,1317.9h0M937.8,1305.9h0M938.4,1311.6h0M938.7,1318.8h0M939.4,1319.4h0M939.6,1310.6h0M941.3,1296.3h0M942.4,1304.5h0M942.9,1293.5h0M943.2,1322.1h0M943.5,1297.2h0M944.1,1313.7h0M945.0,1302.7h0M945.5,1307.0h0M945.6,1309.8h0M946.4,1307.8h0M947.0,1275.2h0M947.6,1294.4h0M948.2,1301.8h0M949.8,1294.1h0M950.4,1323.9h0M951.5,1313.1h0M951.7,1312.9h0M952.2,1317.6h0M952.8,1286.1h0M953.3,1305.5h0M953.8,1323.8h0M954.1,1309.6h0M954.6,1319.5h0M955.1,1311.7h0M955.7,1304.5h0M956.4,1321.6h0M956.8,1307.0h0M957.2,1301.7h0M957.5,1299.3h0M958.2,1307.9h0M958.6,1300.7h0M960.3,1304.6h0M961.9,1323.5h0M962.2,1325.1h0M962.6,1311.0h0M963.5,1302.5h0M963.7,1289.8h0M964.9,1291.5h0M965.1,1311.1h0M965.6,1301.6h0M966.5,1306.3h0M966.8,1295.1h0M967.2,1311.8h0M967.6,1311.9h0M968.3,1295.0h0M969.2,1326.3h0M969.9,1299.1h0M970.1,1284.8h0M971.2,1295.6h0M971.6,1317.6h0M973.2,1308.2h0M973.5,1327.1h0M975.0,1314.4h0M975.1,1298.6h0M975.6,1316.2h0M976.9,1330.3h0M977.2,1292.9h0M977.8,1306.3h0M978.3,1308.3h0M978.8,1303.4h0M979.9,1297.9h0M980.0,1310.6h0M981.4,1325.9h0M981.8,1328.5h0M982.4,1318.5h0M982.5,1309.8h0M983.9,1328.6h0M984.4,1323.9h0M984.7,1335.0h0M985.0,1299.3h0M985.7,1332.8h0M159.8,1198.8h0M165.9,1222.3h0M130.1,1317.4h0M165.9,1305.0h0M168.4,1325.3h0M188.9,1429.3h0M364.8,1283.5h0M342.6,1260.1h0M372.4,1268.0h0M364.9,1284.0h0M431.6,1289.0h0M488.5,1289.0h0M493.4,1388.5h0M574.4,1401.9h0M574.9,1334.7h0M551.5,1340.9h0M520.6,1314.9h0M555.2,1327.3h0M709.2,1190.2h0M735.1,1217.3h0M760.6,1217.3h0M650.6,1397.7h0M813.9,1292.5h0M992.2,1264.9h0M994.2,1277.2h0M991.0,1268.6h0" stroke="#000" stroke-width="2.8" stroke-linecap="round" fill="none"/>
<path d="M194.8,1175.3h0M129.4,1222.0h0M148.6,1230.2h0M123.4,1240.8h0M142.5,1254.4h0M155.6,1255.6h0M161.5,1252.7h0M168.4,1246.5h0M135.8,1267.0h0M174.6,1266.7h0M182.0,1277.9h0M188.7,1284.0h0M201.3,1274.7h0M207.9,1300.6h0M214.1,1293.9h0M220.3,1284.5h0M227.0,1312.0h0M233.4,1289.7h0M240.0,1302.1h0M246.7,1297.1h0M253.1,1302.1h0M259.3,1308.3h0M266.0,1298.4h0M272.7,1287.0h0M279.6,1319.9h0M286.0,1313.2h0M292.4,1282.8h0M298.6,1330.5h0M305.3,1289.7h0M311.9,1294.4h0M318.4,1261.1h0M324.8,1268.7h0M331.0,1228.5h0M337.6,1310.0h0M344.0,1272.9h0M350.7,1377.9h0M357.4,1381.6h0M363.8,1332.2h0M360.0,1381.6h0M364.2,1332.2h0M370.6,1337.9h0M376.8,1352.0h0M383.5,1292.2h0M389.9,1263.8h0M396.6,1255.6h0M403.0,1281.6h0M409.4,1257.1h0M416.1,1187.0h0M422.5,1173.4h0M429.2,1170.9h0M435.6,1184.7h0M442.3,1184.2h0M448.7,1205.5h0M455.1,1228.0h0M461.5,1238.8h0M468.0,1247.5h0M474.6,1219.8h0M481.0,1230.2h0M487.5,1270.0h0M493.9,1313.7h0M500.3,1328.0h0M507.0,1299.6h0M513.4,1276.1h0M520.1,1369.3h0M526.5,1372.2h0M533.2,1357.7h0M539.6,1372.5h0M546.0,1327.8h0M552.7,1377.9h0M559.1,1374.7h0M565.5,1368.3h0M572.0,1377.9h0M578.6,1373.5h0M585.0,1365.6h0M591.7,1372.2h0M598.1,1359.4h0M604.6,1371.7h0M604.4,1371.7h0M610.9,1377.9h0M617.5,1376.2h0M624.0,1387.8h0M630.6,1349.0h0M637.1,1346.3h0M643.7,1414.5h0M650.4,1395.2h0M656.8,1374.7h0M663.2,1350.0h0M669.7,1363.1h0M676.3,1362.4h0M682.8,1367.3h0M689.2,1397.7h0M695.8,1296.9h0M702.0,1337.6h0M708.4,1354.9h0M715.1,1381.6h0M721.5,1370.0h0M728.2,1359.4h0M734.6,1342.6h0M741.1,1333.0h0M747.7,1338.4h0M754.2,1343.3h0M773.6,1190.0h0M761.2,1329.8h0M767.4,1341.5h0M780.3,1313.0h0M786.7,1353.8h0M793.3,1339.2h0M799.5,1349.6h0M806.2,1350.1h0M812.6,1362.9h0M819.3,1353.3h0M825.7,1360.7h0M832.1,1334.3h0M838.8,1354.5h0M845.2,1360.5h0M851.9,1362.5h0M858.3,1376.8h0M864.7,1366.7h0M871.2,1376.8h0M877.8,1367.4h0M884.3,1404.9h0M890.9,1408.9h0M897.4,1408.2h0M903.8,1355.5h0M910.0,1335.5h0M916.9,1351.1h0M923.0,1322.9h0M929.7,1344.2h0M936.1,1332.3h0M942.8,1330.3h0M949.5,1336.5h0M955.9,1355.8h0M962.6,1355.0h0M969.0,1369.9h0M975.4,1358.7h0M981.8,1365.7h0M988.5,1363.7h0M994.9,1357.0h0" stroke="#0000ff" stroke-width="5.6" stroke-linecap="round" fill="none"/>
<circle cx="166.7" cy="1153.1" r="6.3" fill="none" stroke="#00c000" stroke-width="2.9"/><circle cx="166.7" cy="1157.6" r="6.3" fill="none" stroke="#00c000" stroke-width="2.9"/><circle cx="166.7" cy="1162.3" r="6.3" fill="none" stroke="#00c000" stroke-width="2.9"/><circle cx="144.0" cy="1230.9" r="6.3" fill="none" stroke="#00c000" stroke-width="2.9"/><circle cx="144.0" cy="1234.6" r="6.3" fill="none" stroke="#00c000" stroke-width="2.9"/><circle cx="144.0" cy="1238.8" r="6.3" fill="none" stroke="#00c000" stroke-width="2.9"/><circle cx="196.3" cy="1222.3" r="6.3" fill="none" stroke="#00c000" stroke-width="2.9"/><circle cx="196.3" cy="1239.1" r="6.3" fill="none" stroke="#00c000" stroke-width="2.9"/><circle cx="196.3" cy="1250.7" r="6.3" fill="none" stroke="#00c000" stroke-width="2.9"/><circle cx="237.1" cy="1249.5" r="6.3" fill="none" stroke="#00c000" stroke-width="2.9"/><circle cx="237.1" cy="1254.4" r="6.3" fill="none" stroke="#00c000" stroke-width="2.9"/><circle cx="237.1" cy="1258.1" r="6.3" fill="none" stroke="#00c000" stroke-width="2.9"/><circle cx="272.7" cy="1287.0" r="6.3" fill="none" stroke="#00c000" stroke-width="2.9"/><circle cx="305.0" cy="1270.5" r="6.3" fill="none" stroke="#00c000" stroke-width="2.9"/><circle cx="305.0" cy="1275.4" r="6.3" fill="none" stroke="#00c000" stroke-width="2.9"/><circle cx="305.0" cy="1279.1" r="6.3" fill="none" stroke="#00c000" stroke-width="2.9"/><circle cx="332.9" cy="1230.9" r="6.3" fill="none" stroke="#00c000" stroke-width="2.9"/><circle cx="332.9" cy="1234.6" r="6.3" fill="none" stroke="#00c000" stroke-width="2.9"/><circle cx="397.1" cy="1178.6" r="6.3" fill="none" stroke="#00c000" stroke-width="2.9"/><circle cx="397.1" cy="1183.3" r="6.3" fill="none" stroke="#00c000" stroke-width="2.9"/><circle cx="397.1" cy="1187.0" r="6.3" fill="none" stroke="#00c000" stroke-width="2.9"/><circle cx="413.9" cy="1144.5" r="6.3" fill="none" stroke="#00c000" stroke-width="2.9"/><circle cx="413.9" cy="1150.6" r="6.3" fill="none" stroke="#00c000" stroke-width="2.9"/><circle cx="413.9" cy="1164.7" r="6.3" fill="none" stroke="#00c000" stroke-width="2.9"/><circle cx="437.1" cy="1128.4" r="6.3" fill="none" stroke="#00c000" stroke-width="2.9"/><circle cx="437.1" cy="1134.6" r="6.3" fill="none" stroke="#00c000" stroke-width="2.9"/><circle cx="437.1" cy="1158.1" r="6.3" fill="none" stroke="#00c000" stroke-width="2.9"/><circle cx="472.4" cy="1228.5" r="6.3" fill="none" stroke="#00c000" stroke-width="2.9"/><circle cx="472.4" cy="1233.4" r="6.3" fill="none" stroke="#00c000" stroke-width="2.9"/><circle cx="502.8" cy="1195.1" r="6.3" fill="none" stroke="#00c000" stroke-width="2.9"/><circle cx="502.8" cy="1206.7" r="6.3" fill="none" stroke="#00c000" stroke-width="2.9"/><circle cx="502.8" cy="1214.1" r="6.3" fill="none" stroke="#00c000" stroke-width="2.9"/><circle cx="638.5" cy="1384.1" r="6.3" fill="none" stroke="#00c000" stroke-width="2.9"/><circle cx="638.5" cy="1389.0" r="6.3" fill="none" stroke="#00c000" stroke-width="2.9"/><circle cx="638.5" cy="1394.5" r="6.3" fill="none" stroke="#00c000" stroke-width="2.9"/><circle cx="760.6" cy="1201.3" r="6.3" fill="none" stroke="#00c000" stroke-width="2.9"/><circle cx="760.6" cy="1235.1" r="6.3" fill="none" stroke="#00c000" stroke-width="2.9"/><circle cx="814.2" cy="1244.0" r="6.3" fill="none" stroke="#00c000" stroke-width="2.9"/><circle cx="814.2" cy="1369.3" r="6.3" fill="none" stroke="#00c000" stroke-width="2.9"/><circle cx="814.2" cy="1379.2" r="6.3" fill="none" stroke="#00c000" stroke-width="2.9"/>
<path d="M142.8,1829.3h0M142.8,1831.8h0M143.3,1826.3h0M143.0,1829.7h0M143.8,1826.5h0M144.0,1824.7h0M144.4,1822.4h0M144.2,1818.9h0M144.8,1823.3h0M144.6,1809.3h0M145.0,1822.6h0M145.3,1816.7h0M145.8,1828.2h0M145.6,1812.1h0M146.2,1821.6h0M146.5,1806.2h0M146.6,1805.3h0M147.2,1823.3h0M147.7,1811.8h0M147.9,1814.6h0M148.4,1813.9h0M148.3,1805.0h0M148.7,1800.0h0M148.7,1821.4h0M149.0,1807.4h0M149.6,1807.8h0M149.2,1794.4h0M150.0,1797.1h0M150.5,1798.9h0M150.5,1802.5h0M150.7,1807.3h0M151.0,1790.8h0M151.2,1798.2h0M151.3,1798.2h0M152.1,1792.9h0M152.4,1797.2h0M152.8,1788.6h0M153.1,1787.1h0M153.2,1788.7h0M153.3,1780.1h0M153.8,1797.6h0M153.6,1790.3h0M154.5,1798.8h0M154.4,1804.0h0M155.0,1799.0h0M155.2,1812.9h0M155.4,1801.9h0M156.1,1789.6h0M156.2,1788.9h0M156.3,1777.9h0M157.0,1801.4h0M157.3,1798.8h0M157.5,1790.0h0M158.0,1786.2h0M157.7,1786.9h0M158.3,1773.6h0M158.1,1786.9h0M158.7,1786.8h0M159.3,1790.4h0M159.4,1785.8h0M159.6,1783.1h0M159.6,1796.7h0M160.2,1792.9h0M160.2,1789.7h0M160.6,1781.9h0M160.7,1781.2h0M161.3,1781.9h0M161.1,1787.5h0M161.7,1775.5h0M161.8,1752.9h0M162.4,1797.1h0M162.3,1770.9h0M162.8,1783.6h0M163.0,1772.4h0M163.2,1795.2h0M163.9,1780.8h0M163.6,1773.0h0M164.2,1797.6h0M164.4,1788.0h0M164.6,1795.6h0M164.8,1776.3h0M165.4,1783.5h0M165.4,1797.6h0M165.7,1795.5h0M165.7,1787.4h0M166.3,1779.4h0M166.7,1776.7h0M166.8,1777.1h0M167.5,1778.7h0M167.6,1793.9h0M168.4,1788.6h0M168.4,1785.8h0M168.9,1783.1h0M168.6,1770.7h0M169.1,1770.0h0M169.3,1773.2h0M169.8,1775.6h0M169.9,1784.1h0M170.4,1789.3h0M170.0,1788.0h0M170.6,1772.0h0M170.9,1778.2h0M171.4,1759.5h0M171.2,1773.2h0M171.8,1790.8h0M172.1,1769.1h0M172.4,1784.0h0M172.6,1818.2h0M172.7,1769.7h0M173.5,1758.7h0M173.4,1778.9h0M173.6,1769.6h0M173.7,1789.3h0M174.2,1788.7h0M175.0,1792.9h0M174.7,1780.7h0M175.3,1768.2h0M175.2,1790.3h0M176.0,1774.4h0M175.8,1783.3h0M176.3,1783.4h0M176.0,1780.1h0M176.5,1785.5h0M176.6,1789.2h0M176.9,1782.0h0M177.6,1789.1h0M177.7,1789.8h0M178.0,1788.6h0M178.0,1766.9h0M178.4,1783.0h0M178.9,1777.5h0M178.9,1779.1h0M179.5,1791.7h0M180.3,1774.9h0M180.0,1787.6h0M180.7,1788.8h0M180.4,1786.4h0M181.2,1777.0h0M181.0,1786.5h0M181.7,1774.5h0M181.8,1770.9h0M182.1,1791.9h0M182.3,1772.4h0M182.4,1786.0h0M182.8,1781.5h0M183.2,1806.6h0M183.0,1789.6h0M183.5,1774.2h0M184.2,1772.7h0M184.0,1794.2h0M184.5,1779.8h0M184.5,1788.7h0M185.2,1776.7h0M185.1,1777.7h0M185.4,1766.7h0M185.9,1785.9h0M185.9,1780.3h0M186.5,1782.9h0M186.5,1789.3h0M187.0,1780.1h0M187.8,1785.9h0M187.6,1771.9h0M187.9,1791.1h0M188.1,1779.2h0M188.7,1783.5h0M188.3,1781.6h0M189.1,1810.6h0M188.9,1769.4h0M189.7,1780.9h0M189.7,1789.4h0M189.9,1790.1h0M190.4,1766.1h0M190.3,1772.1h0M191.0,1784.8h0M191.0,1767.9h0M191.8,1781.5h0M192.1,1784.8h0M192.5,1779.3h0M192.8,1783.9h0M193.2,1761.6h0M193.2,1785.3h0M193.2,1783.3h0M193.2,1779.7h0M193.9,1775.8h0M193.8,1786.3h0M194.3,1771.8h0M194.3,1760.5h0M194.8,1773.2h0M195.0,1764.3h0M195.1,1766.2h0M195.3,1779.5h0M196.1,1757.8h0M196.0,1761.5h0M196.6,1775.0h0M196.4,1760.9h0M197.0,1766.4h0M197.0,1774.9h0M196.6,1773.4h0M197.4,1769.8h0M197.2,1757.0h0M198.1,1751.5h0M197.6,1767.9h0M198.6,1748.7h0M198.4,1759.1h0M198.8,1780.6h0M199.1,1757.7h0M199.3,1766.4h0M199.3,1738.2h0M199.2,1750.0h0M199.8,1771.7h0M199.7,1773.4h0M200.6,1778.7h0M200.3,1771.1h0M200.5,1764.8h0M200.7,1778.7h0M200.7,1762.6h0M201.2,1779.5h0M201.2,1754.1h0M201.1,1766.0h0M201.9,1768.3h0M201.9,1772.8h0M201.9,1770.2h0M202.3,1742.9h0M202.1,1757.6h0M202.3,1770.3h0M202.6,1757.0h0M202.9,1761.3h0M202.7,1750.1h0M202.6,1744.3h0M203.3,1760.9h0M203.3,1741.5h0M203.4,1752.2h0M203.5,1731.6h0M203.6,1731.3h0M203.7,1742.9h0M203.5,1743.1h0M203.8,1760.6h0M204.4,1707.2h0M204.3,1734.3h0M204.3,1754.2h0M204.2,1736.9h0M205.0,1734.4h0M204.9,1755.0h0M204.8,1737.0h0M204.7,1736.3h0M205.1,1754.9h0M205.1,1723.6h0M205.1,1747.1h0M205.3,1753.3h0M205.8,1724.4h0M205.7,1736.3h0M205.8,1733.0h0M205.8,1745.3h0M205.6,1739.5h0M206.3,1743.3h0M206.4,1727.9h0M206.3,1743.7h0M206.1,1728.8h0M206.6,1737.3h0M206.5,1732.9h0M206.9,1735.4h0M206.8,1711.3h0M207.1,1723.9h0M207.3,1725.3h0M207.3,1743.7h0M207.3,1732.2h0M207.8,1747.2h0M207.5,1735.8h0M207.7,1728.0h0M207.6,1733.6h0M208.2,1745.6h0M208.3,1724.8h0M208.2,1744.8h0M208.1,1735.3h0M208.9,1741.5h0M208.7,1736.8h0M208.8,1739.7h0M208.6,1743.9h0M209.3,1730.8h0M209.2,1748.5h0M209.4,1701.8h0M209.4,1721.8h0M209.8,1730.2h0M209.9,1750.4h0M209.8,1732.7h0M209.7,1733.5h0M210.3,1747.5h0M210.3,1737.0h0M210.2,1729.8h0M210.5,1739.0h0M210.4,1743.9h0M210.6,1732.0h0M210.5,1736.3h0M210.9,1743.5h0M210.5,1728.5h0M211.2,1729.3h0M211.1,1723.3h0M211.2,1729.9h0M211.4,1728.9h0M211.9,1730.1h0M211.8,1731.9h0M211.6,1729.5h0M211.5,1741.3h0M211.5,1728.3h0M212.4,1724.9h0M212.5,1744.4h0M212.3,1727.9h0M212.4,1747.8h0M212.6,1728.7h0M212.6,1750.4h0M212.6,1750.4h0M212.7,1739.3h0M213.1,1744.2h0M213.2,1722.2h0M213.3,1724.7h0M213.3,1737.0h0M213.5,1724.0h0M213.9,1738.6h0M213.7,1724.3h0M213.9,1741.6h0M214.1,1727.3h0M214.4,1733.1h0M214.1,1724.5h0M214.3,1734.9h0M214.5,1730.2h0M214.8,1735.1h0M214.7,1733.2h0M214.9,1724.2h0M215.0,1721.8h0M215.3,1739.3h0M215.3,1718.9h0M215.3,1759.2h0M215.8,1725.0h0M215.7,1745.1h0M215.7,1727.4h0M215.7,1740.3h0M216.3,1735.1h0M216.1,1724.9h0M216.3,1722.3h0M216.4,1721.6h0M216.8,1728.3h0M216.8,1747.1h0M216.7,1721.3h0M216.9,1749.4h0M217.4,1733.2h0M217.4,1733.9h0M217.4,1737.4h0M217.3,1737.2h0M217.8,1737.8h0M217.5,1726.9h0M217.5,1733.4h0M217.9,1745.6h0M218.4,1744.6h0M218.3,1726.9h0M218.4,1728.8h0M218.0,1734.8h0M218.8,1736.0h0M218.8,1729.0h0M218.7,1726.8h0M218.9,1723.8h0M219.1,1726.2h0M219.4,1745.6h0M219.3,1706.5h0M219.2,1746.4h0M219.5,1749.9h0M219.6,1742.1h0M219.5,1732.0h0M219.6,1741.3h0M220.2,1721.8h0M220.4,1743.6h0M220.0,1733.3h0M220.2,1736.5h0M220.7,1741.9h0M220.9,1730.9h0M220.7,1733.1h0M220.5,1721.3h0M221.1,1726.6h0M221.3,1735.4h0M221.2,1735.6h0M221.3,1727.0h0M221.5,1723.4h0M221.8,1742.1h0M221.9,1750.7h0M221.6,1727.2h0M222.2,1729.9h0M222.0,1727.7h0M222.3,1721.9h0M222.0,1735.3h0M222.5,1738.2h0M222.9,1733.0h0M222.8,1722.1h0M222.9,1725.9h0M223.4,1736.3h0M223.0,1738.0h0M223.0,1707.2h0M223.0,1731.6h0M223.0,1725.4h0M223.8,1727.8h0M223.9,1748.5h0M223.5,1744.5h0M223.9,1722.4h0M224.0,1735.0h0M224.1,1790.4h0M224.2,1721.7h0M224.3,1721.3h0M224.6,1743.2h0M224.7,1730.0h0M224.6,1733.7h0M224.5,1691.6h0M225.2,1732.6h0M225.0,1730.4h0M225.1,1729.8h0M225.0,1736.2h0M225.3,1724.4h0M225.5,1727.3h0M225.7,1734.2h0M225.9,1741.3h0M225.6,1733.9h0M226.2,1732.0h0M226.1,1723.7h0M226.4,1743.5h0M226.2,1742.6h0M226.7,1737.7h0M226.7,1733.9h0M226.6,1729.8h0M226.9,1736.6h0M227.3,1748.8h0M227.3,1727.4h0M227.2,1738.2h0M227.3,1741.2h0M227.8,1723.8h0M227.8,1738.2h0M227.9,1730.5h0M227.7,1742.9h0M227.6,1737.7h0M228.4,1729.9h0M228.2,1742.5h0M228.2,1749.8h0M228.3,1742.2h0M229.0,1749.1h0M228.9,1736.3h0M228.8,1735.3h0M228.5,1732.0h0M229.0,1736.3h0M229.0,1729.1h0M229.3,1739.7h0M229.2,1734.0h0M229.8,1746.8h0M229.6,1720.3h0M229.9,1739.0h0M229.6,1739.1h0M229.7,1727.7h0M230.4,1675.7h0M230.4,1745.0h0M230.3,1722.3h0M230.1,1729.0h0M230.3,1741.0h0M230.5,1742.4h0M230.3,1748.6h0M230.4,1725.0h0M230.8,1737.7h0M231.0,1735.1h0M230.7,1733.2h0M230.9,1741.9h0M231.5,1746.4h0M231.3,1736.3h0M231.5,1749.0h0M231.6,1728.1h0M232.0,1742.5h0M232.0,1739.8h0M232.0,1732.9h0M232.0,1723.0h0M232.6,1767.4h0M232.7,1744.5h0M232.6,1721.4h0M232.2,1740.6h0M233.0,1739.6h0M232.8,1748.4h0M232.9,1732.8h0M233.0,1738.1h0M233.4,1720.3h0M233.3,1735.9h0M233.4,1739.9h0M233.6,1734.1h0M233.8,1734.1h0M233.9,1721.7h0M234.1,1733.6h0M233.9,1742.1h0M234.4,1739.0h0M234.2,1732.2h0M234.5,1728.9h0M234.6,1739.1h0M234.7,1727.1h0M234.7,1720.2h0M234.8,1723.3h0M235.1,1735.2h0M235.0,1717.9h0M235.2,1740.5h0M235.5,1744.3h0M235.3,1748.6h0M235.6,1730.1h0M236.0,1743.2h0M235.9,1729.8h0M236.0,1741.0h0M235.8,1729.1h0M236.0,1742.5h0M236.5,1750.4h0M236.4,1721.6h0M236.4,1748.6h0M236.5,1747.9h0M236.2,1744.5h0M236.9,1731.9h0M236.9,1727.9h0M236.7,1738.9h0M236.8,1740.1h0M237.6,1734.2h0M237.3,1769.8h0M237.2,1730.8h0M237.5,1723.4h0M237.9,1736.9h0M237.8,1744.3h0M237.8,1721.5h0M237.8,1734.9h0M237.9,1728.7h0M238.3,1745.1h0M238.5,1730.6h0M238.5,1742.1h0M238.2,1732.9h0M238.7,1735.9h0M238.9,1734.9h0M239.1,1718.3h0M239.0,1728.1h0M239.3,1722.4h0M239.6,1751.8h0M239.5,1727.8h0M239.3,1734.6h0M239.7,1731.2h0M239.8,1746.9h0M240.1,1717.3h0M240.1,1732.8h0M240.3,1734.9h0M240.2,1736.2h0M240.4,1737.9h0M240.5,1723.1h0M240.2,1728.0h0M241.0,1732.6h0M240.9,1720.8h0M240.8,1731.5h0M240.8,1722.8h0M241.2,1745.1h0M241.3,1734.3h0M241.5,1724.6h0M241.5,1736.7h0M241.4,1717.7h0M242.0,1742.3h0M242.0,1730.8h0M242.1,1730.6h0M241.8,1681.9h0M241.7,1725.4h0M242.4,1728.5h0M242.6,1743.4h0M242.6,1747.7h0M242.3,1726.6h0M242.8,1746.3h0M243.0,1728.5h0M242.8,1740.7h0M243.0,1731.9h0M243.1,1728.3h0M243.7,1741.1h0M243.7,1718.4h0M243.4,1737.6h0M243.3,1718.1h0M243.3,1733.4h0M243.9,1746.0h0M243.9,1719.1h0M243.9,1725.0h0M243.9,1718.8h0M244.3,1742.8h0M244.6,1746.2h0M244.4,1738.8h0M244.6,1753.7h0M245.0,1746.6h0M244.9,1726.2h0M245.1,1740.4h0M245.0,1730.8h0M245.4,1731.1h0M245.6,1741.0h0M245.5,1723.0h0M245.6,1735.1h0M245.9,1739.3h0M246.0,1731.5h0M246.1,1730.8h0M245.7,1736.5h0M246.2,1742.3h0M246.5,1731.8h0M246.2,1742.9h0M246.3,1729.2h0M246.5,1730.6h0M246.9,1736.2h0M247.1,1722.4h0M247.1,1736.3h0M246.8,1736.3h0M247.6,1722.9h0M247.2,1728.7h0M247.3,1741.8h0M247.2,1725.2h0M248.1,1736.3h0M247.7,1728.5h0M247.7,1727.8h0M247.9,1747.4h0M248.5,1707.0h0M248.4,1726.8h0M248.2,1724.8h0M248.2,1721.6h0M249.1,1731.2h0M248.8,1723.9h0M248.9,1727.6h0M248.8,1748.0h0M248.8,1746.1h0M249.6,1742.5h0M249.4,1745.5h0M249.6,1738.8h0M249.4,1742.8h0M249.4,1743.9h0M249.9,1747.8h0M249.7,1718.0h0M249.9,1736.5h0M250.0,1730.9h0M250.1,1735.9h0M250.4,1740.4h0M250.6,1748.0h0M250.6,1722.2h0M250.2,1738.2h0M250.2,1725.9h0M250.9,1726.7h0M250.7,1748.3h0M251.1,1726.5h0M251.0,1743.5h0M251.0,1715.8h0M251.6,1736.2h0M251.2,1710.8h0M251.4,1728.0h0M251.4,1739.0h0M251.3,1716.0h0M251.9,1738.2h0M252.0,1709.7h0M251.8,1737.7h0M251.7,1731.1h0M252.4,1746.7h0M252.6,1730.0h0M252.2,1718.2h0M252.4,1733.4h0M252.5,1735.8h0M252.8,1742.2h0M252.7,1727.4h0M253.0,1725.0h0M252.9,1747.9h0M253.3,1741.6h0M253.2,1727.7h0M253.4,1735.5h0M253.5,1730.2h0M253.9,1736.6h0M253.9,1725.9h0M253.8,1719.8h0M253.7,1735.5h0M254.2,1721.8h0M254.6,1714.7h0M254.4,1730.7h0M254.6,1719.1h0M254.2,1716.9h0M255.1,1736.8h0M254.7,1731.7h0M255.1,1727.4h0M254.9,1743.4h0M254.9,1716.7h0M255.1,1741.9h0M255.1,1735.7h0M255.0,1738.9h0M255.1,1731.5h0M255.8,1727.8h0M255.9,1714.3h0M255.7,1728.0h0M255.6,1725.1h0M256.3,1721.8h0M256.3,1733.6h0M256.1,1737.5h0M255.9,1730.6h0M256.0,1714.6h0M256.4,1733.5h0M256.7,1752.3h0M256.9,1726.2h0M256.8,1745.5h0M256.6,1744.0h0M257.2,1735.2h0M256.9,1745.7h0M257.1,1743.1h0M257.2,1741.2h0M256.9,1714.8h0M257.7,1735.4h0M257.7,1718.5h0M257.6,1727.0h0M257.4,1719.6h0M257.5,1731.6h0M257.9,1729.8h0M257.9,1728.3h0M258.2,1725.6h0M258.2,1747.4h0M258.3,1740.3h0M258.8,1723.4h0M258.5,1723.6h0M258.5,1743.5h0M258.7,1747.4h0M258.9,1715.9h0M259.0,1718.3h0M259.3,1747.7h0M259.4,1724.6h0M259.0,1716.9h0M259.1,1741.9h0M259.4,1737.3h0M259.7,1727.1h0M259.9,1733.6h0M259.7,1730.5h0M259.4,1735.6h0M260.1,1740.4h0M260.3,1735.2h0M260.3,1719.2h0M260.3,1728.5h0M260.6,1726.8h0M260.4,1727.1h0M260.7,1725.4h0M260.8,1748.5h0M261.1,1747.4h0M261.2,1728.9h0M260.9,1737.2h0M260.9,1744.9h0M261.1,1728.0h0M261.6,1726.1h0M261.7,1744.1h0M261.6,1673.6h0M261.5,1746.0h0M262.1,1734.0h0M262.3,1738.4h0M261.9,1726.1h0M262.2,1749.5h0M262.7,1720.9h0M262.4,1737.2h0M262.8,1719.6h0M262.4,1743.3h0M263.3,1722.9h0M263.0,1732.9h0M263.2,1730.5h0M263.3,1743.8h0M263.8,1747.5h0M263.6,1736.1h0M263.5,1740.6h0M263.5,1747.5h0M264.1,1731.1h0M264.3,1728.5h0M264.3,1731.2h0M264.3,1721.3h0M264.2,1727.6h0M264.5,1736.7h0M264.7,1737.0h0M264.7,1747.8h0M264.4,1749.3h0M265.2,1738.6h0M265.3,1736.6h0M264.9,1729.0h0M265.3,1722.9h0M264.9,1739.3h0M265.4,1740.5h0M265.9,1727.8h0M265.4,1720.2h0M265.6,1723.3h0M265.4,1751.7h0M266.4,1742.2h0M266.1,1748.0h0M266.0,1747.1h0M266.3,1717.7h0M266.4,1721.4h0M266.8,1744.3h0M266.7,1719.8h0M266.7,1733.1h0M266.9,1728.1h0M267.0,1716.1h0M267.1,1731.0h0M267.2,1743.1h0M267.6,1700.0h0M267.7,1728.1h0M267.6,1731.2h0M267.5,1732.9h0M267.9,1732.6h0M268.2,1734.1h0M268.2,1727.0h0M268.0,1729.6h0M268.8,1740.4h0M268.5,1717.6h0M268.4,1744.7h0M268.5,1742.6h0M268.9,1745.5h0M269.4,1729.0h0M269.2,1731.6h0M269.1,1730.1h0M269.4,1725.9h0M269.9,1727.1h0M269.5,1742.1h0M269.7,1722.2h0M269.7,1717.2h0M270.1,1750.6h0M270.0,1741.0h0M270.0,1745.4h0M270.3,1731.8h0M270.1,1745.9h0M270.6,1750.1h0M270.5,1724.1h0M270.5,1729.4h0M270.4,1730.9h0M270.4,1749.7h0M271.1,1725.5h0M271.2,1726.6h0M271.0,1750.6h0M271.2,1733.1h0M271.5,1720.1h0M271.6,1737.8h0M271.8,1748.4h0M271.8,1722.2h0M272.2,1719.4h0M272.2,1738.4h0M272.3,1718.4h0M272.0,1743.3h0M272.5,1745.2h0M272.5,1727.8h0M272.6,1725.1h0M272.6,1744.5h0M273.3,1746.8h0M273.0,1746.7h0M273.1,1729.8h0M273.1,1736.0h0M273.6,1717.6h0M273.6,1747.4h0M273.7,1743.5h0M273.6,1718.4h0M273.8,1725.1h0M274.3,1745.1h0M274.2,1739.2h0M274.0,1726.9h0M274.3,1742.2h0M274.3,1741.6h0M274.4,1728.7h0M274.7,1735.2h0M274.6,1743.6h0M274.7,1741.2h0M275.3,1738.9h0M274.9,1742.4h0M274.9,1741.9h0M274.9,1721.9h0M275.6,1750.6h0M275.4,1735.8h0M275.6,1745.2h0M275.5,1733.9h0M275.8,1742.3h0M276.0,1744.6h0M276.2,1739.5h0M276.0,1722.3h0M276.2,1736.0h0M276.4,1723.1h0M276.5,1751.5h0M276.6,1745.1h0M276.7,1716.6h0M276.5,1750.3h0M276.9,1732.6h0M277.1,1732.2h0M277.2,1756.0h0M277.1,1702.2h0M277.2,1718.6h0M277.3,1721.8h0M277.6,1735.0h0M277.1,1743.7h0M277.6,1728.1h0M277.8,1748.0h0M278.1,1722.4h0M278.1,1746.9h0M278.0,1753.8h0M278.3,1745.2h0M278.3,1740.4h0M278.4,1743.4h0M278.6,1744.6h0M279.1,1753.8h0M278.8,1731.8h0M279.0,1726.7h0M278.8,1754.0h0M279.5,1729.8h0M279.6,1700.5h0M279.5,1728.6h0M279.1,1742.2h0M280.1,1740.7h0M279.9,1740.5h0M279.7,1726.1h0M279.8,1749.9h0M280.1,1707.1h0M280.5,1744.5h0M280.2,1746.0h0M280.1,1745.9h0M280.5,1724.8h0M280.8,1730.3h0M280.9,1736.9h0M280.9,1758.7h0M280.9,1738.8h0M281.2,1751.7h0M281.3,1742.1h0M281.2,1745.8h0M281.4,1758.6h0M281.7,1755.1h0M282.0,1755.9h0M282.1,1745.0h0M281.6,1743.2h0M282.6,1752.1h0M282.5,1735.3h0M282.5,1761.5h0M282.3,1740.5h0M282.7,1731.0h0M282.9,1726.5h0M282.9,1762.4h0M282.7,1757.6h0M283.1,1752.0h0M283.3,1734.4h0M283.2,1731.7h0M283.2,1743.0h0M283.9,1745.1h0M283.8,1761.0h0M283.6,1738.8h0M283.8,1762.0h0M284.2,1721.9h0M284.1,1742.3h0M284.3,1748.6h0M284.3,1734.0h0M285.0,1757.3h0M285.1,1743.0h0M284.8,1745.4h0M285.0,1735.3h0M285.3,1747.8h0M285.3,1741.2h0M285.3,1767.9h0M285.3,1735.0h0M285.8,1741.4h0M285.6,1758.5h0M285.9,1742.8h0M286.0,1745.2h0M286.6,1750.9h0M286.2,1765.0h0M286.3,1747.6h0M286.4,1760.4h0M287.0,1769.7h0M287.0,1747.5h0M286.9,1748.6h0M286.9,1754.2h0M287.4,1755.3h0M287.4,1737.5h0M287.3,1752.7h0M287.9,1738.4h0M287.7,1749.5h0M287.6,1742.0h0M287.7,1735.3h0M288.2,1762.3h0M288.3,1739.7h0M288.2,1751.5h0M288.2,1746.8h0M288.8,1757.1h0M288.9,1757.7h0M288.8,1728.3h0M288.7,1729.1h0M289.4,1758.0h0M289.1,1761.6h0M289.1,1753.2h0M289.5,1734.3h0M289.5,1747.5h0M289.9,1783.3h0M289.6,1743.1h0M289.9,1749.1h0M290.1,1753.5h0M290.2,1740.2h0M290.4,1742.3h0M290.3,1737.4h0M290.6,1747.2h0M290.9,1751.2h0M290.7,1755.7h0M290.8,1747.3h0M291.5,1740.5h0M291.4,1753.2h0M291.1,1740.8h0M291.4,1737.6h0M291.6,1756.3h0M291.6,1758.5h0M291.7,1742.0h0M291.8,1767.0h0M292.3,1749.5h0M292.1,1739.6h0M292.2,1750.4h0M292.3,1759.4h0M292.7,1765.0h0M292.7,1761.1h0M292.7,1749.4h0M292.8,1739.6h0M293.2,1772.3h0M293.1,1744.3h0M293.0,1748.4h0M293.0,1749.7h0M293.6,1752.5h0M293.9,1772.8h0M293.6,1765.3h0M293.7,1744.8h0M294.3,1756.7h0M294.2,1740.5h0M294.0,1732.8h0M294.0,1734.6h0M294.0,1738.6h0M294.8,1767.2h0M294.9,1755.2h0M294.6,1764.5h0M294.6,1742.5h0M295.3,1763.2h0M295.5,1736.5h0M295.2,1739.4h0M295.4,1738.6h0M295.7,1750.3h0M295.6,1733.0h0M295.9,1735.9h0M296.0,1756.9h0M296.4,1738.1h0M296.0,1753.1h0M296.5,1734.4h0M296.3,1773.0h0M296.7,1750.1h0M296.6,1742.1h0M297.0,1754.3h0M296.5,1752.7h0M297.2,1755.5h0M297.2,1739.7h0M297.5,1753.8h0M297.0,1740.7h0M297.1,1771.8h0M297.5,1760.8h0M297.6,1755.2h0M297.8,1740.6h0M297.7,1741.2h0M298.2,1749.7h0M298.3,1742.5h0M298.3,1727.4h0M298.4,1747.0h0M298.8,1769.4h0M298.6,1770.4h0M298.8,1748.4h0M298.5,1745.3h0M299.2,1738.4h0M299.1,1746.8h0M299.5,1748.8h0M299.5,1753.0h0M299.7,1754.8h0M299.6,1752.0h0M299.8,1749.6h0M299.8,1738.2h0M300.3,1747.8h0M300.4,1733.6h0M300.3,1744.0h0M300.1,1749.6h0M300.9,1741.5h0M300.7,1750.4h0M300.9,1746.4h0M300.7,1750.6h0M301.4,1743.4h0M301.2,1698.7h0M301.0,1759.3h0M301.3,1745.0h0M301.7,1735.2h0M301.9,1747.1h0M301.7,1750.7h0M301.8,1749.7h0M302.4,1749.2h0M302.1,1769.9h0M302.2,1734.4h0M302.4,1723.8h0M302.9,1749.7h0M302.8,1745.0h0M302.6,1738.1h0M302.8,1734.6h0M302.5,1759.4h0M303.0,1764.0h0M303.3,1759.9h0M303.5,1730.6h0M303.0,1749.3h0M303.1,1731.2h0M303.6,1763.2h0M303.9,1751.5h0M303.8,1748.9h0M303.5,1736.7h0M304.4,1772.1h0M304.4,1751.9h0M304.2,1753.6h0M304.3,1731.5h0M304.6,1755.0h0M304.8,1741.7h0M304.7,1750.1h0M304.7,1743.8h0M304.5,1744.6h0M305.4,1754.7h0M305.2,1740.6h0M305.2,1729.4h0M305.4,1738.3h0M305.6,1730.9h0M305.8,1736.3h0M305.7,1743.4h0M305.7,1744.3h0M306.3,1747.0h0M306.5,1762.6h0M306.4,1744.7h0M306.4,1742.4h0M306.4,1747.6h0M306.7,1734.2h0M306.6,1753.7h0M306.9,1736.5h0M306.8,1735.3h0M306.8,1760.6h0M306.9,1760.0h0M307.2,1770.4h0M307.1,1747.7h0M307.0,1759.7h0M307.4,1732.1h0M307.3,1759.3h0M307.3,1780.7h0M307.7,1759.5h0M307.5,1728.8h0M307.9,1732.7h0M308.0,1758.9h0M307.8,1760.2h0M307.9,1750.7h0M308.2,1738.8h0M308.6,1738.0h0M308.6,1767.1h0M308.3,1754.2h0M308.6,1766.7h0M309.2,1747.1h0M309.2,1744.0h0M308.9,1734.8h0M309.0,1767.3h0M309.6,1729.2h0M309.5,1742.5h0M309.5,1755.1h0M309.4,1736.4h0M309.6,1757.1h0M310.1,1743.7h0M310.0,1763.6h0M309.9,1746.4h0M309.8,1728.8h0M310.0,1741.0h0M310.5,1758.9h0M310.4,1730.6h0M310.7,1763.1h0M310.5,1751.9h0M310.6,1750.3h0M311.2,1750.6h0M311.1,1765.5h0M311.2,1744.5h0M311.2,1742.7h0M311.4,1754.2h0M311.5,1758.4h0M311.4,1733.8h0M311.5,1738.7h0M311.3,1754.5h0M311.8,1747.0h0M312.0,1736.9h0M311.9,1737.8h0M312.1,1752.2h0M312.5,1723.7h0M312.7,1747.1h0M312.7,1723.0h0M312.7,1743.5h0M312.7,1751.8h0M313.1,1761.1h0M313.0,1729.3h0M312.9,1731.7h0M313.2,1739.2h0M313.1,1743.4h0M313.4,1734.9h0M313.6,1751.2h0M313.5,1733.9h0M313.5,1744.1h0M313.3,1742.5h0M314.1,1732.8h0M314.1,1734.0h0M313.9,1690.1h0M314.0,1762.9h0M314.1,1730.9h0M314.5,1734.2h0M314.4,1751.2h0M314.4,1701.1h0M314.6,1725.8h0M314.6,1758.3h0M315.1,1743.0h0M314.9,1751.9h0M315.1,1719.3h0M315.1,1743.1h0M315.0,1738.5h0M315.4,1756.5h0M315.3,1747.1h0M315.6,1747.4h0M315.5,1740.4h0M315.3,1707.8h0M315.8,1746.1h0M315.9,1751.2h0M315.7,1733.7h0M316.2,1726.8h0M315.9,1741.0h0M316.6,1747.9h0M316.3,1758.4h0M316.7,1731.1h0M316.4,1755.2h0M316.7,1746.1h0M317.2,1752.4h0M317.1,1729.4h0M316.8,1738.7h0M317.1,1716.9h0M317.2,1747.5h0M317.3,1744.0h0M317.7,1748.7h0M317.4,1747.9h0M317.3,1752.6h0M317.5,1721.8h0M318.1,1735.5h0M318.0,1737.3h0M318.0,1749.7h0M318.0,1749.6h0M318.0,1744.5h0M318.5,1736.6h0M318.4,1750.4h0M318.2,1755.5h0M318.5,1748.6h0M318.2,1737.5h0M319.1,1746.4h0M318.6,1740.8h0M319.0,1734.8h0M319.0,1753.0h0M319.0,1751.1h0M319.5,1737.4h0M319.4,1742.9h0M319.4,1740.8h0M319.6,1750.1h0M319.2,1750.1h0M319.7,1744.1h0M320.0,1723.0h0M319.8,1734.5h0M319.7,1746.2h0M319.8,1747.4h0M320.5,1728.0h0M320.1,1735.9h0M320.3,1737.0h0M320.3,1732.0h0M320.3,1731.3h0M320.6,1729.8h0M320.9,1743.1h0M321.0,1738.6h0M320.8,1732.8h0M320.8,1743.1h0M321.3,1726.1h0M321.3,1728.0h0M321.5,1729.0h0M321.5,1720.7h0M321.3,1749.0h0M322.0,1729.8h0M321.8,1726.6h0M321.8,1730.8h0M321.9,1715.2h0M321.7,1730.3h0M322.1,1734.5h0M322.5,1739.3h0M322.5,1714.4h0M322.3,1729.3h0M322.3,1735.3h0M323.1,1732.0h0M322.6,1715.3h0M322.8,1714.8h0M322.7,1738.2h0M322.8,1743.0h0M323.4,1719.6h0M323.5,1734.5h0M323.3,1714.2h0M323.4,1734.8h0M323.2,1719.4h0M323.6,1717.2h0M324.1,1721.3h0M324.0,1737.8h0M323.8,1722.3h0M324.2,1718.1h0M324.2,1711.3h0M324.3,1723.1h0M324.3,1716.7h0M324.7,1716.6h0M324.6,1726.3h0M325.0,1734.2h0M325.0,1714.1h0M324.9,1731.6h0M325.1,1717.7h0M325.5,1733.8h0M325.4,1731.8h0M325.1,1723.7h0M325.8,1740.3h0M325.8,1716.2h0M325.6,1712.8h0M325.8,1728.0h0M326.2,1740.6h0M326.3,1737.2h0M326.3,1734.2h0M326.3,1732.6h0M326.2,1741.7h0M326.7,1739.5h0M326.6,1731.4h0M326.8,1735.3h0M326.9,1727.5h0M327.4,1733.6h0M327.5,1731.9h0M327.3,1675.0h0M327.5,1731.6h0M327.4,1733.1h0M327.6,1735.7h0M327.9,1729.6h0M327.6,1735.7h0M327.9,1730.2h0M328.5,1729.4h0M328.4,1721.7h0M328.5,1738.8h0M328.4,1742.3h0M328.4,1723.6h0M328.9,1748.7h0M329.0,1716.2h0M328.6,1728.5h0M328.7,1728.7h0M328.5,1717.6h0M329.2,1742.5h0M329.1,1718.2h0M329.1,1725.7h0M329.2,1713.6h0M329.8,1720.4h0M329.7,1735.6h0M330.0,1740.2h0M329.6,1722.7h0M330.4,1697.3h0M330.2,1735.1h0M330.5,1731.7h0M330.5,1744.0h0M330.2,1743.3h0M330.9,1725.6h0M330.7,1734.0h0M330.6,1735.9h0M330.6,1735.4h0M330.6,1719.6h0M331.2,1739.3h0M331.2,1723.6h0M331.4,1728.5h0M331.2,1715.2h0M331.6,1712.0h0M331.8,1731.1h0M332.0,1732.4h0M331.9,1715.4h0M332.3,1726.7h0M332.3,1730.0h0M332.2,1716.2h0M332.1,1724.8h0M332.4,1742.6h0M332.9,1737.2h0M332.9,1738.7h0M332.8,1741.6h0M332.7,1731.9h0M333.4,1755.3h0M333.5,1724.9h0M333.4,1736.8h0M333.2,1729.2h0M333.3,1724.3h0M333.7,1712.8h0M334.0,1725.1h0M333.6,1725.4h0M333.7,1741.9h0M333.9,1727.9h0M334.3,1728.8h0M334.4,1733.0h0M334.3,1725.9h0M334.4,1739.9h0M334.2,1725.3h0M334.8,1782.9h0M334.9,1729.8h0M334.6,1723.2h0M334.8,1738.3h0M334.6,1737.0h0M335.4,1730.8h0M335.2,1733.1h0M335.5,1722.2h0M335.1,1732.8h0M336.0,1719.9h0M335.8,1739.1h0M335.8,1730.1h0M335.8,1762.2h0M335.7,1730.3h0M336.2,1721.1h0M336.5,1728.5h0M336.2,1729.0h0M336.5,1721.3h0M336.3,1721.4h0M336.8,1716.4h0M336.7,1732.1h0M336.5,1728.2h0M336.5,1731.6h0M336.6,1741.7h0M337.1,1713.8h0M337.4,1735.6h0M337.5,1720.1h0M337.3,1724.9h0M337.7,1743.6h0M337.9,1722.4h0M337.6,1725.1h0M337.7,1728.2h0M337.6,1729.9h0M338.2,1733.3h0M338.5,1758.6h0M338.2,1734.1h0M338.2,1723.2h0M338.1,1742.1h0M339.0,1722.7h0M338.6,1722.8h0M339.0,1719.5h0M338.7,1731.0h0M338.8,1725.3h0M339.1,1720.4h0M339.5,1721.6h0M339.1,1718.6h0M339.1,1718.7h0M339.8,1734.2h0M339.8,1724.8h0M339.6,1739.8h0M339.6,1730.4h0M340.4,1727.7h0M340.3,1710.8h0M340.1,1729.0h0M340.2,1719.3h0M340.9,1716.9h0M340.8,1718.6h0M341.0,1730.6h0M341.0,1721.4h0M341.5,1721.9h0M341.1,1711.8h0M341.2,1731.0h0M341.5,1722.4h0M341.6,1734.8h0M341.7,1712.4h0M341.5,1731.0h0M341.7,1722.5h0M341.9,1736.2h0M342.3,1730.5h0M342.0,1718.4h0M342.0,1732.1h0M342.5,1716.4h0M342.7,1729.8h0M342.6,1716.6h0M342.5,1715.8h0M343.3,1726.6h0M343.0,1725.9h0M342.9,1724.2h0M343.1,1727.0h0M343.3,1734.5h0M343.6,1725.5h0M343.5,1739.8h0M343.5,1721.4h0M343.8,1726.2h0M344.2,1730.9h0M343.9,1722.6h0M344.0,1732.1h0M344.0,1748.1h0M344.4,1736.1h0M344.8,1731.5h0M344.8,1743.1h0M344.8,1726.1h0M345.3,1741.0h0M344.8,1728.8h0M344.9,1727.1h0M345.1,1726.1h0M345.7,1740.6h0M345.6,1740.2h0M345.4,1749.7h0M345.8,1733.9h0M346.3,1739.6h0M346.2,1738.3h0M345.9,1757.7h0M346.1,1748.9h0M346.4,1743.6h0M346.8,1746.8h0M346.5,1752.8h0M346.6,1743.4h0M346.9,1744.4h0M347.1,1737.2h0M347.0,1759.7h0M346.9,1757.2h0M347.6,1756.7h0M347.6,1749.0h0M347.5,1759.7h0M347.6,1743.4h0M348.0,1749.9h0M347.5,1761.9h0M347.7,1752.5h0M347.6,1741.1h0M348.3,1756.7h0M348.3,1749.0h0M348.2,1764.0h0M348.9,1747.7h0M348.8,1737.0h0M348.7,1720.7h0M348.7,1757.6h0M349.1,1758.3h0M349.3,1753.3h0M349.3,1757.2h0M349.0,1754.6h0M349.9,1753.3h0M349.9,1741.1h0M350.0,1759.9h0M349.9,1763.5h0M350.5,1759.0h0M350.2,1744.1h0M350.4,1763.4h0M350.8,1751.7h0M351.0,1756.9h0M350.5,1749.2h0M350.9,1752.9h0M351.5,1754.2h0M351.4,1756.3h0M351.0,1745.5h0M351.8,1757.8h0M351.7,1733.4h0M351.9,1750.7h0M351.5,1763.4h0M352.2,1742.8h0M352.1,1745.7h0M352.1,1750.8h0M352.8,1761.0h0M352.9,1758.6h0M352.8,1751.6h0M352.9,1747.5h0M353.5,1751.4h0M353.4,1749.7h0M353.4,1741.5h0M353.0,1761.4h0M354.0,1749.5h0M353.7,1759.6h0M354.0,1763.7h0M354.0,1761.7h0M354.4,1790.5h0M354.2,1760.6h0M354.2,1737.9h0M354.8,1741.0h0M354.9,1762.7h0M354.5,1756.3h0M354.7,1757.8h0M355.4,1760.5h0M355.1,1762.9h0M355.4,1743.6h0M355.2,1749.0h0M355.6,1760.0h0M355.8,1737.4h0M355.5,1763.1h0M356.2,1754.9h0M356.5,1762.3h0M356.5,1756.9h0M356.0,1761.1h0M356.9,1757.1h0M356.8,1761.5h0M356.6,1747.9h0M357.3,1758.8h0M357.2,1755.0h0M357.2,1759.9h0M357.4,1747.6h0M357.6,1748.3h0M358.0,1754.6h0M358.0,1756.4h0M358.0,1741.9h0M358.3,1737.0h0M358.0,1741.9h0M358.5,1749.8h0M358.8,1744.3h0M358.7,1756.8h0M358.8,1752.1h0M359.0,1753.6h0M359.4,1764.1h0M359.1,1763.8h0M359.3,1745.4h0M359.5,1738.6h0M359.6,1750.6h0M359.9,1787.9h0M359.7,1738.1h0M359.9,1738.7h0M360.1,1754.4h0M360.4,1756.4h0M360.4,1761.1h0M360.2,1761.8h0M360.7,1775.5h0M360.7,1744.0h0M361.0,1739.9h0M360.9,1759.2h0M361.1,1752.6h0M361.3,1755.8h0M361.5,1751.1h0M361.5,1756.9h0M361.6,1763.7h0M361.8,1749.9h0M361.8,1746.9h0M362.2,1741.5h0M362.1,1756.5h0M362.2,1751.4h0M362.4,1751.1h0M362.8,1801.8h0M362.5,1759.0h0M362.5,1753.7h0M363.5,1752.5h0M363.4,1754.6h0M363.1,1749.3h0M363.2,1740.4h0M363.6,1752.5h0M363.5,1727.1h0M363.5,1753.4h0M363.6,1748.8h0M364.3,1721.8h0M364.1,1755.5h0M364.2,1752.2h0M364.1,1745.2h0M364.5,1745.0h0M364.7,1751.9h0M365.0,1738.2h0M364.7,1760.0h0M365.0,1743.8h0M365.5,1740.2h0M365.4,1750.2h0M365.7,1747.8h0M365.9,1746.6h0M365.9,1738.8h0M365.9,1762.6h0M366.1,1750.6h0M366.2,1743.1h0M366.5,1737.5h0M366.1,1738.2h0M366.9,1739.3h0M366.6,1741.3h0M366.9,1752.3h0M366.7,1747.1h0M367.4,1737.4h0M367.2,1758.1h0M367.1,1744.7h0M367.5,1739.9h0M367.7,1747.2h0M367.8,1758.3h0M367.6,1747.5h0M367.9,1740.6h0M368.0,1758.1h0M368.3,1745.4h0M368.3,1748.8h0M368.6,1758.1h0M368.5,1737.3h0M368.7,1750.9h0M368.6,1744.5h0M270.0,1670.9h0M270.8,1704.8h0M272.0,1681.2h0M277.0,1696.8h0M283.6,1697.2h0M286.8,1704.6h0M289.9,1688.2h0M290.4,1710.3h0M290.5,1699.6h0M324.1,1697.8h0M326.2,1692.1h0M329.7,1710.2h0M330.0,1701.5h0M330.9,1696.1h0M331.7,1701.7h0M333.3,1683.7h0M334.5,1684.2h0M335.4,1684.6h0M335.9,1715.1h0M336.3,1685.6h0M340.9,1686.4h0M360.3,1745.5h0M360.0,1735.7h0M360.1,1741.5h0M360.9,1747.7h0M361.0,1747.2h0M360.9,1756.6h0M361.3,1755.9h0M361.0,1739.6h0M361.1,1754.1h0M361.6,1753.1h0M361.6,1750.4h0M362.0,1755.3h0M362.1,1761.0h0M362.2,1759.4h0M362.2,1754.0h0M362.7,1750.2h0M362.5,1713.0h0M362.7,1712.3h0M363.4,1743.0h0M363.3,1748.5h0M363.8,1761.0h0M363.6,1739.6h0M364.2,1786.5h0M364.4,1753.1h0M364.4,1756.9h0M364.8,1747.7h0M364.6,1741.1h0M364.7,1748.1h0M365.2,1749.5h0M365.0,1758.8h0M365.4,1755.6h0M365.9,1746.5h0M365.7,1756.9h0M365.8,1752.2h0M366.1,1743.4h0M366.1,1760.8h0M366.3,1789.3h0M366.7,1736.9h0M366.7,1753.0h0M367.4,1764.5h0M367.3,1736.9h0M367.3,1739.9h0M367.8,1747.0h0M367.9,1753.7h0M368.4,1748.8h0M368.1,1737.4h0M368.2,1737.4h0M368.9,1739.0h0M368.9,1764.8h0M368.8,1773.2h0M369.1,1748.9h0M369.4,1743.1h0M369.6,1771.7h0M369.8,1751.8h0M369.7,1706.4h0M370.1,1757.0h0M370.4,1741.6h0M370.1,1761.8h0M371.0,1736.0h0M370.9,1759.3h0M370.9,1759.7h0M371.1,1744.5h0M371.4,1748.8h0M371.2,1743.7h0M371.6,1764.6h0M371.6,1757.2h0M371.7,1746.9h0M372.0,1756.9h0M372.4,1746.4h0M372.3,1762.3h0M372.6,1763.6h0M372.8,1744.4h0M372.8,1718.1h0M373.1,1759.3h0M373.1,1754.4h0M373.2,1755.6h0M373.6,1737.6h0M373.7,1750.5h0M373.7,1735.5h0M374.5,1748.9h0M374.4,1755.5h0M374.5,1762.2h0M374.9,1757.8h0M374.7,1757.1h0M374.9,1743.7h0M375.1,1756.7h0M375.0,1748.0h0M375.1,1753.0h0M375.7,1734.7h0M376.0,1751.9h0M375.8,1753.1h0M376.2,1739.3h0M376.3,1731.6h0M376.3,1737.0h0M376.9,1760.6h0M376.6,1749.0h0M377.0,1759.1h0M377.1,1752.5h0M377.1,1740.6h0M377.3,1754.4h0M377.7,1747.5h0M377.9,1754.5h0M378.5,1751.6h0M378.2,1756.5h0M378.4,1754.8h0M378.9,1756.2h0M378.8,1757.7h0M378.6,1738.2h0M379.0,1741.2h0M379.4,1756.8h0M379.5,1758.5h0M379.8,1759.6h0M379.5,1744.9h0M380.2,1740.7h0M380.1,1746.5h0M380.4,1745.5h0M380.6,1740.8h0M380.6,1773.4h0M380.8,1753.8h0M381.2,1745.7h0M381.5,1747.8h0M381.0,1747.7h0M381.8,1754.7h0M381.7,1765.7h0M381.7,1758.1h0M382.3,1747.2h0M382.0,1744.5h0M383.0,1755.8h0M383.0,1755.4h0M383.0,1744.9h0M383.1,1757.0h0M383.5,1738.1h0M383.0,1745.8h0M384.0,1741.2h0M383.9,1763.6h0M383.6,1750.7h0M384.3,1754.0h0M384.1,1752.5h0M384.2,1758.5h0M384.7,1759.8h0M384.8,1755.6h0M385.0,1739.4h0M385.1,1738.6h0M385.5,1739.3h0M385.9,1754.0h0M385.7,1762.6h0M385.9,1748.4h0M386.1,1766.3h0M386.2,1746.3h0M386.8,1752.0h0M386.5,1760.6h0M386.7,1765.8h0M387.3,1749.3h0M387.3,1748.4h0M387.3,1765.4h0M387.9,1753.0h0M387.9,1737.5h0M387.8,1758.7h0M388.4,1763.5h0M388.0,1742.1h0M388.1,1760.1h0M389.0,1743.7h0M388.6,1785.0h0M389.0,1742.2h0M389.4,1742.8h0M389.1,1766.3h0M389.1,1744.3h0M389.5,1763.6h0M389.6,1746.7h0M389.8,1758.0h0M390.2,1758.4h0M390.0,1741.3h0M390.1,1752.2h0M390.9,1758.8h0M390.7,1740.3h0M391.4,1736.4h0M391.3,1756.6h0M391.6,1751.9h0M391.8,1737.1h0M391.9,1743.3h0M392.4,1756.6h0M392.4,1758.8h0M392.1,1742.1h0M392.7,1762.3h0M392.5,1766.1h0M392.7,1744.6h0M393.0,1738.8h0M393.3,1789.3h0M394.0,1778.8h0M393.6,1743.7h0M393.8,1732.7h0M394.4,1750.7h0M394.4,1745.1h0M394.5,1781.9h0M394.7,1751.2h0M395.0,1747.1h0M394.5,1753.0h0M395.0,1756.2h0M395.4,1745.8h0M395.1,1748.9h0M395.7,1738.2h0M395.9,1752.4h0M395.9,1753.4h0M396.4,1754.7h0M396.2,1749.1h0M396.1,1747.5h0M396.9,1755.1h0M396.8,1774.0h0M396.6,1744.6h0M397.2,1737.1h0M397.4,1746.7h0M397.2,1753.7h0M397.2,1749.8h0M397.2,1747.0h0M397.2,1756.8h0M397.6,1745.1h0M397.7,1758.9h0M397.6,1753.5h0M398.1,1757.8h0M398.3,1742.9h0M398.9,1743.6h0M399.0,1758.0h0M399.3,1772.9h0M399.2,1769.8h0M399.8,1749.7h0M399.9,1769.9h0M400.5,1751.4h0M400.2,1751.1h0M400.6,1767.5h0M401.4,1771.9h0M401.6,1728.7h0M402.1,1762.2h0M402.8,1746.5h0M402.6,1760.2h0M403.2,1757.1h0M403.7,1772.6h0M404.4,1759.2h0M404.8,1750.1h0M404.9,1773.6h0M405.4,1757.2h0M405.7,1764.2h0M406.3,1761.2h0M406.4,1779.1h0M406.9,1753.3h0M406.8,1748.7h0M407.4,1750.3h0M407.5,1802.3h0M407.6,1759.0h0M408.2,1750.3h0M408.6,1764.6h0M409.0,1761.5h0M409.5,1758.4h0M409.7,1765.2h0M410.3,1759.4h0M410.7,1799.5h0M410.8,1757.5h0M411.1,1770.2h0M411.3,1774.9h0M412.0,1765.0h0M411.7,1767.8h0M412.1,1772.1h0M413.0,1771.6h0M413.3,1772.7h0M413.2,1770.4h0M413.7,1749.3h0M413.8,1770.2h0M414.4,1743.3h0M414.9,1769.6h0M414.8,1766.7h0M415.3,1759.9h0M415.5,1764.0h0M416.0,1764.1h0M415.9,1750.9h0M416.3,1751.4h0M416.5,1769.5h0M416.8,1755.9h0M417.1,1763.0h0M417.9,1772.0h0M418.1,1759.7h0M418.5,1756.4h0M418.7,1753.6h0M419.4,1748.9h0M419.9,1770.1h0M419.8,1768.6h0M420.1,1755.2h0M420.9,1752.8h0M421.1,1755.7h0M421.3,1753.9h0M421.9,1765.7h0M421.7,1837.1h0M422.0,1764.8h0M422.0,1779.0h0M422.4,1762.6h0M422.6,1772.4h0M423.2,1775.1h0M422.9,1752.0h0M423.5,1756.7h0M423.8,1760.9h0M423.7,1761.0h0M424.2,1774.7h0M424.1,1721.1h0M424.1,1770.4h0M424.6,1754.4h0M424.7,1762.0h0M424.3,1776.4h0M424.7,1755.3h0M424.9,1763.7h0M424.9,1772.6h0M425.1,1758.6h0M425.0,1762.4h0M425.4,1777.2h0M425.4,1764.9h0M425.7,1777.5h0M425.4,1764.0h0M426.2,1766.4h0M426.0,1769.5h0M426.0,1752.3h0M426.7,1779.9h0M426.5,1763.4h0M426.6,1765.0h0M427.2,1759.3h0M427.2,1766.4h0M427.2,1779.9h0M427.7,1781.9h0M427.7,1765.4h0M427.3,1766.5h0M427.6,1776.5h0M428.1,1776.9h0M427.8,1768.1h0M427.9,1782.4h0M427.9,1776.6h0M428.5,1763.6h0M428.3,1777.1h0M428.3,1779.4h0M429.0,1761.0h0M428.9,1757.0h0M429.0,1775.8h0M429.4,1768.2h0M429.5,1778.4h0M429.5,1756.4h0M429.5,1766.3h0M429.8,1782.6h0M430.2,1801.8h0M430.1,1773.8h0M430.7,1777.8h0M430.6,1765.1h0M430.3,1776.3h0M431.0,1762.3h0M430.9,1776.3h0M430.8,1777.5h0M431.2,1753.0h0M431.6,1765.5h0M431.7,1800.2h0M431.4,1764.5h0M431.5,1766.4h0M432.2,1773.6h0M431.9,1782.8h0M432.1,1768.9h0M431.8,1769.1h0M432.6,1783.7h0M432.5,1764.0h0M432.6,1758.2h0M433.2,1776.7h0M433.0,1765.3h0M433.2,1810.7h0M433.5,1771.8h0M433.6,1766.2h0M433.4,1758.6h0M434.2,1772.2h0M433.8,1781.5h0M434.0,1765.9h0M434.4,1774.6h0M434.5,1760.9h0M434.6,1771.7h0M435.2,1778.2h0M434.9,1769.0h0M434.7,1768.1h0M435.5,1787.3h0M435.4,1768.3h0M435.6,1759.3h0M435.9,1765.3h0M436.0,1771.5h0M436.2,1778.3h0M435.8,1758.0h0M436.4,1781.2h0M436.3,1762.5h0M436.7,1757.8h0M436.3,1772.7h0M437.1,1759.4h0M436.8,1767.8h0M437.2,1760.6h0M437.2,1784.7h0M437.4,1768.1h0M437.6,1736.6h0M437.4,1776.3h0M437.6,1779.7h0M438.1,1766.0h0M437.8,1748.1h0M437.8,1772.8h0M438.3,1769.1h0M438.4,1777.3h0M438.7,1761.8h0M438.9,1759.3h0M438.9,1774.1h0M438.8,1773.2h0M439.4,1781.9h0M439.7,1783.4h0M439.3,1785.0h0M439.9,1764.9h0M440.0,1776.9h0M440.0,1777.6h0M439.9,1780.8h0M440.5,1777.9h0M440.6,1771.2h0M440.4,1777.3h0M441.0,1776.4h0M440.9,1778.1h0M441.1,1785.2h0M441.5,1774.1h0M441.5,1774.5h0M441.5,1765.6h0M441.9,1777.1h0M442.0,1766.9h0M441.9,1781.3h0M442.7,1776.9h0M442.5,1779.7h0M442.3,1758.8h0M442.8,1759.9h0M442.8,1772.2h0M443.0,1773.1h0M443.5,1775.8h0M443.6,1777.6h0M443.3,1771.2h0M443.9,1778.0h0M444.1,1772.3h0M443.8,1759.9h0M443.9,1757.1h0M444.2,1760.7h0M444.0,1767.6h0M444.3,1779.5h0M444.5,1769.6h0M444.9,1836.8h0M444.5,1767.7h0M445.4,1782.0h0M445.1,1770.0h0M445.3,1766.6h0M445.8,1769.0h0M445.6,1780.0h0M445.5,1786.8h0M446.4,1785.0h0M446.4,1777.9h0M446.1,1779.5h0M446.7,1762.6h0M446.9,1775.4h0M446.8,1776.0h0M447.1,1775.9h0M447.3,1777.2h0M447.0,1776.2h0M447.6,1781.6h0M447.6,1781.8h0M447.6,1768.8h0M448.1,1765.1h0M448.2,1781.6h0M448.0,1792.5h0M448.5,1769.7h0M448.9,1790.1h0M448.6,1782.4h0M449.1,1790.4h0M449.0,1783.0h0M449.2,1774.5h0M449.9,1785.7h0M449.6,1788.1h0M449.6,1802.4h0M450.3,1794.0h0M450.1,1778.4h0M450.9,1768.9h0M450.5,1786.4h0M450.7,1771.5h0M451.1,1790.6h0M451.3,1792.8h0M451.3,1801.3h0M451.6,1784.8h0M451.8,1789.8h0M451.5,1792.0h0M452.3,1785.7h0M452.0,1817.7h0M452.2,1779.5h0M452.7,1780.0h0M452.4,1779.7h0M452.6,1792.3h0M453.1,1787.5h0M453.0,1782.4h0M453.4,1794.9h0M453.6,1770.9h0M453.7,1779.3h0M454.0,1772.0h0M453.9,1773.6h0M454.3,1765.0h0M454.5,1787.7h0M454.8,1789.9h0M454.7,1787.2h0M455.3,1775.4h0M455.4,1772.0h0M455.3,1772.0h0M455.0,1777.4h0M455.7,1770.1h0M455.5,1776.6h0M455.8,1779.3h0M456.1,1768.1h0M456.4,1731.5h0M456.0,1764.5h0M456.5,1778.7h0M456.7,1784.1h0M456.4,1798.6h0M456.9,1761.5h0M457.3,1777.0h0M457.0,1768.3h0M457.3,1789.2h0M457.5,1778.5h0M457.7,1781.5h0M457.9,1774.9h0M457.6,1768.9h0M457.9,1779.7h0M458.4,1777.5h0M458.0,1757.3h0M458.4,1780.7h0M458.5,1776.6h0M458.9,1809.5h0M458.7,1782.5h0M458.6,1757.3h0M458.8,1766.6h0M459.2,1763.9h0M458.8,1778.3h0M459.2,1765.5h0M459.4,1784.2h0M459.6,1775.6h0M459.8,1776.0h0M459.9,1783.6h0M460.0,1754.3h0M460.1,1760.3h0M460.1,1779.3h0M460.7,1767.4h0M460.4,1775.5h0M460.4,1718.5h0M460.7,1768.9h0M461.1,1766.4h0M461.2,1784.0h0M460.9,1779.6h0M461.1,1776.8h0M461.8,1758.0h0M461.4,1781.3h0M461.7,1777.1h0M461.4,1790.7h0M462.1,1768.4h0M461.9,1781.5h0M462.0,1773.9h0M461.9,1782.2h0M462.4,1805.7h0M462.6,1774.9h0M462.8,1779.4h0M462.7,1780.3h0M463.2,1778.0h0M463.2,1778.3h0M462.9,1778.3h0M462.9,1766.5h0M463.4,1754.7h0M463.5,1766.6h0M463.5,1772.3h0M464.2,1770.2h0M463.9,1763.3h0M464.0,1771.7h0M463.8,1773.8h0M464.5,1781.4h0M464.8,1788.9h0M464.6,1780.0h0M465.2,1772.6h0M464.9,1775.6h0M465.2,1768.5h0M464.9,1756.6h0M465.7,1781.0h0M465.7,1768.1h0M465.6,1769.9h0M466.1,1780.8h0M466.2,1768.4h0M465.9,1778.9h0M466.7,1776.7h0M466.6,1770.3h0M466.7,1772.1h0M466.9,1777.6h0M467.0,1772.6h0M467.2,1770.9h0M467.0,1782.0h0M467.5,1779.8h0M467.7,1772.4h0M467.7,1782.8h0M467.8,1757.7h0M468.2,1776.1h0M468.3,1778.0h0M468.2,1769.1h0M468.7,1773.4h0M468.7,1761.9h0M468.4,1766.2h0M468.7,1753.9h0M469.0,1778.6h0M468.9,1769.2h0M469.3,1774.9h0M469.3,1756.7h0M469.7,1754.2h0M469.6,1781.2h0M470.0,1745.4h0M470.2,1767.4h0M470.0,1766.0h0M469.9,1761.9h0M470.8,1770.6h0M470.5,1779.5h0M470.5,1755.3h0M470.8,1766.6h0M470.8,1771.2h0M470.8,1762.8h0M471.7,1769.7h0M471.6,1755.3h0M471.7,1754.7h0M472.1,1760.0h0M471.8,1772.5h0M472.0,1793.1h0M472.3,1755.6h0M472.4,1765.4h0M472.4,1762.8h0M472.7,1753.8h0M472.7,1789.7h0M473.3,1756.4h0M473.0,1760.1h0M473.2,1775.0h0M473.8,1768.6h0M473.7,1764.7h0M473.5,1806.9h0M473.4,1765.1h0M474.2,1768.1h0M474.1,1760.9h0M474.1,1761.8h0M473.9,1762.3h0M474.4,1776.8h0M474.4,1771.8h0M474.3,1762.7h0M475.0,1754.0h0M475.1,1760.3h0M475.1,1730.5h0M475.0,1766.6h0M475.4,1769.0h0M475.6,1753.8h0M475.7,1762.7h0M475.9,1771.9h0M475.9,1759.8h0M476.0,1771.8h0M476.7,1763.7h0M476.6,1760.1h0M476.6,1791.0h0M476.6,1761.7h0M477.1,1761.6h0M477.3,1758.3h0M477.3,1754.1h0M477.7,1768.8h0M477.4,1756.1h0M477.7,1778.5h0M477.6,1752.0h0M478.1,1774.9h0M478.0,1765.4h0M477.8,1755.8h0M478.2,1753.8h0M478.7,1771.7h0M478.7,1756.9h0M478.7,1757.6h0M479.1,1750.1h0M478.7,1775.5h0M479.0,1769.0h0M479.2,1755.2h0M479.2,1759.5h0M479.4,1757.3h0M479.7,1762.6h0M479.9,1766.6h0M479.8,1754.0h0M479.7,1798.3h0M480.2,1762.0h0M480.3,1778.7h0M480.1,1776.4h0M480.4,1769.8h0M480.7,1760.6h0M481.0,1771.5h0M480.7,1754.5h0M481.1,1754.8h0M481.3,1770.3h0M481.6,1777.3h0M481.5,1759.3h0M481.7,1765.5h0M481.8,1800.9h0M481.8,1771.8h0M481.9,1771.7h0M482.3,1763.4h0M482.3,1771.3h0M482.3,1768.3h0M482.5,1760.4h0M482.6,1820.8h0M482.7,1759.4h0M482.8,1754.0h0M483.2,1774.4h0M483.5,1765.5h0M483.2,1746.0h0M483.2,1752.2h0M483.8,1765.2h0M483.9,1762.8h0M483.6,1767.6h0M484.3,1767.8h0M484.2,1774.5h0M484.1,1775.9h0M484.8,1798.3h0M485.0,1778.6h0M484.8,1765.7h0M485.0,1767.9h0M485.4,1767.1h0M485.2,1754.3h0M485.6,1770.8h0M485.8,1728.7h0M486.0,1762.4h0M485.6,1770.0h0M486.2,1771.9h0M486.5,1776.7h0M486.3,1763.2h0M486.6,1770.3h0M486.7,1771.7h0M486.6,1770.1h0M487.1,1788.6h0M487.2,1767.9h0M487.1,1777.3h0M487.7,1778.1h0M488.0,1766.4h0M488.0,1771.8h0M488.3,1768.8h0M488.1,1763.5h0M488.3,1770.2h0M488.8,1773.0h0M489.0,1764.0h0M488.8,1798.7h0M489.4,1751.3h0M489.1,1775.4h0M489.2,1754.0h0M489.6,1783.9h0M489.8,1755.9h0M490.0,1762.7h0M490.5,1766.9h0M490.2,1769.5h0M490.4,1770.5h0M490.7,1769.2h0M490.7,1760.2h0M490.6,1750.2h0M491.3,1763.6h0M491.4,1772.5h0M491.4,1767.6h0M491.7,1762.6h0M491.6,1771.2h0M491.8,1763.5h0M492.2,1758.4h0M492.6,1753.8h0M492.5,1764.7h0M493.1,1765.0h0M492.9,1770.8h0M493.0,1761.7h0M493.1,1768.0h0M493.2,1763.3h0M493.1,1760.7h0M493.8,1776.7h0M493.9,1753.8h0M493.9,1764.9h0M494.1,1767.5h0M494.4,1749.1h0M494.3,1777.0h0M494.7,1749.4h0M495.0,1762.6h0M494.8,1776.8h0M495.1,1757.3h0M495.4,1754.7h0M495.3,1765.7h0M495.7,1754.4h0M495.6,1761.8h0M495.8,1752.1h0M496.6,1768.9h0M496.5,1764.4h0M496.3,1770.7h0M496.9,1754.9h0M496.6,1753.4h0M496.9,1767.3h0M497.4,1760.0h0M497.4,1769.9h0M497.2,1772.6h0M497.7,1761.7h0M498.0,1776.0h0M497.8,1765.9h0M498.1,1756.1h0M498.5,1763.5h0M498.5,1758.1h0M498.7,1748.1h0M498.7,1766.4h0M498.8,1766.0h0M499.1,1763.2h0M499.1,1765.9h0M499.5,1781.7h0M499.8,1745.7h0M499.8,1745.7h0M500.0,1757.2h0M500.2,1758.9h0M500.1,1772.1h0M500.7,1769.7h0M500.4,1762.5h0M501.1,1759.8h0M501.2,1758.6h0M501.1,1765.3h0M501.5,1743.4h0M501.7,1747.6h0M502.0,1763.9h0M501.9,1757.1h0M502.5,1741.1h0M502.8,1762.4h0M503.2,1758.0h0M502.9,1755.1h0M503.5,1748.1h0M503.6,1758.0h0M504.0,1761.5h0M504.2,1757.9h0M504.6,1755.1h0M504.4,1756.0h0M504.9,1751.0h0M504.8,1748.9h0M505.5,1752.0h0M505.5,1752.4h0M505.9,1757.3h0M506.6,1750.0h0M506.7,1748.5h0M506.9,1751.4h0M507.3,1756.1h0M507.4,1763.2h0M508.0,1754.4h0M508.0,1741.8h0M508.3,1740.4h0M509.2,1752.6h0M509.5,1760.3h0M510.2,1762.4h0M510.6,1768.8h0M510.8,1712.9h0M511.3,1752.4h0M512.0,1736.2h0M512.2,1756.8h0M513.0,1773.0h0M513.5,1757.4h0M514.0,1748.2h0M514.3,1727.7h0M515.0,1750.3h0M515.3,1735.1h0M515.9,1759.6h0M516.4,1725.1h0M517.2,1750.0h0M517.3,1746.3h0M517.7,1721.0h0M518.4,1686.6h0M519.0,1739.1h0M519.5,1731.9h0M519.8,1733.1h0M520.6,1742.2h0M520.7,1743.1h0M521.4,1726.6h0M521.7,1748.5h0M522.4,1755.9h0M523.1,1753.2h0M523.3,1753.5h0M523.7,1723.0h0M524.4,1732.0h0M524.8,1722.8h0M525.3,1744.2h0M525.8,1739.3h0M525.6,1736.8h0M526.4,1732.2h0M526.8,1731.5h0M527.3,1728.3h0M528.0,1710.7h0M528.2,1713.3h0M528.9,1739.7h0M529.3,1749.7h0M529.4,1741.9h0M530.0,1723.7h0M530.4,1731.0h0M530.6,1732.1h0M531.4,1732.7h0M531.6,1743.8h0M532.3,1731.3h0M532.9,1728.7h0M533.3,1722.9h0M533.9,1731.0h0M534.6,1725.0h0M534.9,1722.6h0M535.6,1682.4h0M535.5,1717.7h0M535.6,1735.1h0M536.3,1694.5h0M536.9,1729.5h0M536.8,1723.2h0M537.3,1718.4h0M538.0,1707.2h0M537.6,1740.2h0M538.5,1709.3h0M538.6,1693.8h0M538.9,1722.2h0M539.2,1745.1h0M539.9,1788.0h0M540.4,1716.7h0M540.7,1719.7h0M541.4,1709.2h0M541.2,1705.9h0M541.8,1727.7h0M541.7,1665.2h0M542.4,1729.7h0M542.7,1714.3h0M543.3,1741.2h0M544.0,1686.3h0M544.2,1691.9h0M545.0,1709.3h0M544.9,1707.5h0M545.5,1717.2h0M545.9,1717.5h0M546.1,1730.8h0M547.1,1681.5h0M547.3,1729.7h0M547.3,1700.4h0M547.6,1688.6h0M548.1,1703.1h0M548.8,1724.8h0M549.3,1689.0h0M550.0,1742.9h0M550.3,1705.8h0M550.2,1707.4h0M550.7,1713.3h0M551.5,1722.5h0M551.8,1682.3h0M551.8,1681.6h0M552.1,1707.1h0M553.0,1738.3h0M553.1,1698.7h0M553.9,1708.7h0M554.2,1684.2h0M555.0,1699.2h0M555.4,1689.1h0M555.3,1733.8h0M555.8,1723.7h0M556.3,1672.8h0M556.6,1737.1h0M557.3,1710.8h0M557.7,1682.9h0M558.1,1695.4h0M558.6,1735.9h0M558.4,1704.8h0M558.9,1718.4h0M558.7,1714.4h0M559.3,1706.4h0M560.1,1704.3h0M560.5,1733.9h0M560.9,1733.0h0M561.5,1706.3h0M561.6,1729.4h0M561.6,1704.0h0M562.4,1710.4h0M563.0,1690.4h0M563.3,1722.2h0M563.9,1695.4h0M563.8,1702.0h0M564.2,1702.7h0M564.9,1694.3h0M565.2,1695.2h0M565.9,1704.7h0M566.6,1733.9h0M567.0,1694.2h0M567.3,1673.9h0M567.5,1671.1h0M567.7,1700.2h0M568.4,1714.4h0M569.1,1695.3h0M568.6,1691.5h0M569.5,1678.7h0M569.5,1704.7h0M569.9,1694.5h0M570.0,1691.9h0M570.6,1693.9h0M571.0,1695.7h0M571.1,1686.4h0M571.3,1716.6h0M572.0,1640.6h0M572.4,1715.3h0M572.2,1676.4h0M572.8,1688.3h0M573.4,1670.3h0M573.9,1731.3h0M574.1,1679.9h0M575.0,1671.8h0M575.3,1709.3h0M575.6,1743.3h0M576.2,1674.1h0M576.9,1731.2h0M577.6,1729.1h0M577.6,1685.9h0M577.8,1641.2h0M578.4,1730.9h0M578.7,1676.1h0M579.5,1709.8h0M579.9,1713.4h0M580.6,1696.3h0M581.0,1693.4h0M581.6,1722.1h0M581.4,1724.9h0M582.0,1715.0h0M581.6,1716.0h0M582.3,1728.2h0M582.6,1681.2h0M583.0,1740.1h0M583.2,1704.4h0M583.7,1719.5h0M584.4,1691.7h0M585.0,1685.2h0M584.8,1741.2h0M585.3,1738.6h0M586.1,1738.0h0M586.1,1680.9h0M586.6,1800.7h0M586.9,1680.8h0M587.1,1694.0h0M587.4,1680.8h0M588.1,1724.6h0M587.7,1747.1h0M588.4,1707.8h0M588.5,1715.7h0M588.7,1707.7h0M589.4,1731.2h0M590.0,1721.9h0M590.0,1735.9h0M590.4,1678.2h0M590.2,1718.8h0M591.0,1676.1h0M591.3,1741.6h0M592.0,1681.5h0M592.2,1676.3h0M592.5,1695.6h0M592.7,1733.4h0M593.2,1735.3h0M594.0,1678.0h0M594.2,1713.8h0M594.8,1748.3h0M595.2,1735.7h0M595.2,1725.4h0M595.8,1734.2h0M596.6,1734.5h0M596.7,1677.0h0M597.2,1675.3h0M597.6,1751.8h0M597.9,1723.3h0M597.8,1703.4h0M598.2,1722.1h0M599.1,1682.7h0M598.9,1738.8h0M599.5,1724.3h0M600.1,1722.9h0M600.6,1711.1h0M601.0,1709.8h0M601.0,1718.6h0M601.6,1698.8h0M601.8,1705.0h0M602.4,1675.5h0M602.3,1709.6h0M603.0,1701.9h0M603.2,1705.0h0M603.9,1741.2h0M604.6,1699.8h0M605.0,1714.1h0M604.9,1706.8h0M605.4,1685.4h0M606.1,1750.1h0M605.9,1707.0h0M606.3,1720.6h0M606.7,1725.4h0M606.8,1679.7h0M607.4,1725.6h0M607.1,1695.9h0M607.9,1846.5h0M608.3,1753.5h0M608.5,1743.2h0M609.1,1747.7h0M609.3,1710.5h0M609.2,1708.0h0M609.8,1706.1h0M610.0,1751.3h0M360.6,1823.5h0M361.6,1768.9h0M363.4,1765.4h0M364.8,1813.1h0M369.8,1792.8h0M370.8,1790.0h0M372.2,1820.7h0M372.8,1782.9h0M375.8,1781.9h0M376.2,1782.5h0M381.0,1789.3h0M381.7,1812.1h0M384.6,1795.5h0M386.9,1770.0h0M388.6,1779.9h0M389.3,1775.1h0M389.5,1774.8h0M393.0,1822.8h0M396.3,1818.9h0M397.3,1786.9h0M398.7,1768.3h0M400.2,1781.0h0M402.1,1805.5h0M402.5,1766.5h0M600.4,1713.3h0M600.0,1702.3h0M600.7,1743.9h0M601.4,1714.0h0M601.5,1742.9h0M602.3,1729.0h0M602.0,1738.4h0M602.9,1743.7h0M603.3,1718.0h0M604.0,1673.6h0M604.0,1677.2h0M604.1,1708.5h0M604.0,1778.6h0M604.9,1732.3h0M605.4,1703.5h0M605.8,1692.6h0M606.2,1685.4h0M606.6,1688.8h0M607.2,1672.3h0M607.3,1714.4h0M607.6,1683.4h0M608.3,1706.9h0M608.0,1698.5h0M608.5,1730.8h0M608.6,1676.4h0M609.4,1725.6h0M610.0,1717.7h0M609.9,1732.9h0M610.5,1741.2h0M611.0,1690.1h0M611.3,1712.2h0M611.6,1701.1h0M612.2,1739.2h0M612.1,1702.5h0M612.6,1738.5h0M613.3,1748.8h0M613.1,1749.4h0M613.6,1696.8h0M613.9,1683.4h0M614.2,1710.9h0M614.6,1687.8h0M615.2,1701.2h0M615.6,1687.8h0M615.9,1675.1h0M616.5,1691.2h0M616.9,1740.2h0M617.3,1724.3h0M617.8,1721.3h0M617.6,1742.4h0M618.1,1759.3h0M618.8,1730.1h0M619.2,1677.4h0M619.6,1729.1h0M619.6,1718.5h0M620.2,1707.0h0M620.8,1707.1h0M620.6,1695.9h0M621.1,1700.7h0M621.4,1680.7h0M621.6,1753.5h0M621.9,1707.6h0M622.0,1695.1h0M622.4,1714.4h0M622.4,1783.7h0M622.8,1748.0h0M623.5,1766.3h0M623.7,1789.8h0M624.7,1779.6h0M624.8,1760.1h0M625.5,1730.9h0M625.9,1794.1h0M626.5,1741.8h0M627.0,1796.1h0M627.9,1786.1h0M628.7,1739.4h0M628.9,1726.8h0M629.4,1722.5h0M630.5,1739.1h0M630.9,1739.9h0M631.6,1792.1h0M631.9,1795.5h0M632.4,1765.5h0M632.9,1784.1h0M633.5,1748.1h0M633.9,1734.2h0M634.7,1790.8h0M635.2,1789.8h0M635.4,1787.8h0M635.8,1757.0h0M636.5,1764.1h0M636.9,1756.5h0M637.8,1744.8h0M638.5,1668.3h0M638.8,1773.1h0M639.7,1768.5h0M640.7,1751.8h0M641.2,1741.1h0M641.6,1786.6h0M642.1,1784.3h0M642.6,1647.2h0M643.1,1729.9h0M643.3,1772.0h0M644.5,1788.6h0M645.0,1777.4h0M645.4,1737.9h0M645.7,1755.1h0M646.4,1743.6h0M647.0,1724.6h0M647.4,1737.2h0M647.8,1705.1h0M648.6,1721.9h0M649.0,1794.3h0M649.5,1787.0h0M650.2,1747.3h0M650.2,1728.6h0M650.6,1781.7h0M650.7,1748.1h0M650.7,1784.9h0M651.2,1763.7h0M651.3,1784.3h0M652.0,1746.2h0M651.7,1750.1h0M651.7,1749.5h0M652.4,1727.5h0M652.4,1782.4h0M652.2,1778.6h0M652.7,1734.3h0M652.9,1748.8h0M653.3,1768.1h0M653.2,1787.1h0M654.1,1779.0h0M653.7,1756.3h0M654.2,1746.3h0M654.3,1773.7h0M654.8,1776.8h0M655.1,1755.5h0M655.5,1784.7h0M655.6,1732.0h0M655.5,1732.5h0M655.9,1822.1h0M656.0,1754.7h0M656.3,1762.0h0M656.4,1759.3h0M656.2,1763.0h0M656.8,1732.0h0M656.9,1783.6h0M656.9,1773.3h0M657.5,1730.8h0M657.5,1769.4h0M657.9,1758.0h0M658.5,1730.8h0M658.3,1779.2h0M658.8,1792.9h0M658.7,1739.2h0M659.1,1772.3h0M659.5,1859.2h0M659.2,1775.6h0M659.8,1749.9h0M659.7,1764.7h0M660.6,1760.9h0M660.2,1760.0h0M660.9,1747.6h0M661.0,1788.0h0M661.2,1778.8h0M661.3,1725.9h0M661.7,1745.1h0M661.9,1752.6h0M662.3,1733.7h0M662.5,1782.5h0M662.7,1749.0h0M662.9,1740.4h0M663.1,1760.1h0M663.2,1771.9h0M663.3,1766.0h0M664.0,1782.2h0M664.1,1751.2h0M663.8,1766.9h0M664.4,1772.2h0M664.5,1769.3h0M664.5,1778.5h0M664.8,1751.7h0M664.9,1778.8h0M664.9,1766.0h0M665.3,1731.8h0M665.3,1773.9h0M666.0,1750.2h0M666.0,1738.1h0M665.7,1760.2h0M666.5,1788.2h0M666.4,1734.1h0M666.8,1795.3h0M667.0,1737.1h0M666.7,1780.4h0M667.5,1791.8h0M667.2,1755.0h0M667.3,1687.0h0M667.8,1743.9h0M667.9,1831.7h0M668.5,1773.1h0M668.3,1777.9h0M669.0,1758.5h0M668.7,1758.6h0M669.1,1745.4h0M669.4,1787.5h0M669.4,1792.2h0M669.7,1768.1h0M670.1,1769.9h0M669.7,1766.4h0M670.4,1786.1h0M670.3,1751.7h0M670.3,1780.2h0M670.8,1744.3h0M671.0,1763.7h0M670.9,1795.1h0M671.4,1772.0h0M671.4,1754.4h0M672.0,1782.3h0M672.1,1786.6h0M672.3,1782.3h0M672.3,1745.5h0M672.2,1765.4h0M672.7,1744.8h0M673.1,1759.3h0M673.5,1772.3h0M673.3,1746.4h0M673.2,1778.3h0M674.1,1790.5h0M673.9,1785.1h0M674.6,1748.4h0M674.5,1778.8h0M675.1,1758.6h0M674.7,1791.9h0M675.4,1781.8h0M675.6,1727.4h0M675.8,1726.1h0M675.9,1776.3h0M676.1,1791.6h0M676.6,1774.4h0M676.6,1794.0h0M676.3,1727.6h0M677.0,1767.0h0M676.8,1760.9h0M677.0,1742.4h0M677.6,1770.1h0M677.2,1790.0h0M677.3,1750.1h0M678.1,1736.4h0M677.7,1726.7h0M678.4,1740.4h0M678.3,1728.2h0M678.6,1741.9h0M679.1,1738.6h0M678.8,1788.2h0M679.3,1764.0h0M679.3,1757.9h0M679.6,1753.5h0M680.0,1769.9h0M679.8,1776.6h0M680.4,1742.6h0M680.3,1782.7h0M680.5,1757.5h0M681.1,1766.1h0M680.9,1791.1h0M680.8,1737.2h0M681.6,1761.2h0M681.4,1814.0h0M681.8,1737.7h0M682.1,1791.5h0M682.4,1736.6h0M682.4,1748.8h0M682.4,1737.6h0M682.7,1765.6h0M683.0,1772.5h0M683.5,1766.8h0M683.3,1741.6h0M683.7,1768.2h0M683.8,1795.6h0M684.3,1736.4h0M684.5,1777.3h0M684.7,1784.9h0M685.1,1792.7h0M685.2,1779.0h0M685.3,1732.1h0M685.5,1763.0h0M686.1,1784.2h0M685.9,1786.7h0M686.1,1784.9h0M686.3,1756.1h0M686.2,1746.3h0M686.2,1778.8h0M686.9,1748.2h0M686.9,1732.0h0M687.4,1738.6h0M687.2,1759.2h0M687.7,1735.2h0M688.1,1734.2h0M688.0,1744.4h0M688.2,1756.9h0M688.3,1799.8h0M688.9,1785.1h0M688.7,1774.0h0M689.4,1782.2h0M689.3,1793.0h0M689.8,1735.6h0M689.7,1751.2h0M689.7,1740.3h0M690.6,1738.4h0M690.5,1769.7h0M691.0,1753.3h0M690.9,1746.8h0M691.2,1757.8h0M691.4,1743.2h0M691.9,1733.7h0M691.8,1745.3h0M692.3,1792.5h0M692.6,1759.8h0M693.1,1737.1h0M693.1,1767.7h0M274.1,1664.5h0M288.5,1669.0h0M288.5,1676.9h0M272.9,1684.3h0M324.0,1684.3h0M333.9,1684.3h0M340.1,1683.1h0M238.8,1833.0h0M186.2,1823.1h0M196.8,1819.7h0M267.2,1795.0h0M283.3,1800.4h0M296.9,1802.9h0M594.2,1629.9h0M593.4,1660.8h0M377.8,1702.1h0M383.5,1712.7h0M420.5,1718.9h0M420.5,1725.0h0M561.3,1828.8h0M577.4,1807.8h0M546.5,1812.7h0M450.9,1831.3h0M427.9,1825.1h0M650.6,1832.5h0M660.5,1828.8h0M674.1,1820.2h0M690.2,1821.4h0M623.5,1818.9h0M609.9,1673.2h0M663.0,1679.3h0M663.0,1685.5h0M676.1,1700.3h0M691.4,1722.6h0" stroke="#808080" stroke-width="2.8" stroke-linecap="round" fill="none"/>
<circle cx="144.2" cy="1800.9" r="6.3" fill="none" stroke="#0000c8" stroke-width="1.2"/><circle cx="144.2" cy="1804.1" r="6.3" fill="none" stroke="#0000c8" stroke-width="1.2"/><circle cx="166.7" cy="1739.9" r="6.3" fill="none" stroke="#0000c8" stroke-width="1.2"/><circle cx="166.7" cy="1743.6" r="6.3" fill="none" stroke="#0000c8" stroke-width="1.2"/><circle cx="196.3" cy="1753.5" r="6.3" fill="none" stroke="#0000c8" stroke-width="1.2"/><circle cx="196.3" cy="1760.4" r="6.3" fill="none" stroke="#0000c8" stroke-width="1.2"/><circle cx="196.3" cy="1766.3" r="6.3" fill="none" stroke="#0000c8" stroke-width="1.2"/><circle cx="236.8" cy="1735.7" r="6.3" fill="none" stroke="#0000c8" stroke-width="1.2"/><circle cx="236.8" cy="1739.9" r="6.3" fill="none" stroke="#0000c8" stroke-width="1.2"/><circle cx="272.7" cy="1726.3" r="6.3" fill="none" stroke="#0000c8" stroke-width="1.2"/><circle cx="272.7" cy="1727.5" r="6.3" fill="none" stroke="#0000c8" stroke-width="1.2"/><circle cx="305.0" cy="1753.0" r="6.3" fill="none" stroke="#0000c8" stroke-width="1.2"/><circle cx="305.0" cy="1754.0" r="6.3" fill="none" stroke="#0000c8" stroke-width="1.2"/><circle cx="332.9" cy="1754.7" r="6.3" fill="none" stroke="#0000c8" stroke-width="1.2"/><circle cx="332.9" cy="1760.9" r="6.3" fill="none" stroke="#0000c8" stroke-width="1.2"/><circle cx="397.1" cy="1791.8" r="6.3" fill="none" stroke="#0000c8" stroke-width="1.2"/><circle cx="397.1" cy="1803.4" r="6.3" fill="none" stroke="#0000c8" stroke-width="1.2"/><circle cx="413.9" cy="1791.0" r="6.3" fill="none" stroke="#0000c8" stroke-width="1.2"/><circle cx="413.9" cy="1795.5" r="6.3" fill="none" stroke="#0000c8" stroke-width="1.2"/><circle cx="413.9" cy="1799.9" r="6.3" fill="none" stroke="#0000c8" stroke-width="1.2"/><circle cx="437.1" cy="1778.2" r="6.3" fill="none" stroke="#0000c8" stroke-width="1.2"/><circle cx="437.1" cy="1781.9" r="6.3" fill="none" stroke="#0000c8" stroke-width="1.2"/><circle cx="437.1" cy="1797.4" r="6.3" fill="none" stroke="#0000c8" stroke-width="1.2"/><circle cx="472.4" cy="1796.7" r="6.3" fill="none" stroke="#0000c8" stroke-width="1.2"/><circle cx="472.4" cy="1805.3" r="6.3" fill="none" stroke="#0000c8" stroke-width="1.2"/><circle cx="472.4" cy="1807.8" r="6.3" fill="none" stroke="#0000c8" stroke-width="1.2"/><circle cx="502.8" cy="1739.9" r="6.3" fill="none" stroke="#0000c8" stroke-width="1.2"/><circle cx="502.8" cy="1746.0" r="6.3" fill="none" stroke="#0000c8" stroke-width="1.2"/><circle cx="502.8" cy="1749.8" r="6.3" fill="none" stroke="#0000c8" stroke-width="1.2"/><circle cx="638.3" cy="1807.3" r="6.3" fill="none" stroke="#0000c8" stroke-width="1.2"/><circle cx="638.3" cy="1814.0" r="6.3" fill="none" stroke="#0000c8" stroke-width="1.2"/><circle cx="638.3" cy="1817.2" r="6.3" fill="none" stroke="#0000c8" stroke-width="1.2"/><circle cx="760.6" cy="1777.7" r="6.3" fill="none" stroke="#0000c8" stroke-width="1.2"/><circle cx="760.6" cy="1801.6" r="6.3" fill="none" stroke="#0000c8" stroke-width="1.2"/><circle cx="814.2" cy="1780.1" r="6.3" fill="none" stroke="#0000c8" stroke-width="1.2"/><circle cx="814.2" cy="1841.2" r="6.3" fill="none" stroke="#0000c8" stroke-width="1.2"/><circle cx="814.2" cy="1852.8" r="6.3" fill="none" stroke="#0000c8" stroke-width="1.2"/>
<circle cx="144.2" cy="1745.3" r="6.3" fill="none" stroke="#00c000" stroke-width="2.9"/><circle cx="144.2" cy="1746.3" r="6.3" fill="none" stroke="#00c000" stroke-width="2.9"/><circle cx="166.7" cy="1856.0" r="6.3" fill="none" stroke="#00c000" stroke-width="2.9"/><circle cx="196.3" cy="1849.3" r="6.3" fill="none" stroke="#00c000" stroke-width="2.9"/><circle cx="196.3" cy="1869.6" r="6.3" fill="none" stroke="#00c000" stroke-width="2.9"/><circle cx="236.8" cy="1743.6" r="6.3" fill="none" stroke="#00c000" stroke-width="2.9"/><circle cx="236.8" cy="1790.5" r="6.3" fill="none" stroke="#00c000" stroke-width="2.9"/><circle cx="272.7" cy="1741.1" r="6.3" fill="none" stroke="#00c000" stroke-width="2.9"/><circle cx="272.7" cy="1746.0" r="6.3" fill="none" stroke="#00c000" stroke-width="2.9"/><circle cx="305.0" cy="1842.4" r="6.3" fill="none" stroke="#00c000" stroke-width="2.9"/><circle cx="305.0" cy="1844.4" r="6.3" fill="none" stroke="#00c000" stroke-width="2.9"/><circle cx="332.9" cy="1804.8" r="6.3" fill="none" stroke="#00c000" stroke-width="2.9"/><circle cx="332.9" cy="1821.4" r="6.3" fill="none" stroke="#00c000" stroke-width="2.9"/><circle cx="413.9" cy="1747.8" r="6.3" fill="none" stroke="#00c000" stroke-width="2.9"/><circle cx="413.9" cy="1761.4" r="6.3" fill="none" stroke="#00c000" stroke-width="2.9"/><circle cx="397.1" cy="1837.5" r="6.3" fill="none" stroke="#00c000" stroke-width="2.9"/><circle cx="397.1" cy="1843.6" r="6.3" fill="none" stroke="#00c000" stroke-width="2.9"/><circle cx="397.1" cy="1848.6" r="6.3" fill="none" stroke="#00c000" stroke-width="2.9"/><circle cx="437.1" cy="1906.6" r="6.3" fill="none" stroke="#00c000" stroke-width="2.9"/><circle cx="437.1" cy="1926.9" r="6.3" fill="none" stroke="#00c000" stroke-width="2.9"/><circle cx="472.4" cy="1881.9" r="6.3" fill="none" stroke="#00c000" stroke-width="2.9"/><circle cx="472.4" cy="1886.4" r="6.3" fill="none" stroke="#00c000" stroke-width="2.9"/><circle cx="472.4" cy="1889.3" r="6.3" fill="none" stroke="#00c000" stroke-width="2.9"/><circle cx="502.8" cy="1823.9" r="6.3" fill="none" stroke="#00c000" stroke-width="2.9"/><circle cx="502.8" cy="1828.8" r="6.3" fill="none" stroke="#00c000" stroke-width="2.9"/><circle cx="502.8" cy="1833.7" r="6.3" fill="none" stroke="#00c000" stroke-width="2.9"/><circle cx="638.3" cy="1849.8" r="6.3" fill="none" stroke="#00c000" stroke-width="2.9"/><circle cx="638.3" cy="1854.7" r="6.3" fill="none" stroke="#00c000" stroke-width="2.9"/><circle cx="638.3" cy="1859.7" r="6.3" fill="none" stroke="#00c000" stroke-width="2.9"/><circle cx="638.3" cy="1862.2" r="6.3" fill="none" stroke="#00c000" stroke-width="2.9"/><circle cx="760.6" cy="1759.1" r="6.3" fill="none" stroke="#00c000" stroke-width="2.9"/><circle cx="760.6" cy="1781.9" r="6.3" fill="none" stroke="#00c000" stroke-width="2.9"/><circle cx="760.6" cy="1785.6" r="6.3" fill="none" stroke="#00c000" stroke-width="2.9"/><circle cx="760.6" cy="1788.5" r="6.3" fill="none" stroke="#00c000" stroke-width="2.9"/><circle cx="814.2" cy="1757.7" r="6.3" fill="none" stroke="#00c000" stroke-width="2.9"/><circle cx="814.2" cy="1772.0" r="6.3" fill="none" stroke="#00c000" stroke-width="2.9"/>
<text x="0" y="24.2" class="pl">A</text>
<path d="M119.0,18.0V366.2H996.0" fill="none" stroke="#1a1a1a" stroke-width="1.5"/>
<text x="109.3" y="372.1" class="tl">7.95</text>
<text x="109.3" y="335.5" class="tl">7.97</text>
<text x="109.3" y="298.9" class="tl">7.99</text>
<text x="109.3" y="262.4" class="tl">8.01</text>
<text x="109.3" y="225.8" class="tl">8.03</text>
<text x="109.3" y="189.2" class="tl">8.05</text>
<text x="109.3" y="152.6" class="tl">8.07</text>
<text x="109.3" y="116.1" class="tl">8.09</text>
<text x="109.3" y="79.5" class="tl">8.11</text>
<text x="109.3" y="42.9" class="tl">8.13</text>
<text transform="translate(151.0,390.0) rotate(-45)" class="xl">Dec20</text>
<text transform="translate(179.4,390.0) rotate(-45)" class="xl">Jan21</text>
<text transform="translate(207.7,390.0) rotate(-45)" class="xl">Feb21</text>
<text transform="translate(236.1,390.0) rotate(-45)" class="xl">Mar21</text>
<text transform="translate(264.4,390.0) rotate(-45)" class="xl">Apr21</text>
<text transform="translate(292.8,390.0) rotate(-45)" class="xl">May21</text>
<text transform="translate(321.2,390.0) rotate(-45)" class="xl">Jun21</text>
<text transform="translate(349.5,390.0) rotate(-45)" class="xl">Jul21</text>
<text transform="translate(371.9,396.0) rotate(-45)" class="xl">Aug21</text>
<text transform="translate(406.2,390.0) rotate(-45)" class="xl">Sep21</text>
<text transform="translate(434.6,390.0) rotate(-45)" class="xl">Oct21</text>
<text transform="translate(457.0,396.0) rotate(-45)" class="xl">Nov21</text>
<text transform="translate(491.3,390.0) rotate(-45)" class="xl">Dec21</text>
<text transform="translate(519.7,390.0) rotate(-45)" class="xl">Jan22</text>
<text transform="translate(548.0,390.0) rotate(-45)" class="xl">Feb22</text>
<text transform="translate(576.4,390.0) rotate(-45)" class="xl">Mar22</text>
<text transform="translate(598.8,396.0) rotate(-45)" class="xl">Apr22</text>
<text transform="translate(627.1,396.0) rotate(-45)" class="xl">May22</text>
<text transform="translate(655.5,396.0) rotate(-45)" class="xl">Jun22</text>
<text transform="translate(683.8,396.0) rotate(-45)" class="xl">Jul22</text>
<text transform="translate(712.2,396.0) rotate(-45)" class="xl">Aug22</text>
<text transform="translate(740.6,396.0) rotate(-45)" class="xl">Sep22</text>
<text transform="translate(768.9,396.0) rotate(-45)" class="xl">Oct22</text>
<text transform="translate(797.3,396.0) rotate(-45)" class="xl">Nov22</text>
<text transform="translate(825.6,396.0) rotate(-45)" class="xl">Dec22</text>
<text transform="translate(854.0,396.0) rotate(-45)" class="xl">Jan23</text>
<text transform="translate(882.4,396.0) rotate(-45)" class="xl">Feb23</text>
<text transform="translate(910.7,396.0) rotate(-45)" class="xl">Mar23</text>
<text transform="translate(945.1,390.0) rotate(-45)" class="xl">Apr23</text>
<text transform="translate(973.4,390.0) rotate(-45)" class="xl">May23</text>
<path d="M112.2,366.2H119.0M112.2,329.6H119.0M112.2,293.0H119.0M112.2,256.5H119.0M112.2,219.9H119.0M112.2,183.3H119.0M112.2,146.7H119.0M112.2,110.2H119.0M112.2,73.6H119.0M112.2,37.0H119.0M147.3,366.2v7.4M175.7,366.2v7.4M204.0,366.2v7.4M232.4,366.2v7.4M260.7,366.2v7.4M289.1,366.2v7.4M317.5,366.2v7.4M345.8,366.2v7.4M374.2,366.2v7.4M402.5,366.2v7.4M430.9,366.2v7.4M459.3,366.2v7.4M487.6,366.2v7.4M516.0,366.2v7.4M544.3,366.2v7.4M572.7,366.2v7.4M601.1,366.2v7.4M629.4,366.2v7.4M657.8,366.2v7.4M686.1,366.2v7.4M714.5,366.2v7.4M742.9,366.2v7.4M771.2,366.2v7.4M799.6,366.2v7.4M827.9,366.2v7.4M856.3,366.2v7.4M884.7,366.2v7.4M913.0,366.2v7.4M941.4,366.2v7.4M969.7,366.2v7.4" stroke="#1a1a1a" stroke-width="1.5" fill="none"/>
<text x="557" y="457.2" class="at" text-anchor="middle">Time (month)</text>
<text transform="translate(34.0,192.1) rotate(-90)" class="at" text-anchor="middle">pH total scale</text>
<text x="0" y="539" class="pl">B</text>
<path d="M119.0,555.6V902.6H996.0" fill="none" stroke="#1a1a1a" stroke-width="1.5"/>
<text x="109.3" y="908.5" class="tl">340</text>
<text x="109.3" y="868.9" class="tl">360</text>
<text x="109.3" y="829.2" class="tl">380</text>
<text x="109.3" y="789.6" class="tl">400</text>
<text x="109.3" y="750.0" class="tl">420</text>
<text x="109.3" y="710.4" class="tl">440</text>
<text x="109.3" y="670.8" class="tl">460</text>
<text x="109.3" y="631.1" class="tl">480</text>
<text x="109.3" y="591.5" class="tl">500</text>
<text transform="translate(151.0,926.4) rotate(-45)" class="xl">Dec20</text>
<text transform="translate(179.4,926.4) rotate(-45)" class="xl">Jan21</text>
<text transform="translate(207.7,926.4) rotate(-45)" class="xl">Feb21</text>
<text transform="translate(236.1,926.4) rotate(-45)" class="xl">Mar21</text>
<text transform="translate(264.4,926.4) rotate(-45)" class="xl">Apr21</text>
<text transform="translate(292.8,926.4) rotate(-45)" class="xl">May21</text>
<text transform="translate(321.2,926.4) rotate(-45)" class="xl">Jun21</text>
<text transform="translate(349.5,926.4) rotate(-45)" class="xl">Jul21</text>
<text transform="translate(371.9,932.4) rotate(-45)" class="xl">Aug21</text>
<text transform="translate(406.2,926.4) rotate(-45)" class="xl">Sep21</text>
<text transform="translate(434.6,926.4) rotate(-45)" class="xl">Oct21</text>
<text transform="translate(457.0,932.4) rotate(-45)" class="xl">Nov21</text>
<text transform="translate(491.3,926.4) rotate(-45)" class="xl">Dec21</text>
<text transform="translate(519.7,926.4) rotate(-45)" class="xl">Jan22</text>
<text transform="translate(548.0,926.4) rotate(-45)" class="xl">Feb22</text>
<text transform="translate(576.4,926.4) rotate(-45)" class="xl">Mar22</text>
<text transform="translate(598.8,932.4) rotate(-45)" class="xl">Apr22</text>
<text transform="translate(627.1,932.4) rotate(-45)" class="xl">May22</text>
<text transform="translate(655.5,932.4) rotate(-45)" class="xl">Jun22</text>
<text transform="translate(683.8,932.4) rotate(-45)" class="xl">Jul22</text>
<text transform="translate(712.2,932.4) rotate(-45)" class="xl">Aug22</text>
<text transform="translate(740.6,932.4) rotate(-45)" class="xl">Sep22</text>
<text transform="translate(768.9,932.4) rotate(-45)" class="xl">Oct22</text>
<text transform="translate(797.3,932.4) rotate(-45)" class="xl">Nov22</text>
<text transform="translate(825.6,932.4) rotate(-45)" class="xl">Dec22</text>
<text transform="translate(854.0,932.4) rotate(-45)" class="xl">Jan23</text>
<text transform="translate(882.4,932.4) rotate(-45)" class="xl">Feb23</text>
<text transform="translate(910.7,932.4) rotate(-45)" class="xl">Mar23</text>
<text transform="translate(945.1,926.4) rotate(-45)" class="xl">Apr23</text>
<text transform="translate(973.4,926.4) rotate(-45)" class="xl">May23</text>
<path d="M112.2,902.6H119.0M112.2,863.0H119.0M112.2,823.4H119.0M112.2,783.7H119.0M112.2,744.1H119.0M112.2,704.5H119.0M112.2,664.9H119.0M112.2,625.2H119.0M112.2,585.6H119.0M147.3,902.6v7.4M175.7,902.6v7.4M204.0,902.6v7.4M232.4,902.6v7.4M260.7,902.6v7.4M289.1,902.6v7.4M317.5,902.6v7.4M345.8,902.6v7.4M374.2,902.6v7.4M402.5,902.6v7.4M430.9,902.6v7.4M459.3,902.6v7.4M487.6,902.6v7.4M516.0,902.6v7.4M544.3,902.6v7.4M572.7,902.6v7.4M601.1,902.6v7.4M629.4,902.6v7.4M657.8,902.6v7.4M686.1,902.6v7.4M714.5,902.6v7.4M742.9,902.6v7.4M771.2,902.6v7.4M799.6,902.6v7.4M827.9,902.6v7.4M856.3,902.6v7.4M884.7,902.6v7.4M913.0,902.6v7.4M941.4,902.6v7.4M969.7,902.6v7.4" stroke="#1a1a1a" stroke-width="1.5" fill="none"/>
<text x="557" y="993.6" class="at" text-anchor="middle">Time (month)</text>
<text transform="translate(57.7,729.1) rotate(-90)" class="at" text-anchor="middle">pCO<tspan font-size="15" dy="3.3">2</tspan><tspan dy="-3.3"> (µatm)</tspan></text>
<text x="0" y="1061.3" class="pl">C</text>
<path d="M119.0,1100.7V1448.3H996.0" fill="none" stroke="#1a1a1a" stroke-width="1.5"/>
<text x="109.3" y="1454.2" class="tl">2600</text>
<text x="109.3" y="1338.3" class="tl">2620</text>
<text x="109.3" y="1222.5" class="tl">2640</text>
<text x="109.3" y="1106.6" class="tl">2660</text>
<text transform="translate(151.0,1472.1) rotate(-45)" class="xl">Dec20</text>
<text transform="translate(179.4,1472.1) rotate(-45)" class="xl">Jan21</text>
<text transform="translate(207.7,1472.1) rotate(-45)" class="xl">Feb21</text>
<text transform="translate(236.1,1472.1) rotate(-45)" class="xl">Mar21</text>
<text transform="translate(264.4,1472.1) rotate(-45)" class="xl">Apr21</text>
<text transform="translate(292.8,1472.1) rotate(-45)" class="xl">May21</text>
<text transform="translate(321.2,1472.1) rotate(-45)" class="xl">Jun21</text>
<text transform="translate(349.5,1472.1) rotate(-45)" class="xl">Jul21</text>
<text transform="translate(371.9,1478.1) rotate(-45)" class="xl">Aug21</text>
<text transform="translate(406.2,1472.1) rotate(-45)" class="xl">Sep21</text>
<text transform="translate(434.6,1472.1) rotate(-45)" class="xl">Oct21</text>
<text transform="translate(457.0,1478.1) rotate(-45)" class="xl">Nov21</text>
<text transform="translate(491.3,1472.1) rotate(-45)" class="xl">Dec21</text>
<text transform="translate(519.7,1472.1) rotate(-45)" class="xl">Jan22</text>
<text transform="translate(548.0,1472.1) rotate(-45)" class="xl">Feb22</text>
<text transform="translate(576.4,1472.1) rotate(-45)" class="xl">Mar22</text>
<text transform="translate(598.8,1478.1) rotate(-45)" class="xl">Apr22</text>
<text transform="translate(627.1,1478.1) rotate(-45)" class="xl">May22</text>
<text transform="translate(655.5,1478.1) rotate(-45)" class="xl">Jun22</text>
<text transform="translate(683.8,1478.1) rotate(-45)" class="xl">Jul22</text>
<text transform="translate(712.2,1478.1) rotate(-45)" class="xl">Aug22</text>
<text transform="translate(740.6,1478.1) rotate(-45)" class="xl">Sep22</text>
<text transform="translate(768.9,1478.1) rotate(-45)" class="xl">Oct22</text>
<text transform="translate(797.3,1478.1) rotate(-45)" class="xl">Nov22</text>
<text transform="translate(825.6,1478.1) rotate(-45)" class="xl">Dec22</text>
<text transform="translate(854.0,1478.1) rotate(-45)" class="xl">Jan23</text>
<text transform="translate(882.4,1478.1) rotate(-45)" class="xl">Feb23</text>
<text transform="translate(910.7,1478.1) rotate(-45)" class="xl">Mar23</text>
<text transform="translate(945.1,1472.1) rotate(-45)" class="xl">Apr23</text>
<text transform="translate(973.4,1472.1) rotate(-45)" class="xl">May23</text>
<path d="M112.2,1448.3H119.0M112.2,1332.4H119.0M112.2,1216.6H119.0M112.2,1100.7H119.0M147.3,1448.3v7.4M175.7,1448.3v7.4M204.0,1448.3v7.4M232.4,1448.3v7.4M260.7,1448.3v7.4M289.1,1448.3v7.4M317.5,1448.3v7.4M345.8,1448.3v7.4M374.2,1448.3v7.4M402.5,1448.3v7.4M430.9,1448.3v7.4M459.3,1448.3v7.4M487.6,1448.3v7.4M516.0,1448.3v7.4M544.3,1448.3v7.4M572.7,1448.3v7.4M601.1,1448.3v7.4M629.4,1448.3v7.4M657.8,1448.3v7.4M686.1,1448.3v7.4M714.5,1448.3v7.4M742.9,1448.3v7.4M771.2,1448.3v7.4M799.6,1448.3v7.4M827.9,1448.3v7.4M856.3,1448.3v7.4M884.7,1448.3v7.4M913.0,1448.3v7.4M941.4,1448.3v7.4M969.7,1448.3v7.4" stroke="#1a1a1a" stroke-width="1.5" fill="none"/>
<text x="557" y="1539.3" class="at" text-anchor="middle">Time (month)</text>
<text transform="translate(33.4,1274.5) rotate(-90)" class="at" text-anchor="middle">AT (µmol kg<tspan font-size="14" dy="-9.5">-1</tspan><tspan dy="9.5">)</tspan></text>
<text x="0" y="1600.5" class="pl">D</text>
<path d="M119.0,1627.3V1974.6H996.0" fill="none" stroke="#1a1a1a" stroke-width="1.5"/>
<text x="109.3" y="1922.6" class="tl">2240</text>
<text x="109.3" y="1864.7" class="tl">2260</text>
<text x="109.3" y="1806.8" class="tl">2280</text>
<text x="109.3" y="1749.0" class="tl">2300</text>
<text x="109.3" y="1691.1" class="tl">2320</text>
<text x="109.3" y="1633.2" class="tl">2340</text>
<text transform="translate(151.0,1998.4) rotate(-45)" class="xl">Dec20</text>
<text transform="translate(179.4,1998.4) rotate(-45)" class="xl">Jan21</text>
<text transform="translate(207.7,1998.4) rotate(-45)" class="xl">Feb21</text>
<text transform="translate(236.1,1998.4) rotate(-45)" class="xl">Mar21</text>
<text transform="translate(264.4,1998.4) rotate(-45)" class="xl">Apr21</text>
<text transform="translate(292.8,1998.4) rotate(-45)" class="xl">May21</text>
<text transform="translate(321.2,1998.4) rotate(-45)" class="xl">Jun21</text>
<text transform="translate(349.5,1998.4) rotate(-45)" class="xl">Jul21</text>
<text transform="translate(371.9,2004.4) rotate(-45)" class="xl">Aug21</text>
<text transform="translate(406.2,1998.4) rotate(-45)" class="xl">Sep21</text>
<text transform="translate(434.6,1998.4) rotate(-45)" class="xl">Oct21</text>
<text transform="translate(457.0,2004.4) rotate(-45)" class="xl">Nov21</text>
<text transform="translate(491.3,1998.4) rotate(-45)" class="xl">Dec21</text>
<text transform="translate(519.7,1998.4) rotate(-45)" class="xl">Jan22</text>
<text transform="translate(548.0,1998.4) rotate(-45)" class="xl">Feb22</text>
<text transform="translate(576.4,1998.4) rotate(-45)" class="xl">Mar22</text>
<text transform="translate(598.8,2004.4) rotate(-45)" class="xl">Apr22</text>
<text transform="translate(627.1,2004.4) rotate(-45)" class="xl">May22</text>
<text transform="translate(655.5,2004.4) rotate(-45)" class="xl">Jun22</text>
<text transform="translate(683.8,2004.4) rotate(-45)" class="xl">Jul22</text>
<text transform="translate(712.2,2004.4) rotate(-45)" class="xl">Aug22</text>
<text transform="translate(740.6,2004.4) rotate(-45)" class="xl">Sep22</text>
<text transform="translate(768.9,2004.4) rotate(-45)" class="xl">Oct22</text>
<text transform="translate(797.3,2004.4) rotate(-45)" class="xl">Nov22</text>
<text transform="translate(825.6,2004.4) rotate(-45)" class="xl">Dec22</text>
<text transform="translate(854.0,2004.4) rotate(-45)" class="xl">Jan23</text>
<text transform="translate(882.4,2004.4) rotate(-45)" class="xl">Feb23</text>
<text transform="translate(910.7,2004.4) rotate(-45)" class="xl">Mar23</text>
<text transform="translate(945.1,1998.4) rotate(-45)" class="xl">Apr23</text>
<text transform="translate(973.4,1998.4) rotate(-45)" class="xl">May23</text>
<path d="M112.2,1916.7H119.0M112.2,1858.8H119.0M112.2,1800.9H119.0M112.2,1743.1H119.0M112.2,1685.2H119.0M112.2,1627.3H119.0M147.3,1974.6v7.4M175.7,1974.6v7.4M204.0,1974.6v7.4M232.4,1974.6v7.4M260.7,1974.6v7.4M289.1,1974.6v7.4M317.5,1974.6v7.4M345.8,1974.6v7.4M374.2,1974.6v7.4M402.5,1974.6v7.4M430.9,1974.6v7.4M459.3,1974.6v7.4M487.6,1974.6v7.4M516.0,1974.6v7.4M544.3,1974.6v7.4M572.7,1974.6v7.4M601.1,1974.6v7.4M629.4,1974.6v7.4M657.8,1974.6v7.4M686.1,1974.6v7.4M714.5,1974.6v7.4M742.9,1974.6v7.4M771.2,1974.6v7.4M799.6,1974.6v7.4M827.9,1974.6v7.4M856.3,1974.6v7.4M884.7,1974.6v7.4M913.0,1974.6v7.4M941.4,1974.6v7.4M969.7,1974.6v7.4" stroke="#1a1a1a" stroke-width="1.5" fill="none"/>
<text x="557" y="2065.6" class="at" text-anchor="middle">Time (month)</text>
<text transform="translate(33.5,1800.9) rotate(-90)" class="at" text-anchor="middle">CT (µmol kg<tspan font-size="14" dy="-9.5">-1</tspan><tspan dy="9.5">)</tspan></text>
<circle cx="685.4" cy="57.6" r="8.2" fill="#000"/>
<circle cx="685.4" cy="85.0" r="8.2" fill="#808080"/>
<circle cx="683.7" cy="111.3" r="6.3" fill="none" stroke="#00c000" stroke-width="2.7"/>
<text x="713.5" y="63.7" class="lg">sensor at in situ temperature</text>
<text x="714" y="92.4" class="lg">sensor at 25</text>
<circle cx="834.1" cy="82.0" r="2.9" fill="none" stroke="#000" stroke-width="0.75"/>
<text x="838.8" y="92.4" class="lg">C</text>
<text x="713" y="119" class="lg">discrete measurements at 25</text>
<circle cx="988.5" cy="108.3" r="2.9" fill="none" stroke="#000" stroke-width="0.75"/>
<text x="993.2" y="119" class="lg">C</text>
<circle cx="822.9" cy="568.6" r="6.2" fill="none" stroke="#00c000" stroke-width="2.7"/>
<text x="852.5" y="563.1" class="lg">estimated from</text>
<text x="852.5" y="587.2" class="lg">bottle pH&amp;AT</text>
<path d="M813.7,622.7H841.1" stroke="#3333ff" stroke-width="1.2"/>
<text x="856.4" y="616.6" class="lg">estimated from</text>
<text x="856.4" y="641.4" class="lg">sensor pH&amp;SSS</text>
<circle cx="828" cy="662.9" r="8.2" fill="#000"/>
<text x="855.3" y="671" class="lg">sensor</text>
<circle cx="705.8" cy="1087.3" r="6.5" fill="none" stroke="#00c000" stroke-width="2.6"/>
<circle cx="705.6" cy="1113.2" r="7.6" fill="#000"/>
<circle cx="705.5" cy="1140.7" r="7.6" fill="#0000ff"/>
<text x="735.5" y="1093.7" class="lg">discrete measurements</text>
<text x="736" y="1120.6" class="lg">estimated from buoy SSS</text>
<text x="735.5" y="1147.6" class="lg">estimated from satellite SSS</text>
<circle cx="698.3" cy="1897.3" r="8.2" fill="#808080"/>
<circle cx="697.0" cy="1930.4" r="6.3" fill="none" stroke="#1515cc" stroke-width="1.3"/>
<circle cx="696.3" cy="1961.8" r="6.5" fill="none" stroke="#00c000" stroke-width="2.7"/>
<text x="724.8" y="1903.7" class="lg">estimated from pH&amp;SSS</text>
<text x="726.4" y="1936.8" class="lg">estimated from pH&amp;AT</text>
<text x="725.7" y="1968" class="lg">discrete measurements</text>
</svg>
</body></html>
